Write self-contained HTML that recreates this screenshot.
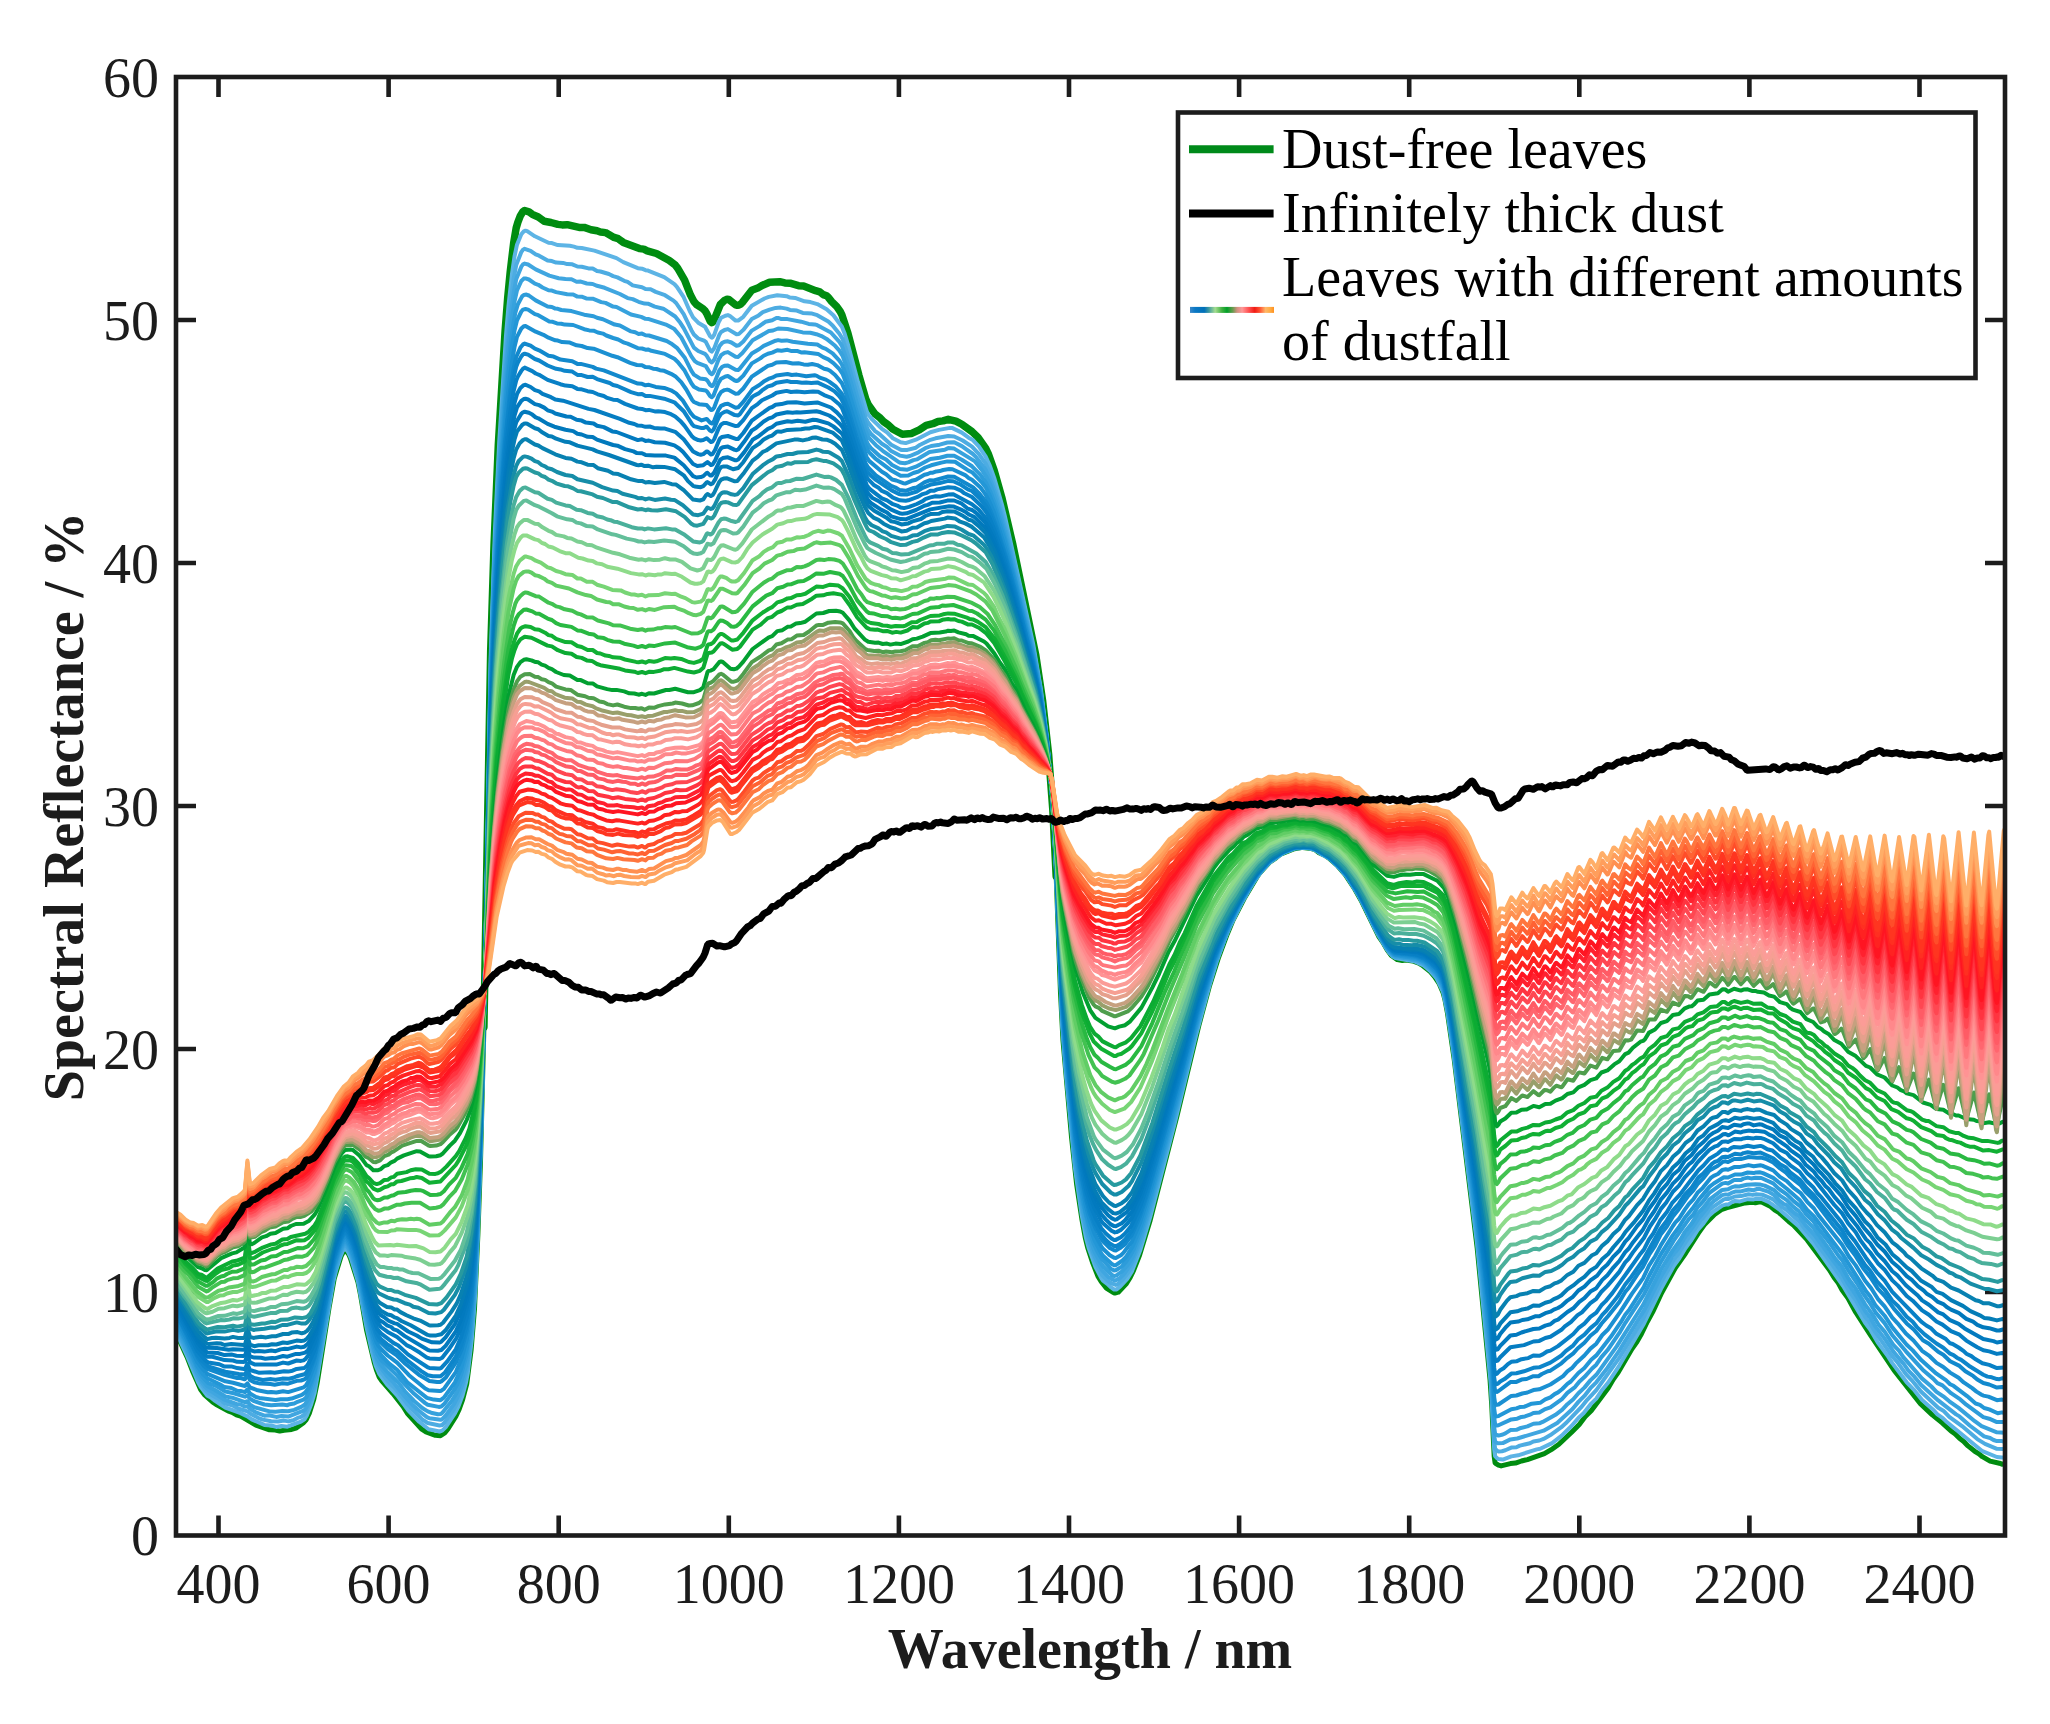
<!DOCTYPE html>
<html><head><meta charset="utf-8"><title>Spectral reflectance</title>
<style>
html,body{margin:0;padding:0;background:#fff;}
body{width:2050px;height:1724px;overflow:hidden;}
svg{display:block;}
text{font-family:"Liberation Serif","Times New Roman",serif;}
</style></head><body>
<svg width="2050" height="1724" viewBox="0 0 2050 1724">
<rect width="2050" height="1724" fill="#fff"/>
<defs><clipPath id="ax"><rect x="176.0" y="77.0" width="1829.0" height="1458.5"/></clipPath></defs>
<path d="M218.5 1535.5V1515.5M218.5 77.0V97.0M388.6 1535.5V1515.5M388.6 77.0V97.0M558.7 1535.5V1515.5M558.7 77.0V97.0M728.8 1535.5V1515.5M728.8 77.0V97.0M898.9 1535.5V1515.5M898.9 77.0V97.0M1069.0 1535.5V1515.5M1069.0 77.0V97.0M1239.1 1535.5V1515.5M1239.1 77.0V97.0M1409.2 1535.5V1515.5M1409.2 77.0V97.0M1579.3 1535.5V1515.5M1579.3 77.0V97.0M1749.4 1535.5V1515.5M1749.4 77.0V97.0M1919.5 1535.5V1515.5M1919.5 77.0V97.0M176.0 1292.0H196.0M2005.0 1292.0H1985.0M176.0 1049.0H196.0M2005.0 1049.0H1985.0M176.0 806.0H196.0M2005.0 806.0H1985.0M176.0 563.0H196.0M2005.0 563.0H1985.0M176.0 320.0H196.0M2005.0 320.0H1985.0" fill="none" stroke="#1c1c1c" stroke-width="4.6"/>
<g clip-path="url(#ax)" fill="none" stroke-width="4" stroke-linejoin="round" stroke-linecap="round">
<path d="M176.0 1333.0l11 23.9l6 15.4l7.6 17.1l4.3 5.8l7.6 6.7l3.4 2.4l12 6.6l4.2 1.5l4.3 2.4l4.2 1.4l15.3 9l13.6 4.6l6 .2l4.2 1.1l4.3-.9l7.6-.8l4.3-1.3l7.7-5.4l2.5-2.9l3.4-7l4.3-13.6l3.4-16.4l11.9-75.5l5.1-28.6l6.8-22.3l2.5-4.8l.9-.8l1.7 .1l2.5 3.2l1.7 4l7.7 24.1l2.5 12.6l6 35.1l7.6 32.1l2.6 8.7l2.5 6.3l2.6 3.9l11.1 12.6l10.2 12.9l4.2 6.8l14.5 16l4.2 2.7l9.4 3.4l5.1 .4l4.2-2.7l3.4-4.3l7.7-12.2l3.4-7.3l3.4-9.5l4.2-16.2l4.3-33.2l3.4-41.5l3.4-74.5l2.6-73l3.4-134.1M1056.2 876.4l4.3 116.7l2.5 47.8l8.6 97.2l5.1 46.9l5.1 33.7l3.4 18.6l2.5 10.4l5.1 15.5l5.1 12.9l3.4 5.7l5.1 6.3l6 3.9l2.5 1.1l3.4-.9l7.7-8.1l4.2-6.7l3.4-7l6-15.4l10.2-33.4l27.2-105.6l22.1-91.5l10.2-37.9l9.4-29.5l8.5-22.9l5.9-14.1l11.1-21.6l13.6-22.8l1.7-2.4l10.2-11.2l6-4l4.2-3.6l14.5-5.8l8.5-1.3l8.5 1.1l3.4 1.1l4.2 3.1l6 2.7l5.1 3.7l7.7 6.9l7.6 8.8l9.4 14.4l6.8 12.2l17 34.8l4.2 6l4.3 7.5l4.2 5.8l6 4.1l5.1 .9l3.4-.4l6.8 .8l6.8 2.6l2.6 1.5l8.5 6.8l4.2 5l4.3 6.5l4.2 9.7l1.7 6.5l2.6 13.8l6.8 46.8l22.9 188.2l12.8 131.1l1.7 25.2l2.5 51.8l.9 6.4l.9 .8l2.5 1.6l2.6 .7l9.3-2.3l5.1-.5l6-2.1l5.9-1.4l17-6l6.8-3.9l7.7-5.5l12.7-12l7.7-7.8l6-7.8l5.9-5.9l17-22.7l5.1-8.7l5.1-7.2l13.6-23.3l5.1-7.3l4.3-7.5l5.9-12.3l6-10.9l8.5-18.3l13.6-24.8l10.2-14.5l12.8-20.1l5.9-8.4l10.2-10.3l6.8-4.8l5.1-1.8l18.7-4.9l6.9-.6l3.4 .5l4.2-.9l2.6 .4l8.5 4.2l4.2 3.5l3.4 2l10.2 9.2l5.1 4l13.6 14.7l22.1 29.9l5.1 8.2l3.5 4.4l4.2 7.6l6 8.3l7.6 13.9l14.5 22.5l23.8 35.5l26.4 33.5l11.9 11.2l10.2 8.2l8.5 7.9l4.2 2.9l4.3 4.3l4.2 3.2l4.3 4.5l6.8 5.4l4.2 2.6l3.4 2.8l7.7 4.4l9.3 2.1l2.6 1l2.6-.2" stroke="#008c10" stroke-width="5"/>
<path d="M483.9 1027.2l6.8-376.6l3.4-107l4.2-98.1l6.8-114.5l2.6-33.2l2.5-25.7l3.4-28.7l2.6-15.5l1.7-5.8l2.5-6.4l2.6-4.1l1.7-1.1l4.2 1.3l3.4 2.5l6 2.7l5.9 4.3l6.8 1.2l6.8 1.9l4.3 .5l5.1-.2l11.9 2.7l5.1 0l6.8 2.3l6 1.1l3.4 1.2l5.1 .6l8.5 4.8l4.2 1.3l5.1 3.7l16.2 6.2l4.3 .5l3.4 1.7l9.3 2.7l12.8 7l5.9 4.5l2.6 3.4l6.8 11.7l5.9 15l3.4 6.4l2.6 3l5.9 3.8l2.6 2.4l1.7 2.7l3.4 7.7l1.7 1.5l.8-.4l1.7-2.8l6-14.9l4.2-4.1l2.6-1.1l1.7 .2l6.8 5.4l1.7 .4l1.7-.3l1.7-.9l1.7-1.7l9.4-12.1l5.9-2.2l4.3-2.6l7.6-3.3l10.2-.5l5.1 1.2l5.1 .3l8.5 2.5l5.1 .4l12 4.6l4.2 1.2l3.4 2.7l3.4 1.2l1.7 1.5l3.4 4.3l5.1 5.1l3.4 4.8l1.7 3.4l6 18.2l11 42.2l6.8 23.5l2.6 5.9l6.8 9.4l4.2 3.1l4.3 4.4l4.2 3l5.1 4.7l9.4 5l9.4-.9l7.6-3.6l6.8-4.4l6.8-1.7l5.1-2.2l5.1-.6l5.1-1.6l7.7 1.8l5.9 3.1l10.2 7.4l6 5.8l7.7 11.1l2.5 5.1l6 17l7.6 26.8l11.1 47.5l22.9 110.3l6.8 45.7l6 53.5l4.2 55l3.4 67" stroke="#008c10" stroke-width="7.5"/>
<path d="M176.0 1331.9l11 23.8l11.1 26.5l2.5 4.5l6.8 9.1l3.4 1.7l4.3 3.4l10.2 6.6l15.3 5.6l6.8 3.3l4.3 3l12.7 5.5l6.8 .6l5.1 1.4l5.1-.8l6 .6l13.6-5l3.4-2.3l2.6-4.3l4.2-10.9l3.4-11.3l18.7-111.3l2.6-10.6l4.2-13.6l2.6-6.3l1.7-2.2l.8-.2l2.6 2.7l3.4 7.4l6.8 22.6l8.5 45.5l5.9 26.6l3.4 12.5l3.4 7.7l8.5 11.5l9.4 10.1l11.1 15.1l11 11.4l9.4 7.4l11 2.3l2.6-.9l3.4-3.2l9.3-14l3.4-6.5l4.3-11.7l3.4-12.8l1.7-8.7l4.2-35.8l3.5-46.6l2.5-58.8l3.4-103l3.4-141.4l6-330.8l4.2-125.7l4.3-89l6.8-107.1l2.5-29.9l3.4-31l2.6-18.1l2.5-11.8l4.3-10.4l2.5-2.9l1.7-.7l1.7 .5l7.7 5.1l13.6 6.4l3.4 .4l5.9 2l12 .7l4.2 .8l3.4 1.2l4.3 .2l12.7 2.6l22.1 7.5l6.8 4l14.5 6.1l4.2 .5l3.5 1.5l2.5 .4l16.2 6.5l10.2 7l2.5 2.7l6.8 10.4l6 13.8l3.4 6.4l5.1 5.3l6.8 4.1l5.1 9.5l1.7 1.4l.8-.4l1.7-2.7l4.3-12.3l2.5-4.5l4.3-2.1l2.5-.6l1.8 .7l5.9 4.8l2.6 0l5.1-3.8l8.5-11.1l12.7-7.2l4.3-1.6l8.5-1.7l9.3 1l3.4 1.4l5.1 .3l9.4 3.4l5.9 .8l6.9 2l9.3 5.1l6.8 6l8.5 11.6l2.6 6.4l3.4 11.1l10.2 38.1l8.5 28.5l1.7 3.7l3.4 4.4l10.2 9.8l5.1 3.6l5.9 5.8l7.7 4l5.1 .9l10.2-3.4l14.5-7.4l8.5-2.4l11-2l2.6 .2l9.3 4.5l6.8 5.1l4.3 2.4l5.9 6.3l6.9 10.3l4.2 9.2l4.3 12l7.6 26.2l3.4 13.5l28.1 127.2l7.6 44.8l6 47.8l5.1 58.8l3.4 60.7l6.8 168l3.4 45l9.4 98.4l6.8 47.3l4.2 22.4l2.6 9.8l6.8 19l5.9 11.3l1.7 2.5l4.3 3.2l3.4 3.4l3.4 2.3l2.5-.1l3.4-2.7l7.7-8.4l4.2-6.9l8.5-21.7l10.2-34.1l23.9-91.5l22.1-91.2l13.6-50.1l6.8-22.1l7.6-21.1l5.1-12.2l12-24.5l12.7-22.2l8.5-11.3l6.8-7.1l12.8-9.1l12.7-5.5l8.5-.1l8.5 1.2l2.6 1l15.3 9.2l11.9 11.8l6 7.5l10.2 16.7l6.8 12.3l8.5 18.7l5.1 9.8l10.2 16.5l4.2 4.2l2.6 1.6l19.6 3.5l8.5 3.9l6.8 5.8l5.9 6.5l6.8 14.3l4.3 20.6l5.9 39.8l23.8 192.2l13.6 139.3l3.4 65.7l.9 6.5l1.7 1.8l1.7 1.1l4.3 .5l8.5-3.2l6.8-1.1l18.7-5.9l3.4-.6l11.9-5.7l9.3-7.2l9.4-9.2l7.6-8.7l5.2-4.8l7.6-9.6l5.1-5l6-8.9l5.9-7.2l11.1-16.9l24.6-41.9l17-34.6l12.8-23l5.1-7l6-10l6.8-9.3l5.9-9.5l6-6.9l5.1-7.3l5.1-4.6l8.5-5.9l3.4-1l2.5 0l5.1-3.2l1.7-.4l5.1 .4l7.7-2.2l6 .2l2.5-.6l6 .3l6.8 3l10.2 7.2l19.5 17l14.5 17.1l29.8 42.4l22.1 36.9l5.1 6.8l7.6 13.1l10.2 13.8l4.3 6.7l14.4 19.2l6.8 7l8.6 10.8l11.9 10.5l3.4 3.7l5.1 3.5l3.4 3.4l36.5 30l14.5 5.8l7.7 .7" stroke="#5db4e5"/>
<path d="M176.0 1329.5l12.7 27.5l9.4 22.7l6.8 9.8l3.4 3.4l12.8 7.5l3.4 2.9l7.6 2l6 3.2l9.3 2.8l2.6 2.1l9.3 5l3.4 1.2l8.5 1.6l6.8 .3l6-.9l4.2 .8l5.1-1.2l4.3-2.3l3.4-1l3.4-2.5l2.6-4.1l4.2-10.7l3.4-10.9l2.6-12.8l6.8-42.9l9.3-53.5l2.6-10.4l5.1-15.8l2.5-4.8l1.7-.9l2.6 1.9l2.5 4.7l7.7 25.2l8.5 44.8l5.9 25.8l3.4 12.1l3.4 7.7l8.5 11.3l8.6 8.6l11 14.4l15.3 15.7l5.1 3.2l11.9 2.5l2.6-.5l2.5-2.6l9.4-13.4l3.4-6.4l5.1-13.1l5.1-21.4l4.2-35.4l3.5-46.6l2.5-58l3.4-101l3.4-138.3l6-324.9l3.4-101l4.2-92.5l6-97.3l3.4-42.7l2.5-24.8l3.4-26.4l2.6-14.1l5.1-13l1.7-2.4l1.7-.9l5.9 2l5.1 3.6l3.4 1.3l8.5 4.9l4.3 .5l4.2 1.5l6.9 .3l4.2 1.2l5.1 .2l5.1 2.2l4.3 .2l6.8 1.7l4.2 .1l4.3 2.5l3.4 .5l8.5 2.5l4.2 2.1l4.3 1.3l6.8 3.4l3.4 1.1l5.1 3.5l9.3 1.8l3.5 1.9l5.1 .2l5.1 2.6l9.3 3.3l8.5 5.4l2.6 2.4l7.6 11.2l7.7 16l2.5 4.3l4.3 4l5.9 2.2l1.7 1.2l4.3 8.5l1.7 1.2l2.5-3.5l5.1-13.5l1.7-2.6l3.4-2l3.4-.9l8.6 5.1l2.5-.3l4.3-4l8.5-10.8l6.8-3.7l4.2-3.3l6.8-2.5l6-1.7l5.1-.3l5.9 1l3.4 1.3l6.8 .7l6 2.3l9.3 .7l5.2 1.6l11 6.4l4.3 3.8l6.8 8.4l3.4 5.5l5.9 18.6l17 59.9l2.6 5.1l6.8 8.2l4.2 2.9l11.9 10.8l9.4 4.9l1.7 .4l5.1-.2l8.5-2.2l4.3-3l10.2-4.9l5.1-1.5l12.7-2.3l6 .5l8.5 4l9.3 6.1l6.8 7.2l6.9 9.8l3.4 7.2l5.1 13.9l11 38.1l11.1 47.3l17 78.1l6.8 37.4l6.8 52.4l5.1 58.4l3.4 59.5l6.8 166.2l3.4 45.1l9.4 97.3l6.8 47l6.8 31.9l7.6 21l6 10.8l5.9 5.8l3.4 2.4l4.3 1.6l1.7-.7l4.2-3.7l4.3-5.1l5.9-8.5l8.5-21.2l10.2-34.1l23-87.5l22.1-90.4l10.2-37.7l10.2-34.2l14.5-37.5l11.1-21.9l7.6-13.6l10.2-15.3l9.4-10.6l16.1-11.4l4.3-.9l5.9-2.6l4.3 .1l4.2-.6l5.1 .4l6.8 2.2l6.8 4.6l6.9 3.3l11 10.8l6.8 8.2l11.1 17.1l11.9 24.4l15.3 28.1l1.7 2.7l5.9 6.7l3.4 2l5.1 .1l13.7 2.6l7.6 3.2l7.7 6.2l4.2 4.9l4.3 6.6l4.2 9.2l4.3 20.1l5.9 39.5l23.8 189.9l13.6 136.5l3.4 65.2l.9 6.6l1.7 1.9l1.7 .9l3.4-.3l3.4-.9l6-2.7l5.1-.4l3.4-1.6l10.2-2.4l3.4-1.8l5.9-.9l4.3-1.6l6.8-3.8l11-7.9l4.3-3.9l15.3-15.9l6-7.3l9.3-9.9l23-32.3l23.8-39l5.9-12.6l6-10.7l5.9-13l12-21.2l5.9-8.1l5.1-8.5l13.6-19.8l8.5-10.8l3.4-4.1l3.4-3l11.1-7.7l1.7-.5l2.5 .2l6.8-2.6l6-.4l7.6-1.9l4.3 .7l3.4-.6l6 .4l11 4.7l7.7 6.9l5.1 3.3l14.4 13.1l5.1 7l8.5 9.7l4.3 6.7l9.3 12l14.5 20.8l6.8 11.7l6.8 9.7l9.4 16.5l4.2 5.5l6 9.8l17 24.2l5.9 7l7.7 10.9l5.9 6.1l9.4 11.4l17 16l5.1 3l6 6.2l12.7 9.2l15.3 13l7.7 4.8l11.9 4.9l7.7 .2" stroke="#4dace2"/>
<path d="M176.0 1327.6l15.3 33.1l6.8 16.4l6.8 9.5l3.4 3.3l4.2 2.1l12 7.7l11.9 4.2l4.2 .6l4.3 2.1l2.5-.4l2.6 2.7l5.9 3.5l8.5 3.3l4.3-.4l7.6 1.6l5.1-.8l6.8 .5l15.4-6l1.7-1.4l2.5-4.3l3.4-8.6l3.4-11l2.6-12.5l6.8-42.9l9.3-52.5l6.8-23.9l2.6-5.9l1.7-2.2l.8-.2l2.6 2.3l3.4 7.1l6.8 22.3l8.5 44.3l8.5 34.3l2.5 6.7l2.6 4.7l7.6 9.9l5.2 5l12.7 15.6l6.8 7.3l9.4 8.5l5.1 3.9l2.5 1.2l11.1 1.5l1.7-.7l3.4-3.4l8.5-11.9l3.4-6.5l5.1-13.3l3.4-12.7l1.7-8.8l4.2-35l3.5-45.9l2.5-57.2l3.4-99.2l3.4-136.9l6-318.1l3.4-99.8l4.2-90.3l6-95.5l3.4-41.7l2.5-23.6l3.4-25.9l2.6-14.1l5.1-12.6l1.7-2.4l1.7-.7l3.4 .9l7.6 4.9l13.6 6.2l9.4 2.6l6.8 .9l6 .1l5.1 2.5l4.2-.1l6 1.9l5.9 .5l4.3 1.8l7.6 2l15.3 6.2l7.7 4.1l5.1 1l5.9 2.7l6 1.8l3.4 .1l6.8 2.9l8.5 2.1l11.9 7.8l5.1 6.3l3.4 5.3l10.2 19.5l4.3 3.4l6.8 2.9l1.7 1.8l3.4 5.7l1.7 1.1l2.5-2.9l5.1-13.4l2.6-3.1l2.5-1.3l3.4-.5l3.5 1.2l5.1 3.2l2.5-.5l4.3-3.8l8.5-10.8l7.6-4.5l6-4.3l6.8-1.5l4.2-2.2l1.7-.2l3.4 1.2l6 0l13.6 2.6l7.6 2.2l6 .5l2.6 .8l13.6 7.3l8.5 9.4l2.5 3.9l6.8 20.2l9.4 33.6l8.5 27l1.7 3.7l2.5 3.4l11.1 10.1l5.1 3.2l4.2 4.1l8.6 4.5l6.8 1.1l3.4-.7l8.5-3.7l6.8-4.1l5.9-2.2l8.5-1.3l7.7-2.2l6.8-.3l7.6 3.9l11.1 7.9l3.4 3.4l9.4 12.3l5.9 13.4l4.3 12.2l11 39.3l25.5 112l5.1 25.5l3.4 20.9l6 45.7l5.1 56.8l3.4 59.6l6.8 164.4l3.4 44.6l9.4 96.6l6.8 46.2l4.2 21.7l2.6 10.2l4.2 13l3.4 8.1l6 10.4l5.9 6.4l6.8 4.1l5.1-2.9l3.4-3.1l7.7-10.7l9.3-22.4l11.9-40.1l29.8-113l15.3-63.4l15.3-53.9l6-17.3l8.5-21.7l10.2-23l19.6-33l12.7-14.6l12.8-8.4l11.9-4.9l8.5-1l7.6 .2l4.3 1.3l15.3 9.7l11.1 10.8l6.8 8.4l13.6 22.6l16.1 32.6l8.5 15l2.6 3.5l4.2 4.2l2.6 1.4l10.2 .8l12.8 2.8l3.4 1.8l8.5 6.8l5.9 6.6l3.4 5.9l3.4 7.9l4.3 19.9l6.8 44.9l22.9 181.9l12.8 124.1l4.2 74.6l.9 6.4l.9 .9l1.7 .8l5.1-.1l7.6-3.7l6.8-.9l26.4-7.8l13.6-7.8l15.3-13.9l5.9-7.1l6-6l6-7.7l5.9-5.9l11.1-14.3l11.9-17.4l25.5-41.5l16.1-32.5l6-9.9l5.1-10.2l6.8-8.8l6-10.1l8.5-11.2l5.1-7.7l11-13.5l5.1-4.6l7.7-5.5l3.4-.7l2.5 .4l3.4-1.9l4.3-1.5l5.1 0l7.6-1.9l5.2 .7l3.4-1.2l2.5-.2l8.5 2.8l5.1 2.8l6.8 6.7l3.4 2.6l3.4 1.6l4.3 4.8l8.5 6.9l5.9 8.2l8.5 9.2l27.3 37.3l6.8 12l8.5 12.4l8.5 15l5.1 6.5l5.1 8.8l9.3 12.2l9.4 13.8l10.2 12.1l4.2 6.2l6 6l6.8 8.3l17 15.4l17.9 14l3.4 2l10.2 9.1l14.4 10.8l6 1.7l3.4 2l3.4 1.1l5.1 0l2.6 .7" stroke="#40a6e0"/>
<path d="M176.0 1325.3l7.6 16l13.6 31.1l4.3 6.9l5.9 6.8l7.7 3.9l10.2 6.4l6.8 1.3l12.8 4.5l2.5-1l2.6 3.4l4.2 2.6l16.2 4.4l5.1 .2l6.8-.9l5.9 .4l6-1.4l7.6-3.3l3.5-2.5l2.5-4.2l6.8-19l2.6-12.2l16.1-93.5l2.6-10.1l4.2-13.4l3.4-7.7l1.7-1.2l1.7 1.4l3.4 6.6l6.8 20.4l3.4 14.6l6 32.3l5.9 25l4.3 14.4l3.4 6.4l6.8 7.5l11.1 10.7l7.6 10l8.5 8.9l8.5 7.3l5.1 3.1l3.4 1.3l6.8 1.5l2.6-.1l1.7-1.2l9.3-11.6l5.1-8.3l5.1-12.6l4.3-15l1.7-8.1l3.4-26.5l3.4-39.4l3.4-70.6l3.4-98l3.4-134.4l6-312.8l4.2-117.7l4.3-83.4l6.8-99.8l2.5-27.8l3.4-28.3l2.6-17.1l2.5-11.2l4.3-9.3l2.5-2.4l1.7-.2l3.4 1.1l6 4.2l3.4 1.1l4.2 2.7l6 2.8l3.4 .3l4.2 1.5l11.1 2.1l6 .3l4.2 2.1l4.3 .1l5.1 1.9l5.9 .1l8.5 3.4l4.3 .8l7.6 3.7l3.4 .4l14.5 7.5l10.2 2.4l4.3 1.9l3.4 .3l17 5.5l8.5 4.5l6.8 8.1l10.2 19.2l3.4 4.8l2.5 1.7l8.5 3.2l4.3 7l1.7 1.1l.8-.4l1.7-2.9l4.3-11.5l2.5-4.2l3.4-2.3l3.4-.8l7.7 4.6l2.6 .2l4.2-3.9l10.2-12.7l16.2-9.2l4.2-.6l5.1-2l9.4 .5l15.3 3.4l7.6 .4l6 1.4l5.1 1.9l5.1 2.8l8.5 6.9l4.3 4.8l3.4 5.7l3.4 9.7l11 38.6l8.5 26.9l3.4 6.6l6.8 7.1l6.8 5.6l16.2 11.3l1.7 .7l4.3 .4l3.4-.8l5.1-2.3l3.4-.7l12.7-7.3l15.3-2.4l3.4-1.6l6 .5l20.4 12.5l7.6 9.4l4.3 6.7l3.4 6.6l2.6 6.8l5.9 18.4l6.8 23.7l9.4 38.2l17.8 77.9l7.7 40.1l6.8 50.6l5.1 56l3.4 58.6l6.8 163.1l3.4 44l9.4 95.8l6.8 45.9l4.2 21.3l3.4 12.9l5.1 14.5l6 11.3l2.5 3.4l9.4 8.9l1.7 .9l2.5-.7l5.1-3.8l5.1-5.4l3.4-4.9l2.6-5l8.5-21.9l7.6-24.4l9.4-34.6l23-86.3l14.4-59.3l10.2-36.9l6-20.2l5.9-17.6l11.1-27.7l12.8-26.1l11.9-20.2l3.4-5l12.7-15l12.8-8.1l12.7-5l7.7-.8l6.8 .2l5.9 1.9l15.4 9.9l9.3 9l6.8 8.4l11.9 18.6l12.8 26.2l8.5 15.5l5.9 9.8l6 7.5l3.4 2.2l4.2 .4l4.3 1.3l3.4 .2l4.3 1.1l4.2 .1l8.5 3.8l6.8 5.7l6 6.9l3.4 6.3l2.5 6.2l4.3 19.5l5.9 38.7l23 178.3l13.6 129.6l4.2 72.8l.9 6.4l.9 .9l2.5 1l4.3-1.1l2.5-1.1l5.1-3.3l6-.3l3.4-1.5l7.6-1.9l6-2.7l5.9-.4l3.4-1.4l12.8-7.1l6.8-5.1l5.1-5.5l5.9-5l5.1-6l6-5.6l6-7.2l5.9-5.6l20.4-28.4l26.4-41.6l17.8-35.1l11.1-18.3l8.5-12l4.3-7.4l6.8-8.4l5.9-9.5l7.7-8.7l4.2-5.7l12.8-9.8l5.9-.6l3.4-1.9l3.4-1.1l4.3 .2l7.6-1.7l8.6-.6l5.1 .4l4.2 1l9.4 4.5l5.9 5.6l6.8 4.5l6 6.2l5.9 4.7l5.1 6.6l9.4 9.8l16.1 22l5.1 8l6.9 8.2l7.6 13.6l6.8 9.1l9.4 15.9l7.6 10.6l6 9.8l5.9 6.9l8.5 13l6 6.3l4.2 6.2l18.8 21.5l9.3 7.9l5.1 5.3l6.8 4.5l6 5l9.3 6.6l16.2 13.3l6.8 4.9l15.3 6.2l7.7 .5" stroke="#37a2dd"/>
<path d="M176.0 1323.0l11 22.1l11.1 25.3l5.1 7.5l5.1 5.2l7.6 2.8l9.4 5.6l8.5 1.8l11.1 3.4l2.5-1.3l2.6 3.3l4.2 2.5l10.2 3.3l6.8 .8l11.1-.7l5.1 .6l2.5-1l4.3-.6l3.4-1.8l6-2.1l2.5-2.3l1.7-3l6.8-19.1l3.4-15.9l5.1-31.6l11.1-59.3l2.5-9.2l4.3-12.1l2.5-5l1.7-.9l2.6 2.3l2.5 4.8l6.8 20.1l2.6 10.4l6.8 35.2l6.8 27.9l4.2 12.1l4.3 6.8l15.3 14.5l6 7.1l11 11.3l11.1 9.3l2.5 1.6l11.1 2.2l2.5-.4l3.4-3.1l8.5-11.9l4.3-7.6l4.2-11.1l5.1-18.6l3.4-22.5l4.3-46.4l2.6-48.6l3.4-89.1l3.4-123.3l6.8-341.3l4.2-115.6l4.3-81.5l6.8-98l2.5-27l4.3-33.3l2.5-14.8l2.6-8.6l4.2-7.8l1.7-1.4l2.6-.4l2.5 .9l6.8 4.9l11.9 6.1l4.3 .5l3.4 1.6l2.5 .2l3.5 1.2l10.2 1.1l12.7 3.6l9.4 1.5l3.4 1.6l5.9 1.4l11.9 5.4l5.1 .8l11.1 6l4.2 .9l3.4 1.7l3.4-.4l3.5 1.6l3.4 .3l17.8 5.5l4.3 2.4l5.9 4.4l7.7 9.6l6.8 13.5l2.5 3.7l6 3.8l5.9 .8l1.7 1.6l2.6 4.1l1.7 1.2l.8-.3l1.7-2.6l5.1-13l2.6-3.2l2.5-1.3l3.4-.2l7.7 4.2l2.6 .3l1.7-1.5l11.9-15.1l7.6-4.4l4.3-3.2l11.9-5.1l2.5-.6l3.4 .6l5.1-.3l6 1.4l15.3 2l9.4 .7l5.1 3.1l3.4 1.2l6.8 4.5l6.8 7.4l2.5 3.8l3.4 8.7l11.9 40.1l9.4 28.2l1.7 3.3l2.5 3.1l9.4 8.5l5.9 3.2l6 5.4l7.7 4l7.6 .7l8.5-3l14.5-7.7l9.3-1.2l7.7-2l6.8 0l7.6 3.9l10.2 6.6l8.5 8.6l5.2 7.3l4.2 8.6l4.3 11.1l7.6 24l5.1 18.5l26.4 110.5l7.6 41.2l6 43.6l5.1 55.1l3.4 58.7l6.8 160.6l3.4 43.3l9.4 94.7l7.6 49.7l6.8 29.3l4.3 12.4l3.4 7.5l5.1 8.4l8.5 9.3l3.4 1.7l1.7-.1l5.9-3.7l4.3-4.8l4.2-6.1l3.4-6.3l7.7-19.5l9.3-30.4l29.8-110.6l17.9-71.7l14.4-49.3l6.8-18.7l10.2-25.1l12.8-25.1l10.2-16.9l5.1-7.3l11.1-12.8l14.4-10l12.8-4.6l6.8-.4l3.4 .8l5.1-.2l3.4 1l14.5 9.1l12.7 12l7.7 10.2l4.2 7.4l3.4 4.4l20.4 40.6l9.4 15.3l5.1 6l1.7 1.3l2.5 .8l8.5 1l14.5 2.9l5.1 2.5l11.9 11.3l3.4 5.5l3.4 8l4.3 19l6.8 43.8l22.9 176.9l12.8 119.4l1.7 22.7l2.5 48.9l.9 6.4l.9 1l.8 .5l1.7-.2l12.8-5.9l5.9-.7l4.3-1.8l3.4-.5l5.1-1.7l3.4-1.7l5.9-.6l6-3.3l5.1-1.7l11.9-8.6l5.1-5.9l7.6-5.8l4.3-5.4l5.1-4.6l7.7-8.6l4.2-3.8l5.1-7.6l6-6.8l12.7-18.5l5.1-8.7l18.7-28.6l16.2-31.2l13.6-22.7l15.3-21.8l4.3-4.3l4.2-7.1l6-6.6l5.9-8l12.8-9.2l3.4-.7l2.5 .6l6-3.5l6.8-.1l2.5-1.3l4.3-1l3.4 .8l4.3-.6l5.9 .2l11.9 5.3l5.1 5.1l8.5 6l6.8 6.7l6.8 5.3l6 8.1l6.8 6.5l4.2 6.4l12.8 16.2l8.5 12.5l3.4 3.8l6 10.2l10.2 15.1l5.1 8.7l6.8 9.6l5.1 8.6l9.3 11l7.7 12.2l13.6 16l17.9 19.5l9.3 7.8l4.3 4.5l5.1 2.3l8.5 7.8l9.3 6.2l6 5.3l17 12.4l5.9 1.6l7.7 3.4l7.7-.1" stroke="#2d9cda"/>
<path d="M176.0 1321.2l11 21.4l10.2 23.2l6 8.7l4.2 3.7l12.8 6.3l4.3 2.6l6.8 .9l5.9 2.7l3.4 .2l4.3 1.2l2.5-2.7l2.6 4.2l5.9 3.4l3.4 .9l16.2 2.1l5.1-.8l6.8 0l4.2-.6l10.2-3.7l3.5-2.4l2.5-3.5l3.4-7.9l3.4-10l3.4-15.7l6-35.1l10.2-54.1l5.9-19.5l2.6-5.3l1.7-2l.8-.3l1.7 1l3.4 6l6.8 19.8l2.6 9.9l6.8 35.1l6.8 27.2l3.4 9.8l4.2 7.1l7.7 8.1l8.5 6.7l10.2 12.4l19.6 15.7l6.8 1.7l6.8 .6l3.4-2.5l11-15.4l6-13.2l5.9-21.2l3.4-22.3l4.3-45.8l2.6-48.1l3.4-87.3l3.4-121.4l6.8-334.9l4.2-113.3l4.3-79.2l6.8-96.3l2.5-26.5l3.4-26.6l2.6-15.7l2.5-10.2l4.3-8.8l1.7-1.9l2.5-.6l2.6 .6l6.8 4.6l3.4 1l11 6.2l3.4 .4l4.3 1.6l4.3 .3l3.4 .9l8.5 .4l11 4.2l5.1 1.2l4.3 .3l4.2 1.8l5.1 1.1l3.4 1.9l6.8 2.5l5.1 1.5l6 3.2l3.4 1l10.2 4.5l4.2 .3l3.5 1.2l2.5-.3l3.4 1.4l13.6 3.1l9.4 4.9l3.4 3.1l6.8 8.7l6.8 12.7l2.5 3.4l5.1 2.9l6.8 1l1.7 1.5l2.6 4l1.7 1.1l1.7-1.6l5.1-13l2.5-3.9l4.3-2.2l2.5-.5l6.9 4.5l1.7 .5l1.7-.5l5.1-4.9l8.5-12.2l8.5-5l3.4-2.7l4.2-2l4.3-1.1l5.1-2.4l4.2 .6l6-1l4.2 1.3l6 0l3.4 1.3l3.4-.2l13.6 1.7l5.1 3.2l5.1 2.2l5.1 3.8l6 6.1l3.4 5l3.4 9l11 37.2l8.5 25.5l3.4 6.5l6 5.9l15.3 11.6l10.2 5.9l7.7-.3l5.1-2.5l5.1-1.5l6.8-4l5.9-2.2l10.2-2.7l6-1.2l7.6 .4l13.6 8.8l3.4 1.6l9.4 9.6l4.3 5.4l3.4 6.9l5.1 12.9l10.2 32.2l11 43l6 26.5l11 44.7l5.1 24.4l3.4 19.4l6 43.4l5.1 54.7l3.4 57.7l6.8 157.7l3.4 43l9.4 93.7l7.6 49.5l3.4 16.7l3.4 12.5l5.1 14.3l6.8 13l1.7 2.4l8.5 8l2.6 1.5l1.7-.1l6.8-4.7l3.4-3.5l6.8-10.9l7.6-18.5l11.9-38.6l30.7-113.3l15.3-60.7l16.1-53.6l4.3-11.6l11-26.1l12.8-24.8l11.9-20l14.5-17.1l14.4-9.5l6.8-3.2l6.8-2l13.6 .3l6 2l9.4 6.6l4.2 2.4l11.1 10.3l5.9 7.3l11.9 18.8l6.8 12.4l10.2 21.4l10.2 17.8l2.6 3.3l5.1 4.3l5.9 1.7l16.2 2l8.5 3.7l5.1 4.1l6.8 7l3.4 5.5l3.4 7.2l4.3 18.9l5.9 37.8l23.8 180.1l12.8 116.5l1.7 22.1l2.5 48.1l.9 6.3l.9 1l.8 .4l1.7-.3l12.8-6.8l5.1-.9l3.4-1.3l4.2-.3l7.7-3.1l8.5-.9l5.1-3.4l5.1-2.1l4.2-3.2l3.4-1.7l4.3-3.4l5.1-5.1l3.4-2.4l7.6-8.5l6-5l6.8-8.3l5.1-4.3l14.5-18.6l11-16.2l3.4-5.8l4.3-5.4l14.4-22.7l5.1-10.7l11.9-21.9l12-19l5.9-7.8l6-9.5l7.6-9.2l6-8.5l11-13.2l4.3-3.4l10.2-6.3l4.2 .3l6.8-3l6 .1l6.8-2.1l6 .6l2.5-.7l3.4-.1l3.4 .8l10.2 4.8l13.6 10.8l12.8 11.2l7.6 10l6.8 6.6l29 38.4l22.9 36l4.3 5.4l5.1 8.7l9.3 10.7l7.7 11.7l14.4 17.3l6 5.7l8.5 9.7l15.3 13.6l9.4 6.4l4.2 4.1l3.4 1.6l13.6 10.3l8.5 7.4l4.3 1.3l4.2 3.2l5.1 1.4l8.5 3.9l4.3-.9l2.6 .3" stroke="#2397d7"/>
<path d="M176.0 1318.0l11 21.4l10.2 22.4l5.1 6.8l5.1 5.3l17.9 7.4l7.7 1.5l11.9 3.2l2.5-2.7l2.6 4.2l7.6 2.8l10.2 2l3.4-.4l5.1 .6l6.8-1.3l5.1 .9l15.4-4.7l2.5-2.3l1.7-2.8l6.8-17.5l3.4-15.2l5.1-29.8l10.2-53.2l6.8-22.5l2.6-5.4l1.7-1.9l.8-.2l1.7 .9l2.6 3.9l4.2 10.5l5.1 16.7l7.7 37.9l6.8 26.3l3.4 10l1.7 2.9l3.4 4l5.9 5.8l9.4 7.2l11.9 12.5l16.2 13.3l3.4 1.7l11 .9l1.7-.4l2.6-1.8l11.9-16.8l5.9-14.2l5.1-18.5l4.3-29.1l3.4-36.9l2.6-46.9l3.4-85.5l3.4-118.5l6.8-327l4.2-110.6l4.3-77.3l6.8-93.5l2.5-25.7l3.4-25.9l2.6-15.4l2.5-10.3l4.3-8.3l2.5-2.3l1.7-.2l10.2 5.7l7.7 3.1l5.1 2.9l6.8 2.6l2.5 .3l4.3 1.5l7.7 .5l6.8 2.7l5.1 .7l5.9 2.1l6 .6l18.7 7.1l5.1 1.4l12.7 5.6l6.8 2.2l5.1 .3l3.5 1.8l3.4 .1l4.2 1.5l3.4 .3l3.4 1.2l4.3 .6l6.8 3l4.2 2.4l6 6l5.1 7.3l5.9 10.5l1.7 2l5.1 2.2l7.7 .9l4.2 4.9l1.7-.3l1.7-2.4l4.3-11.4l2.5-3.9l3.4-1.9l2.6-.5l1.7 .4l6.8 3.7l2.6-.2l5.1-5l8.5-11.8l16.1-10.8l4.3-1.1l4.2-2.3l9.4-.5l6.8 1.5l5.9-.2l5.1 1.1l4.3 .3l4.2-.7l5.2 1.1l6.8 3.6l3.4 .8l2.5 1.3l5.1 4.2l6.8 8.1l3.4 8l11.9 38.4l9.4 27.5l2.5 3.9l12.8 10.8l4.2 2.5l6 5.3l4.2 1l6.9 2.7l2.5 .2l6-2.6l4.2-1.1l8.5-5l3.4-.7l2.6-1.2l2.5-.1l3.4-1.3l3.4-.3l3.4-1.1l6-.9l3.4 .2l12.7 5.8l3.4 2.9l3.4 1.8l8.5 7.7l5.2 7.2l4.2 8l4.3 10.3l12.7 41.1l9.4 36.1l17 70l6.8 34.2l6.8 47.1l5.1 53.3l3.4 56.4l6.8 155.2l3.4 42.6l9.4 92l6.8 44.7l4.2 20.9l3.4 12.9l5.1 14.1l6.8 12.8l1.7 2.3l6.8 6.5l4.3 2.6l1.7 .2l5.1-2.8l2.5-2.3l8.5-11.4l7.7-17.7l11.9-37.6l30.6-111.2l15.3-60l16.2-52.6l12.7-32.8l10.2-21.1l12.8-21.5l8.5-13l10.2-11.8l1.7-1.7l3.4-1.7l3.4-2.8l6.8-4.2l11.9-4.1l5.1-.2l3.4-.8l11.1 2l4.2 3.1l9.4 4.9l13.6 12.9l6 6.8l16.1 26.7l8.5 18.4l8.5 15.4l6 9.6l6.8 7.1l1.7 .9l4.2-.1l16.2 2.4l8.5 3.4l6.8 5.5l5.1 5.1l3.4 5.4l3.4 7.1l3.4 14.1l6.8 41.8l23.8 176.1l12.8 113.1l1.7 21.5l2.5 47.4l.9 6.1l.9 1l.8 .5l1.7-.4l12.8-8.6l5.1-.4l5.9-2l5.1-1l6-2.4l5.9-.8l11.1-4.8l12.7-8.4l4.3-4.7l5.1-3.8l3.4-4.2l8.5-7.9l6-6.9l5.9-4.9l6-8.7l5.9-5.8l11.9-17.1l11.9-18.5l11.1-15.4l5.9-12.5l6-9.2l5.9-11.4l12-19.1l2.5-3.6l3.4-3.4l6-9.4l4.2-5.8l4.3-4.5l4.2-6.5l5.1-4.7l8.5-10.5l2.6-1.8l4.2-1.8l4.3-4l3.4-.7l2.5 .5l6-2.7l5.9-.2l8.5-1.8l5.2 1.1l6.8-.9l1.7 .3l11 4.8l6.8 6.5l6.8 4.2l6.8 6.7l6.8 5l6.8 9l6.8 6.7l4.3 6.5l23.8 29.8l6.8 11.7l6.8 8.9l9.4 15.3l5.9 7.3l6.8 10.8l6.8 7.5l7.7 11.4l5.1 5.4l8.5 10.5l7.6 6.9l8.6 10.3l7.6 5.4l6.8 6.7l6.8 4.1l6.8 5.6l8.5 5.2l5.1 4.6l8.5 5.7l4.3 3.5l5.1 3.1l1.7 .9l5.1 1l8.5 3.6l5.1-.6l2.6 .6" stroke="#1b90d2"/>
<path d="M176.0 1314.7l5.1 9l17 34.6l5.9 7.8l3.4 2.8l17.1 6l12.7 3.1l3.4 0l3.4 1.2l.9 0l2.5-4.4l2.6 5.2l4.2 2.3l6 1.3l10.2 .4l4.2 .7l7.7-1.5l5.1 .6l9.3-3l4.3-.3l3.4-1.2l1.7-1.3l2.6-4.3l5.9-15.6l3.4-14.7l16.2-83.8l6.8-20.3l2.5-4.8l1.7-1.1l1.7 1.2l3.4 5.4l4.3 10.6l4.2 13.8l7.7 37.5l5.9 22.2l4.3 12.6l1.7 3.1l2.5 2.8l6.8 6.4l9.4 6.7l8.5 8.3l14.5 11.6l9.3 5.4l7.7 1.1l2.5 0l1.7-.7l4.3-3.6l10.2-15.1l5.9-13.8l5.1-18.4l4.3-28.3l3.4-35.9l2.6-45.9l3.4-83.7l3.4-115.6l6.8-317.7l3.4-89.7l4.2-81.2l6-84.1l5.9-58.2l3.4-21.6l2.6-11.6l4.2-9.4l2.6-3.2l1.7-.8l5.9 2.1l4.3 3l4.2 1.6l9.4 5.5l5.1 .8l6.8 3l11.9 1.7l5.1 2.6l3.4 0l11.9 3l3.4 1.7l7.7 1.8l34 13.2l4.2 .2l3.5 1.5l3.4-.5l6.8 2.1l8.5 1l6.8 2.4l5.1 3.1l6.8 7.2l7.6 12.1l3.4 4.1l7.7 3.6l5.1-1.5l3.4 3.8l1.7 .9l.8-.4l1.7-2.6l4.3-11l2.5-3.8l3.4-1.5l3.4-.5l7.7 4l2.6-.5l5.1-5.4l9.3-12.8l6.8-4.1l4.3-3.4l5.1-2.9l3.4-1l4.2-2.3l11.1-1.4l4.2 1l5.1-.4l9.4 1.6l8.5-.9l1.7 .3l3.4 2l6 2l3.4 2l6.8 5.1l5.9 7.1l2.6 5.4l3.4 9.5l8.5 27.9l9.3 26.9l2.6 4.2l7.6 7.6l15.3 10.5l4.3 1.7l4.3 2.6l5.9 .7l6.8-2.5l4.3-.8l7.6-5.1l5.1-2.1l4.3 .1l14.4-3.9l6 .3l18.7 10.4l6.8 6.7l6.8 8.6l4.3 9.1l5.9 15.9l9.4 29.4l10.2 37.8l10.2 42.6l6.8 25.4l7.6 38.2l6 41.4l5.1 52l3.4 56l6.8 152l3.4 42l9.4 90.6l6.8 44l4.2 20.6l3.4 13l6 15.4l5.9 11l1.7 2.4l6.8 6.7l4.3 2.2l1.7 .3l4.2-2.4l5.1-4l6.8-9.3l7.7-17.5l6.8-20.2l6.8-22.9l28.9-104.3l16.2-61.4l16.1-50.6l11.1-27.1l10.2-21.1l7.7-14.2l12.7-20.2l13.6-15l13.6-8.7l8.5-3.3l4.3-1.3l6.8-.5l6.8 .5l8.5 3.8l11.9 7.1l9.4 8.5l8.5 9.7l11 17.4l18.7 37.1l11.1 17.2l5.9 5.1l17.9 2.1l6 1.6l5.9 2.4l6 4.2l5.9 5.9l2.6 3.6l4.2 8.5l4.3 18.1l5.9 36.7l23.8 172.1l12.8 109.8l1.7 20.8l2.5 46.2l.9 5.9l.9 .8l.8 .3l1.7-.9l11.9-8.9l6-.2l5.1-2.3l5.1-.6l6.8-2.8l5.1 0l3.4-2.2l5.9-2.7l2.6-.6l11-7.4l6-5.5l5.9-4.5l4.3-4.8l6.8-5.7l6-7l5.9-4.8l5.1-7.2l6.8-7.8l11.1-14.1l5.9-10l3.4-3.9l8.5-13.2l6-8.1l5.9-11.7l6-9.2l5.9-11.6l6-7.6l6-10.2l5.9-7.2l9.4-13.3l5.1-5.5l4.2-6.3l6-6.1l5.9-7.4l8.5-4.9l5.1-4l2.6-.4l2.5 .8l6-3.2l6.8 .2l7.6-2.1l8.6 .8l4.2-.2l4.3 1.2l7.6 3.7l6.8 5.9l6 4.2l4.2 4.4l10.2 7.9l5.1 6.8l7.7 7.4l19.5 25.7l9.4 11.4l6 9.9l7.6 10l7.7 12.4l6.8 8.4l7.6 11.7l6.8 7.2l9.4 13.1l12.7 14.5l6.8 5.9l9.4 10.9l6 3.5l9.3 8.1l5.1 2.9l6.8 6.5l9.4 4.7l5.9 5.3l7.7 4.7l4.2 3.6l6 3.5l5.9 1.5l7.7 3.1l5.1-.6l2.6 .3" stroke="#1289cd"/>
<path d="M176.0 1312.7l11 20.5l10.2 21.4l3.4 4.5l7.7 7.3l17 5.3l13.6 2.3l6 .4l2.5-4.4l2.6 5.7l4.2 2.3l8.5 2l8.5-.9l4.3 .7l6.8-1.2l6.8 .2l4.2-1l3.4-1.6l7.7-1.9l1.7-1.5l2.6-4.2l3.4-6.8l2.5-6.7l3.4-14.8l15.3-79.6l2.6-9.1l4.2-11.8l2.6-5.4l2.5-2.6l1.7 .7l1.7 2.4l3.4 6.3l1.7 4.5l5.1 16.7l7.7 36.2l5.9 21.8l4.3 11.9l1.7 3.3l2.5 3.4l6 5.1l3.4 2l3.4 3.1l3.4 1.8l11.1 10.2l12.7 9.7l6.8 4.3l5.1 1.1l7.7-.1l4.2-3.4l11.1-16.1l5.1-11l5.9-20.8l3.4-20.9l4.3-42.5l2.6-45.5l3.4-82.1l3.4-112.8l6.8-313.1l3.4-88.9l4.2-80.3l6-82.6l3.4-36.2l2.5-20.8l3.4-21.4l2.6-11l1.7-4.3l3.4-6.1l1.7-2l1.7-.7l3.4 .9l6.8 4.4l4.2 1.5l8.5 5l8.5 3.3l4.3 .6l4.3 1.4l7.6 .8l5.1 3.3l4.3 .2l5.9 1.9l5.1-.2l4.3 2.3l12.7 3.9l3.4 2l4.3 1l13.6 6.1l6.8 2.1l4.2-.2l3.5 1.9l4.2 0l14.5 2.8l10.2 3.6l9.3 8.9l8.5 13.1l1.7 1.8l7.7 2l1.7 0l3.4-1.4l3.4 4l1.7 .7l1.7-1.7l5.1-12l2.5-3.8l3.4-2l2.6-.7l7.7 3.9l3.4 .4l1.7-1.4l11.9-16.7l1.7-1.4l5.1-2.6l4.2-3.6l5.1-3.4l4.3-1.1l4.2-2.6l11.1-1.6l3.4 .9l5.9 0l5.1 .8l4.3-.4l5.1 .5l6-.5l11 5.1l6 3.6l4.2 4.1l2.6 3.3l2.5 5l5.1 13.5l6.8 22.2l6 15.9l4.2 13.3l1.7 3.4l2.6 3l5.9 5.1l15.3 10.2l7.7 3.9l2.6 .6l5.9-.2l9.4-2.9l5.9-3.7l8.5-3.4l8.5-1.3l8.5-2.2l5.1 .4l7.7 3.5l6.8 4.5l4.2 1.7l7.7 7.2l6 7.5l3.4 6.5l5.9 14.3l10.2 30.3l10.2 37.3l16.2 63.6l5.9 25.9l3.4 18.5l6 40.3l5.1 51.3l3.4 55.8l6.8 150.4l3.4 41.5l9.4 90l7.6 47.7l3.4 15.9l4.3 15.6l4.2 11.4l6.8 12.6l5.1 5.9l3.4 3l4.3 2.4l2.5 .1l3.4-2l5.1-4.5l6.8-8.8l8.5-19.6l6.8-20l5.1-17.5l29.8-105.7l14.5-55.5l8.5-27.7l7.6-23.5l6-15.2l5.9-13.9l11.9-24.8l19.6-31.8l12.8-14.4l11-7.6l10.2-4.7l6-1.8l4.2 .2l3.4-.8l6.8 .5l3.4 1l6 3.3l11.9 7.9l6.8 6.4l9.4 10.1l10.2 16.6l16.1 31.3l7.7 13.5l5.1 8.4l2.5 3.1l5.1 3.7l4.3 .4l3.4 .9l3.4-.1l10.2 1.5l8.5 3.1l6 4.2l5.9 5.8l3.4 5l3.4 6.8l4.3 18.3l5.9 36.1l23 163.5l13.6 113.8l1.7 20.4l2.5 45.6l.9 5.9l.9 .8l1.7-.3l2.5-2.4l4.3-2.4l6.8-5.5l5.1-.4l7.6-1.9l9.4-3.5l5.9-.5l11.1-4.7l11-7.1l4.3-4.4l7.6-5.8l5.1-6.2l6-4.4l6-6.6l5.9-4.8l6-8.4l3.4-3.5l11.9-14.8l7.6-12.1l6-7.6l11.9-16.9l17-30.5l6.8-9.1l6-10l5.9-6.7l6-9l6.8-7.2l6.8-10.1l5.1-4.2l8.5-9.3l2.5-1.9l3.4-1.1l4.3-3.6l3.4-.6l2.5 .3l6.8-3.3l6 .7l2.5-1.3l4.3-.8l6 .9l6.8-.7l12.7 5.7l6.8 6.1l6 3.3l4.2 4.7l10.2 7.8l6 7.8l7.6 7.6l28.1 34.8l5.1 8.9l8.5 11.4l9.4 14.4l5.1 5.8l6.8 10.5l7.6 8.2l7.7 11.2l5.9 5.6l8.5 10.4l6 5l4.2 5.4l7.7 7.3l11.9 9.1l6.8 4.2l6.8 6l3.4 1.4l3.4 2.6l4.3 2.2l7.6 5.8l14.5 9l4.2 1.9l4.3 .7l5.1 1.8l2.5 .1l3.4-1l1.8 .3" stroke="#0d85ca"/>
<path d="M176.0 1309.6l11.9 21.9l9.3 19.2l8.5 9.9l2.6 1.9l11.1 1.7l5.1 2.4l6.8-.2l5.9 1.7l6.8 .9l.9 0l2.5-5.3l2.6 6.3l9.3 2.8l11.1-.5l4.2 .5l9.4-1.6l4.2 .4l4.3-.9l4.2-1.8l7.7-.9l2.6-2.2l1.7-2.9l5.1-11.2l1.7-5l17.8-88.9l7.7-22.8l2.5-4.6l1.7-1l1.7 .9l2.6 3.3l4.2 9.8l5.1 15.6l7.7 35.1l6.8 24.6l4.2 10.7l3.4 4l12.8 9.7l4.3 2.1l10.2 9.4l19.5 12.7l1.7 .6l8.5 .7l1.7 0l1.7-.7l6-6.5l8.5-12.1l5.1-11.8l5.9-19.9l3.4-20.9l4.3-41.7l2.6-44.1l3.4-79.8l3.4-110.9l6.8-306.3l3.4-87.3l4.2-78.1l6-81.6l2.5-27l3.4-27.6l3.4-21.1l2.6-10.7l1.7-4l3.4-5.6l1.7-2.2l1.7-1.1l7.6 3.5l3.4 2.4l3.4 1.3l8.5 5.1l12.8 4.3l5.1 1.4l6.8 .7l5.1 2.6l3.4 .3l6.8 2l5.1 .8l5.1 2.3l6 1.7l3.4 1.9l5.9 1.8l4.3 .3l7.6 3.9l12.8 4.6l4.2 .4l3.5 1.3l3.4-.3l5.9 1.5l3.4-.2l6.8 .9l6 2.1l4.2 2.2l5.1 4.5l4.3 5l7.6 10.7l1.7 1.5l4.3 2l2.5 .4l2.6-.4l3.4-1.8l4.2 3.7l1.7-.5l1.7-2.5l4.3-10.5l2.5-4l2.6-1.4l2.5-.2l9.4 3.2l2.6-.4l5.1-5.5l8.5-12.1l5.9-4l4.3-3.8l10.2-4.8l4.2-2.7l10.2-1.9l4.3 1.1l5.9-.4l7.7 .7l8.5-.8l5.1 .3l6 3.3l7.6 2.9l7.7 6.6l2.5 3.2l6 15.3l9.3 28.7l9.4 24.9l1.7 2.6l5.9 6l4.3 2.5l3.4 3.1l5.1 2.2l5.9 4.6l6.9 2.6l5.9 .4l2.6-.4l9.3-3.4l5.1-2.8l4.3-1.3l3.4-2.1l3.4 .1l3.4-1.4l11-2.1l6 .4l6.8 3l3.4 2.6l7.6 3.7l9.4 9l5.1 6.5l3.4 6.4l5.1 12.5l7.7 21.9l4.2 14l9.4 33.8l9.3 37.4l6.8 24.8l4.3 18.2l4.2 22.3l6 39.9l4.2 39.3l4.3 65.8l6.8 147.6l4.2 49.6l9.4 86.1l7.7 45.8l3.4 15.3l4.2 14.1l4.3 10.5l5.9 10.5l4.3 4.9l5.9 5.3l2.6 1.5l1.7-.1l5.1-2.6l4.2-3.8l6-7.4l9.3-20.3l6.8-20.1l11.1-37.9l23-80.8l16.1-60.2l15.3-47.5l14.5-34.6l13.6-25.5l13.6-21.9l3.4-4.7l10.2-10.9l14.5-10l8.5-3.3l5.1-1.5l6.8-.6l3.4 .5l3.4-.3l7.6 3l12 7.4l12.7 11.3l6 7.5l10.2 15.7l17 33.1l10.2 17.6l1.7 2.5l5.9 6.2l2.6 1.1l18.7 2l11.1 3.1l11.9 10.3l3.4 5.6l2.5 5.5l4.3 17.7l5.9 35.3l23.8 166.4l13.6 113.1l3.4 56.8l.9 5.7l.9 .6l.8-.2l3.4-3.6l3.4-2l4.3-4.1l3.4-2.3l5.1-.5l5.1-2.1l6.8-1.1l5.1-2.7l5.9 .4l3.4-1.4l4.3-2.9l3.4-.9l7.6-4.5l15.3-12.1l5.1-5.8l6-4.6l6-6.7l5.9-4.2l5.1-7.4l4.3-4.2l6.8-8.2l28-39.2l3.4-4.1l5.1-10.1l4.3-6l6.8-12.9l6.8-8.7l5.1-8.7l7.7-8.3l18.7-24.7l5.1-4.7l5.9-6.8l8.5-5.1l4.3-3.8l2.5-.4l3.4 1l3.4-2.5l2.6-1l5.9 .7l7.7-1.8l6 1.2l6.8-1.1l2.5 .8l4.3 2.5l5.1 1.3l7.6 6.8l6.8 4.7l3.4 3.3l9.4 6.6l6.8 8.9l6.8 6.4l4.2 6l4.3 4.5l19.6 24.3l6.8 10.9l6.8 8.2l11 16.6l11.1 14.8l7.6 8.2l7.7 11.2l28.9 29.8l5.1 3.8l4.3 2.4l5.9 5.9l9.4 5.3l4.2 4.2l2.6 .7l5.9 3.5l5.1 3.6l2.6 2.6l5.1 2.4l3.4 2.7l7.6 4.5l6.8 1.6l7.7 3.2l7.7-.6" stroke="#0880c6"/>
<path d="M176.0 1306.5l11.9 21l10.2 19.9l6.8 7.6l2.5 1.8l5.1 0l12 3.3l8.5 .4l4.2 1.3l6.8 .1l.9-.2l2.5-6.5l2.6 7.2l5.1 2.2l21.2 0l6.8-2l5.1 .9l8.5-3l4.3 .4l2.6-.5l1.7-1.2l2.5-3.2l4.3-7.6l2.5-5.9l3.4-13l15.3-75.2l2.6-8.6l5.1-13.7l2.5-4.6l1.7-.8l1.7 .9l2.6 3l4.2 9.7l6 17.8l5.9 27.7l6.8 24.4l4.3 11l4.2 5.9l6.8 4.9l9.4 5.1l9.4 8.1l4.2 2l9.4 5.7l6.8 4.8l2.5 .8l10.2 .6l2.6-1.3l6.8-8.6l7.6-11.3l3.4-7.7l6.8-21.9l3.4-19.8l4.3-40.9l2.6-43l3.4-78.1l3.4-107l6.8-298.1l4.2-102.8l4.3-71.6l6.8-84l2.5-23.4l3.4-23.3l2.6-13.2l2.5-8.9l3.4-6l3.4-3l1.7-.4l5.1 2.3l4.3 3.1l4.2 1.2l3.4 2.5l8.5 3.4l4.3 2.4l7.7 1.1l25.5 8.2l5.9 1.1l25.5 8.8l9.4 4l5.1 1.2l3.4 1.6l4.2 .2l3.5 1l4.2-.3l4.3 1.4l6.8 .7l4.2 0l10.2 3.2l8.5 7.5l9.4 12.2l5.1 2.6l2.5 .7l2.6-.7l3.4-2.7l.8 0l3.4 3.1l1.7-.5l2.6-4.2l4.2-10.2l.9-1.5l1.7-1.1l5.9-1l8.6 3.1l1.7-.2l5.1-5.9l8.5-12.4l17.8-12.7l2.6-.9l3.4-2.2l5.9-.7l6-1.6l8.5-.2l8.5 1.3l12.8-1.2l13.6 5.1l5.9 4.9l5.1 5.5l6.8 17l9.4 27.8l8.5 22l1.7 2.7l2.5 2.5l11.1 8.4l5.1 2.1l5.9 3.8l4.3 1.4l3.4 1.9l3.4 .6l5.1-1.2l7.7-2.9l5.9-2.9l2.6-2l5.1-1.7l5.1-1.1l4.2 .3l8.5-2l5.1-.4l18.7 10.1l6.8 5.4l6.9 8.3l4.2 7.5l3.4 7.6l11.9 33.5l10.2 35.8l11.9 46l6 20.9l7.6 36.2l6 38.1l5.1 49.9l3.4 53.8l6.8 145.1l3.4 39.9l9.4 87.2l6.8 42.1l4.2 20.3l3.4 12.3l5.1 14.1l6.8 12.8l1.7 2.2l8.5 7.4l3.4 1.7l1.7-.3l4.3-2.2l6.8-6.7l4.2-5.7l8.5-18.7l6.8-19.8l9.4-31.3l25.5-88.1l15.3-56.4l15.3-46.2l14.5-33.7l15.3-27.7l9.4-14.5l5.1-7.6l11.9-13.5l13.6-8.4l7.6-3.4l6-1.6l4.2 .3l3.4-.5l7.7 .4l3.4 1l15.3 9.2l10.2 9.4l7.7 9.1l10.2 15.1l6.8 12.8l7.6 16l6 10.5l6.8 10.9l4.2 5.3l3.4 3.3l2.6 1.2l21.3 1.8l7.6 2.7l11.1 8.5l4.2 5.9l3.4 7.1l4.3 16.8l5.9 34.8l23.8 163.4l12.8 99.9l1.7 19.3l2.5 43.8l.9 5.7l.9 .7l1.7-.5l2.5-3.3l10.2-9.9l13.6-2.2l9.4-3.6l5.9-.6l6-2.9l5.1-1.3l11-6.9l3.4-3.4l6-4.2l6.8-7l4.3-2.9l8.5-9.1l5.9-4.4l5.1-7l6-5.9l11.9-14l5.9-9.5l3.4-3.5l4.3-6.5l11-14.4l6-11.5l5.1-7.3l5.9-10.3l5.2-6.2l6.8-11l5.9-5.8l6-8.5l7.6-8l5.1-7l8.5-9.1l3.4-3.4l5.1-3.2l3.4-1.1l4.3-3.9l3.4-.3l2.5 .6l6-3l6.8 .3l2.5-.9l4.3-.6l5.1 .8l3.4-.9l4.3 .2l4.2 1.3l8.5 4l6.8 6.4l6.8 3.4l3.4 3.8l9.4 7l7.6 9.4l6.8 6l20.4 25.8l7.7 8.4l6 9.9l7.6 8.9l5.1 8.7l5.1 6.9l4.3 4.7l7.6 10.7l6.8 6.6l7.7 10.6l5.9 5.5l8.5 10.1l6 4.7l9.4 9.7l6.8 4.4l7.6 6.7l6 3.1l8.5 6.5l8.5 3.6l6.8 5.9l11 6.7l6 2.9l5.9 1.2l7.7 2.5l5.1-.9l2.6 .2" stroke="#057dc2"/>
<path d="M176.0 1304.0l22.1 39.1l2.5 3.2l6.8 6.3l10.2 .4l6.9 2.1l7.6-.5l4.3 1.1l6.8 .3l1.7-.4l2.5-7l2.6 7.7l4.2 1.3l6.8 .2l4.3 .9l6.8-.8l3.4 .3l7.6-2.2l4.3 .7l8.5-2.8l4.2 0l5.2-1.3l2.5-2.2l1.7-2.8l6-13.7l2.5-9.9l5.1-25.6l11.1-49.9l5.9-17.7l2.6-4.9l2.5-2.3l1.7 .6l2.6 3.1l4.2 9.5l5.1 15.1l6.8 30.2l6.8 23.3l4.3 10.9l2.5 3.6l4.3 2.5l3.4 2.9l4.3 1.7l2.5 2.4l3.4 1l7.7 5.7l22.9 13.7l1.7 .6l8.5 .3l3.4-.7l4.3-4.1l10.2-14.5l5.1-11.4l5.9-19.7l3.4-19.4l4.3-39.6l2.6-41.4l3.4-76.4l3.4-105.2l6.8-291.3l4.2-100.6l4.3-70.2l5.9-74.3l3.4-30.5l3.4-22.6l2.6-13l2.5-8.4l4.3-6.5l2.5-1.9l1.7-.3l2.6 .8l6.8 4.6l4.2 1l5.1 2.5l3.4 2.7l4.3 1.3l3.4 1.9l11.1 3l4.2 .2l6 3.1l5.1 .8l4.2 2l7.7 .9l3.4 2.2l6.8 1.4l8.5 4.3l4.2 .6l21.3 8.1l4.2-.8l3.5 1.6l3.4-.3l5.9 1.6l10.2 .6l9.4 2.6l5.1 3.3l3.4 3l10.2 12.3l4.2 2l6-.8l4.2-3.2l3.4 3l1.7-.5l2.6-4.1l4.2-9.8l1.7-2.3l1.7-1.1l5.1-.6l6.9 3.3l1.7 .3l1.7-.7l5.9-7.7l7.7-11.3l4.2-2.4l7.7-6.6l5.1-3.1l3.4-1.1l4.2-2.8l11.1-2.3l5.1 .5l4.2-.5l3.4 .3l16.2-1.3l4.3 1.1l8.5 3.2l5.1 3.3l5.9 5.5l2.6 3.1l5.1 12.8l6.8 20.3l11 28.6l2.6 4.5l4.2 4.4l6.8 3.6l11.9 8.1l9.4 3.9l1.7 .2l4.3-.5l9.3-3.3l8.5-4.3l3.4-.8l4.3-2.1l7.6-.3l7.7-1.9l6.8-.1l7.6 3.2l6 5l4.2 1.3l1.7 1.1l3.4 2.7l8.6 9.2l8.5 17l11.9 33.8l9.3 32l19.6 72.2l6.8 33.5l5.9 39.9l4.3 41.6l3.4 53.2l6.8 142.4l3.4 39.1l10.2 91.9l6.8 40.5l4.3 18.8l3.4 11.8l4.2 11.5l6.8 12.1l4.3 5.1l5.1 5l3.4 1.7l1.7 .1l5.9-3l3.4-3l6.8-8.8l8.5-18.6l11.1-32.6l30.6-104l14.5-53.2l16.1-47.4l6.8-16.5l9.4-19.7l12.8-23.1l5.9-8.7l6.8-11.5l5.1-6.2l10.2-10.9l20.4-11.2l6-1.4l4.2 .5l3.4-1.1l3.4 .7l4.3-.2l2.5 .8l3.4 2.8l3.4 1.5l9.4 5.9l9.4 7.9l8.5 9.4l5.9 10.1l5.1 6.9l13.6 27l8.5 14.9l6 9.6l3.4 3.7l3.4 2.8l3.4 1.4l8.5-.4l7.7 1.2l3.4-.1l7.6 2.5l5.1 3.3l6.8 5.6l3.4 4.3l3.4 6.7l4.3 17.6l5.9 33.5l23 154.1l13.6 102.5l1.7 18.6l2.5 42.8l.9 5.7l.9 .9l1.7-.5l2.5-3.5l10.2-10.3l6-.7l5.1-2.3l11.9-3.5l5.9-.5l6-2.9l5.1-1.4l4.2-3.3l3.4-1.3l9.4-7.6l5.9-3.7l6-6.4l5.1-3.7l6-6.6l5.9-3.4l6-8.3l5.1-4.7l5.9-7.6l6-6.6l5.9-8.9l3.4-3.3l4.3-6.4l10.2-13l5.9-10.8l5.1-7.1l6.8-12l6-6.9l6-8.9l5.9-5.9l6.8-9.6l3.4-3.9l3.4-2.7l5.1-6.9l6-5.1l5.9-7l2.6-2l6.8-3.2l4.2-3.1l2.6-.4l2.5 1.3l.9-.1l5.9-3.5l6 .8l2.5-1l6-.8l4.3 .7l2.5-.5l7.7 .9l1.7 .6l3.4 2.3l4.2 1.8l4.3 3.6l9.3 6.4l4.3 4.3l9.3 6.4l5.1 7.3l8.5 7.4l3.4 4.9l4.3 4.3l3.4 4.7l3.4 3.1l5.9 8.1l7.7 8.6l6 9.6l8.5 10.3l9.3 13.7l4.3 4l6.8 10.2l7.6 7.7l7.7 10.3l5.1 4.1l8.5 9.8l11.9 10.3l4.3 4.9l6.8 4.3l9.3 7.7l5.1 2l6.8 5.8l8.5 3.7l6 4.5l18.7 10.6l10.2 2.1l3.4 1.4l7.7-1.4" stroke="#027abf"/>
<path d="M176.0 1301.1l5.9 9.4l16.2 29.1l6.8 7.1l1.7 1l10.2 .2l11.9 1.8l4.3-.5l11 .6l.9-.1l2.5-7.9l2.6 8.2l4.2 1.4l4.3-.4l5.9 .6l6.8-1.1l4.3 .7l5.1-1.8l4.2-.7l3.4 .2l8.5-2.3l4.3 .8l3.4-.7l2.6-2l2.5-3.2l6-12.8l2.5-9.6l16.2-74l6.8-18.3l2.5-4.7l1.7-1l1.7 .8l1.7 2l2.6 4l2.5 5.5l6 17.8l5.9 26.4l6.8 22.7l4.3 10l1.7 2.6l2.5 2.4l3.4 2l4.3 3.4l6 2.7l2.5 .5l11.1 7.6l8.5 4l5.1 3.1l10.2 3.7l7.6 .2l1.7-.8l4.3-4.4l9.3-13.1l6.8-15l4.3-13.5l1.7-7.3l4.2-28.3l3.5-37.5l2.5-46l3.4-79.7l3.4-108.5l6-255.7l3.4-82.4l4.2-72.8l6-75.2l3.4-32.3l2.5-18.5l3.4-19.4l2.6-9.8l5.1-8.5l1.7-1.5l1.7-.6l4.2 1.1l3.4 1.8l3.4 2.8l2.6 .9l9.3 5.6l6.8 2.8l11.1 3l7.7 1.4l4.2 2.6l4.3 .8l5.9 2.3l5.1 .2l4.3 2.6l16.1 5.4l4.3 .7l7.6 3.4l8.5 2.3l3.4 1.7l5.1 .2l3.5 1.6l9.3 .7l11.1 0l8.5 2l9.3 7.6l9.4 10.9l3.4 1.4l4.2-.4l2.6-1l3.4-3.2l.8-.1l2.6 2.6l1.7 0l2.5-3l6-12.7l2.5-1.6l5.1-.8l6.9 2.9l1.7 .1l1.7-.8l5.9-7.1l8.5-12.6l5.1-3l10.2-7.9l4.3-1.9l4.2-3.3l11.1-2.5l4.2 .6l6-1.1l7.6 1.1l7.7-2l3.4 .2l11.9 3.4l5.1 3l8.5 7.1l1.7 3l4.3 11l10.2 29.4l9.3 22.2l3.4 3.9l10.2 6.6l6 2.9l4.2 3.8l9.4 2.8l5.1 .2l24.7-9.9l18.7-3.1l4.2 .1l7.7 3.2l5.1 2.7l3.4 2.5l5.1 2.3l11.1 11.2l8.5 16.8l10.2 27.3l11 36.9l17.9 64.2l3.4 13.7l4.2 20.8l6 37.3l4.2 37.1l4.3 63.3l6.8 139.4l3.4 38.4l9.4 84.7l7.6 45.5l4.3 18.8l4.2 14.5l4.3 10.3l5.9 9.8l6.8 8.1l3.4 2.9l3.4 1.6l1.7-.3l10.2-7.3l5.1-7.1l4.3-8.1l5.1-11.7l11.9-36l28.9-97.4l14.5-51.8l17-48.5l17-36.1l12.8-22.5l11.9-17.9l12.7-14.4l5.1-4l8.5-5l5.1-1.6l4.3-2.3l5.9-1.3l3.4 .5l3.4-.6l6 .1l4.2 1.3l7.7 3.9l5.1 3.4l3.4 1.5l17.9 18.1l10.2 15.8l20.4 38.3l8.5 13.5l5.1 5.4l2.5 1.5l17.1 1.4l4.2-.3l7.7 2.3l6.8 4.3l5.9 4.9l4.3 5.8l2.5 5l4.3 16.7l5.9 33.5l23.8 156.1l6.8 53.1l6.8 47.8l3.4 53.3l.9 5.7l.9 .8l1.7-.9l2.5-4.6l6-7.2l4.2-4.2l7.7-1l4.2-1.6l5.1-.7l7.7-3l4.2 0l6-3.1l5.1-1.5l3.4-2.1l4.2-1.6l3.4-2.1l6-5.3l5.1-3.4l5.9-6.7l6-3.9l6-6.2l6.8-4.8l5.1-6.6l5.1-4.5l5.9-7.9l6-5.8l5.9-9.2l3.4-3.5l8.5-12l6-6.7l5.9-10.7l6-7.9l5.9-10.1l6-6.5l6-9.5l5.9-4.7l6-9.3l6.8-5.7l5.9-8l6-5l5.9-6.4l4.3-2.9l4.2-1.9l4.3-3.7l5.9 .9l6-3.2l6.8 .9l2.5-1.4l4.3-.9l1.7 .1l4.3 1.9l5.9-1.1l1.7 .1l6 2.8l5.9 2.1l6.8 6.4l6 2.6l4.2 4.9l10.2 6.8l6 7.8l6.8 6.3l5.1 6.4l3.4 3.2l19.6 22.3l6.8 11l7.6 8.9l8.5 12.3l6 6.6l6.8 9.4l7.6 7.3l7.7 10.5l6.8 5.8l7.6 8.3l5.1 3.8l6 6.3l6 4.5l3.4 3.4l5.1 2.9l5.1 4.6l5.9 2.5l3.4 2.9l4.3 2.6l7.6 3.2l7.7 6.1l6.8 2.8l4.2 3.1l6 2.5l5.9 .9l7.7 2.3l2.5 0l3.4-1l1.8 .2" stroke="#0179bc"/>
<path d="M176.0 1298.2l21.2 36.7l2.6 3l7.6 5.9l1.7 .3l7.7-.8l4.3 .3l3.4 1.4l6.8-1l12.7 .9l.9-.2l2.5-8.9l2.6 8.9l4.2 1.5l4.3-1l9.3 .1l4.3-1.1l4.2 .3l6.8-2l4.3 .5l9.3-2.4l4.3 .5l3.4-.6l2.6-1.9l2.5-3.1l4.3-7.6l1.7-4.5l3.4-12.8l14.4-65.4l7.7-20.9l2.5-4.4l1.7-1l1.7 .9l3.4 4l3.4 6.9l5.1 14.2l7.7 32.3l5.9 18.4l4.3 10.2l4.2 5l6.8 3.7l3.5 .8l3.4 2.1l2.5 .7l4.3 2.9l9.3 4.3l17 9.6l2.6 .7l5.9-.2l5.1-1.1l4.3-4l10.2-14.7l5.1-11.4l5.9-18.6l3.4-19.1l4.3-38.1l2.6-39.6l3.4-71.8l3.4-100.3l6.8-278.8l4.2-97.1l4.3-67.5l6.8-78.9l2.5-21.1l3.4-21.4l2.6-12.4l2.5-8.1l5.1-6.4l1.7-1.2l1.7-.4l1.7 .4l7.7 4.5l3.4 .9l3.4 2.8l6.8 4l3.4 .4l4.2 2.3l9.4 3.1l4.3 .5l7.6 3.3l15.3 3.8l4.3 2l11.9 3.6l28 10l1.7 .2l2.6-.5l3.4 1.4l3.4-.4l5.1 1.6l3.4-.6l7.7 .2l11 2.4l8.5 6l4.3 5.8l5.1 4.7l1.7 .7l5.9 .7l2.6-1.1l3.4-3.7l.8-.3l3.4 2.2l1.7-.8l2.6-4.1l4.2-10l1.7-2.2l2.6-.8l3.4 .2l6 2.7l5.1-1.3l5.1-5.8l9.3-14l6-4l5.1-4.7l5.1-2.8l3.4-1.1l4.2-3.7l1.7-.5l3.4 .3l6-1.8l13.6-.7l4.2-.7l4.3-.1l5.1-1.4l2.6 .2l15.3 5.4l9.3 8l6 13.7l8.5 24.5l9.3 22.6l2.6 4.5l5.9 4.9l11.9 6.6l5.1 3.9l4.3 .8l6 2.3l6.8-1l4.2-2l8.5-2.4l4.3-3l5.1-1.9l8.5-.3l3.4-1.8l5.1-.8l6.8 .2l7.6 3.8l6.8 4.5l3.4 .8l6.8 5.7l6.9 7l9.3 18.3l11.1 30.7l8.5 27.6l18.7 65.4l8.5 38.7l5.1 31.9l5.1 47l3.4 51.4l6.8 137.5l3.4 38.1l9.4 83l7.6 45.5l4.3 18.5l4.2 14l3.4 9.2l6.8 12.1l7.7 7.7l4.2 3.3l2.6 .5l4.2-1.5l6.8-5.6l6-8l8.5-18.6l11-32.3l16.2-55.1l13.6-44l14.5-50.7l16.1-45.9l17-35.7l12.8-22.6l12.8-19.5l13.6-14.8l10.2-6.5l6.8-2.4l4.2-2.5l4.3-1.6l1.7-.1l3.4 1.1l4.2-1.1l7.7 .3l2.5 .8l16.2 9.3l11.1 9.9l6.8 8.1l6.8 10.9l4.2 5.5l6.8 12.6l6.8 14.2l8.5 15l7.7 11.1l4.2 3.8l1.7 .6l4.3-.1l11.1 1.9l6.8-.5l7.6 2.3l11.1 7.6l5.1 7.1l2.5 4.8l4.3 16.5l5.9 32.5l11.9 78.8l11.1 68.7l14.4 103.5l3.4 51.7l.9 5.5l.9 .8l1.7-1.2l2.5-4.5l10.2-11.4l6.8-1l5.1-1.9l5.1-.8l6-3.1l5.9 .3l6-3.1l5.1-1.3l3.4-2.3l4.2-1.7l3.4-2.2l6-5.8l5.9-4l6-5.1l5.1-3.5l6-6.3l5.9-3.6l6-7.9l5.9-5l5.1-6.8l8.5-9.7l3.4-5.2l9.4-10.7l8.5-10.8l5.9-10.4l5.1-6.8l6-9.8l6.8-7.7l6-8.6l5.9-5.3l6.8-9l6-4.8l6.8-9.7l5.1-3.4l5.9-6.8l8.5-4.4l4.3-3.2l3.4-.6l3.4 .8l5.9-3.4l5.1 1.1l6.8-1.4l6.9 1.4l6.8-.8l12.7 4.9l6.8 7.2l6 2.8l9.3 7.8l5.1 2.8l5.1 7.2l7.7 6.1l4.2 6l11.1 11.5l6.8 9l6.8 7l6 9.6l7.6 8.2l9.4 13.4l5.1 4.9l7.6 11.4l7.7 6.7l6.8 9.7l5.9 4.9l8.5 8.3l5.1 3.6l9.4 9.8l10.2 5.9l5.1 5.1l6 2l8.5 6.3l11.9 5.8l7.6 5.2l9.4 4.2l4.2 2.6l5.1 .6l7.7 1.9l5.1-1.3l2.6 .1" stroke="#047db7"/>
<path d="M176.0 1295.4l5.9 8.7l16.2 27l6.8 6.4l2.5 1.6l4.3-1.1l4.2-.3l8.6 .7l5.1-.5l3.4-1l5.1 1.1l5.1 0l1.7-.8l2.5-9.8l2.6 9.6l3.4 .9l7.6-1.1l5.1 .6l6-1.2l4.2 0l6.8-2.2l5.1 .1l3.4-1.5l6-.5l4.2 1.2l2.6-.7l2.6-1.7l2.5-2.9l3.4-5.8l2.6-5.8l3.4-12.1l15.3-65.7l5.9-16.1l3.4-6l1.7-1l1.7 .8l2.6 3.1l4.2 7.7l5.1 14.5l7.7 30.1l5.9 18l4.3 9.8l3.4 3.6l6.8 3.8l4.3 .5l3.4 2.1l2.5 .1l3.4 2.5l6 3.1l6.8 3.1l6.8 2.3l8.5 4.5l1.7 .4l7.6-.2l2.6-.5l2.5-2l8.5-11.2l5.1-7.9l4.3-9.6l5.9-18.3l4.3-24.5l3.4-30.9l3.4-54.3l3.4-74.9l3.4-102.7l6-242.8l3.4-79.2l3.4-59l5.1-66l5.1-48.8l2.5-17.2l3.4-17l2.6-9l3.4-6.1l3.4-3.4l1.7-.7l1.7 0l8.5 5.2l3.4 1l4.2 2.6l12.8 6.2l10.2 3.6l6 .9l5.9 2.8l4.3 .7l5.9 2.4l6 .4l4.2 3.1l10.2 2.6l5.1 2.7l5.1 .6l12.8 5.2l7.6 1.8l3.4-.2l3.5 1.6l3.4-.4l5.9 .8l9.4-1l7.6 2.3l4.3 .4l7.6 5.6l9.4 9.4l6.8 .9l3.4-1.2l2.5-3.8l1.7-1.5l3.4 2.1l1.7-1l1.7-2.6l5.1-10.8l1.7-2l2.6-1.1l3.4-.3l7.7 3l2.5-.3l6.8-8.3l8.5-12l5.1-3.8l5.1-5.1l3.4-1.3l10.2-7.1l17.9-3.8l3.4-.1l5.1 .9l5.9-1.3l3.4-1.3l3.5-.4l6.8 2.1l4.2 .2l5.1 2l3.4 2.1l6.8 6.2l6.8 15.5l8.5 23.9l7.7 17.9l3.4 5.7l5.1 4.6l5.1 2.2l5.1 3.9l6.8 3.6l5.1 1.4l6 2.7l5.1-.7l5.9-3l4.3-.2l7.6-4.3l3.4-.7l3.4-1.5l13.6-2.4l2.6-1l7.6 .8l5.1 3.3l5.1 1.7l6.8 3.5l12 10.4l5.9 9.5l6.8 14.8l7.7 20.4l11 34.4l11.9 42.4l5.1 16.3l5.1 19.5l5.1 26l5.1 32.3l4.3 39.1l3.4 51.8l6.8 133.4l3.4 36.9l9.4 82.3l6.8 40.4l6.8 29.1l6.8 18.3l7.6 11.9l6 6.4l5.1 3.3l1.7 .2l5.9-2.8l4.3-3.3l5.9-7.3l9.4-19.2l10.2-29.4l45.9-152.3l16.2-44.1l14.4-29.6l8.5-15.3l6-10.2l13.6-20.1l5.1-4.6l6.8-7.9l4.3-3.5l4.2-1.6l6.8-4.6l11.9-4.4l5.1 .4l3.4-.8l2.6 .7l3.4 0l7.6 2.8l3.4 1.9l4.3 3.3l4.3 1.9l12.7 11.2l7.7 9.4l4.2 7l4.3 5.7l7.6 13.6l9.4 18.7l11.9 19.4l4.2 4.3l1.7 1.3l2.6 .8l8.5 .8l11.1 0l9.3 2.1l11.9 8.1l6.8 10.1l4.3 16.4l5.9 31.9l11.9 77.1l11.9 72.1l7.7 55.6l5.9 38.5l3.4 50.1l.9 5.3l.9 .8l1.7-1.5l2.5-5l6.8-9.2l3.4-3.3l6-1.2l3.4-1.6l7.6-1.3l6-2.3l5.9 .3l6-3.6l5.1-1.4l4.2-2.8l3.4-1.1l3.4-1.9l6-5.5l5.9-3.2l5.1-5.9l6-2.9l7.7-7.7l4.2-2l6-7.6l5.1-4.2l5.9-7.4l6-5.3l5.9-9l3.4-3.2l8.5-11.4l6-6.3l5.9-9.9l6-7.6l5.9-10.2l6-5.7l6-8.6l5.9-5l6.8-8.9l6-4.3l5.9-8.1l6-4.2l6.8-7l2.5-1.6l4.3-.9l5.1-4.7l3.4 0l2.5 1.1l3.4-2.5l2.6-.9l6.8 1.1l2.5-1.2l4.3-.6l6 1.3l2.5-.8l3.4 .1l6.8 3.2l7.7 2.1l5.9 5.4l6.8 4.2l4.3 4.5l9.3 5.6l6 7.9l7.6 6.3l3.4 4.5l4.3 4l5.9 7l6.8 8.8l7.7 7.2l6 9.5l7.6 8.2l5.1 7.6l6 7.1l3.4 3.1l6.8 9.2l7.6 7.1l7.7 10.1l5.1 3.9l6.8 6.3l2.5 3.2l4.3 2.9l10.2 9.7l11.1 7.3l4.2 3.8l6.8 2.5l7.7 5.8l7.6 2.8l17 9.7l3.4 .8l4.3 2.3l5.9 0l7.7 2.9l2.5 0l5.2-1.4" stroke="#0881b1"/>
<path d="M176.0 1291.4l17 25.9l4.2 7.5l2.6 3l6.8 5.7l10.2-2.3l7.7 .4l8.5-1.7l5.1 1l5.9-1.2l.9-.3l2.5-10.9l2.6 10.2l3.4 1.2l11-1.1l6.8-1.3l4.3 .2l6.8-2.7l5.1-.1l9.3-2.5l5.1 1.2l3.5-.1l1.7-1l2.5-2.9l4.3-6.8l1.7-3.9l3.4-11.5l15.3-63.2l6.8-17.2l2.5-4.5l1.7-1.1l1.7 .7l2.6 2.6l4.2 7.6l5.1 12.8l7.7 29.6l5.9 17.3l3.4 7.6l1.7 2.5l1.7 1.4l8.5 4.1l6 1.9l3.4 .3l7.7 3.4l5.1 1.4l3.4 2.2l5.1 .9l10.2 5.4l6.8 .4l5.9-1.4l2.6-2.4l11-14.8l4.3-8.3l6.8-19.1l2.5-11.2l4.3-29l2.6-26.4l3.4-58.1l3.4-78.7l3.4-106l4.2-178.4l2.6-67.3l3.4-67l5.9-79.8l6-57.6l5.1-29.9l3.4-12.2l2.5-4.9l4.3-4.1l1.7-.5l2.5 .5l4.3 1.8l3.4 2.5l3.4 1l3.4 2.8l3.4 1.3l2.5 1.8l4.3 1.2l5.1 2.7l8.5 3l6.8 1l5.1 3.3l15.3 3.4l9.4 4.4l11 3.5l4.3 .5l5.1 2.7l12.7 3.1l3.4 1.4l3.4-.3l3.5 1.4l3.4-1l5.9 1.5l10.2-1.4l6 1.3l3.4 .1l8.5 5.3l10.2 9.3l5.1 .7l5.1-1.6l4.2-6.1l3.4 1.5l1.7-.7l1.7-2.3l5.1-10.6l1.7-1.9l1.7-1l1.7-.3l2.6 .3l4.3 1.8l3.4 .6l2.5-.5l6-6.2l9.3-14.1l11.1-9.5l5.1-3.4l4.2-2.1l3.4-2.7l5.1-.7l6-1.7l5.1 0l5.1-1.5l10.2-.5l8.5-2.4l3.4 .8l3.4 1.4l4.3 .1l2.5 .8l8.5 5l3.4 3.3l7.7 17.1l5.9 16.7l9.4 22.4l2.5 4.2l4.3 3.9l6.8 3.1l4.2 3l3.4 1l5.1 3.4l9.4 2.9l6.8-.7l5.1-2.4l5.1-.7l6.8-3.7l6.8-2.3l9.4-1l6.8-2l7.6 .7l6.8 3.1l6.8 4.3l5.1 1.7l10.3 9.1l2.5 3.3l5.1 8.7l8.5 20.2l5.1 13.4l10.2 31.7l19.6 65.2l5.9 25.7l5.1 28.8l4.3 32.4l3.4 39.9l4.2 74.8l2.6 56.3l2.5 37l10.3 92.1l2.5 18.8l3.4 19.7l6.8 32.5l2.6 9.6l4.2 12.3l2.6 5.7l6.8 11.1l8.5 8.5l3.4 1.9l2.5 0l5.1-2.4l6.8-6l3.4-4.7l9.4-18.6l11-31.4l16.2-52.8l14.5-44.7l14.4-48.5l16.2-41.8l13.6-27.6l15.3-25.8l13.6-19.7l5.1-4.4l7.7-8.6l2.5-2l12.8-7l11-3.9l4.3 .7l4.2-.9l2.6 .7l7.6 .6l5.1 2.4l6.9 5.2l4.2 1.7l8.5 7.4l9.4 9.7l5.9 9.5l5.1 6.9l13.6 26l7.7 13.2l6.8 10.1l2.5 2.7l3.4 2.5l2.6 1l3.4-.2l3.4 1l9.4 .6l4.2-.5l9.4 1.9l11.9 8.6l5.9 9.2l3.4 11.7l6 29.6l13.6 85.4l10.2 58.9l7.6 53.5l6.8 42.4l3.4 49.3l.9 5.4l.9 .8l.8-.2l.9-1.2l2.5-5.3l6-8.5l4.2-4.4l6-.6l5.9-3l11.1-2.8l5.9 .2l6-3.8l5.9-.9l6.8-3.5l4.3-2.9l5.1-4.7l5.9-3.2l5.1-4.8l6-3.7l6-6.6l5.9-2.9l5.1-6.3l6-4.8l11.9-12.9l5.9-8.9l3.4-3.3l11.9-14.1l2.6-2l5.9-9.9l6-7.7l5.9-9.2l6-5.9l6-8.2l5.9-4.4l6-7.8l7.6-6.2l5.1-6.9l6-3.5l5.9-6.7l4.3-2.5l4.2-1.4l4.3-3.8l2.5 .1l3.4 1.3l3.4-2.6l1.7-.6l1.7-.1l6 1.2l6.8-1.9l6 1.7l6.8-.9l13.6 5.2l5.9 5.8l6 3.3l3.4 3.5l4.2 3.1l6.8 3.7l6 8.2l6.8 4.5l4.2 6.1l11.9 12.1l5.1 6.4l6.9 6.2l6.8 10.5l7.6 8l9.4 12.9l5.1 4.1l7.6 10.2l6.8 6l7.7 9.6l5.1 3.7l4.2 4.7l11.9 9.6l7.7 7.4l7.7 4.2l7.6 5.4l6.8 3.3l6 4.3l3.4 1.2l3.4 2.3l4.2 1.3l10.2 6.3l14.5 5.4l4.2 .1l7.7 2.1l7.7-1.3" stroke="#168da8"/>
<path d="M176.0 1288.9l4.2 5.8l17.9 27.8l1.7 1.9l6.8 5.2l11-2.6l6.9 .2l8.5-1.5l4.2 .9l7.7-1.5l2.5-11.5l2.6 10.6l4.2 .6l7.7-1.3l3.4-.1l6.8-1.6l3.4 .2l5.1-2.2l6.8-.2l7.6-2.2l6.8 .7l4.3-.8l1.7-1l2.6-3l5.1-9.8l3.4-11.1l15.3-62.1l6.8-17.7l2.5-4.2l1.7-1.1l1.7 .7l1.7 1.7l4.3 6.5l5.9 14.4l6.8 25.6l6.8 19.3l4.3 8.4l3.4 2.8l7.6 3.3l3.5 0l3.4 1.5l3.4 .2l6.8 3.1l11 3.1l12.8 6l8.5 .6l4.2-1.4l5.1-5.5l9.4-13.3l5.1-10.6l5.9-17.4l4.3-23.2l3.4-28.7l3.4-50.3l3.4-70l3.4-95.4l6-228.2l3.4-75.6l3.4-56.1l5.1-62.7l5.1-46.6l2.5-16.9l3.4-16.7l2.6-8.9l2.5-4.3l4.3-3.9l2.5-.6l1.7 .2l7.7 4.1l3.4 .9l3.4 2.4l3.4 1.2l3.4 2.6l3.4 1.2l4.2 2.5l8.6 2.7l3.4 .3l5.1 2.1l4.2 2.5l3.4 .3l11.9 3.2l4.3 2.4l5.9 1.2l9.4 3.9l4.2 0l12.8 5.4l8.5 2.2l4.2-.4l3.5 1.1l2.5-.7l3.4 .8l6 .2l8.5-1.3l10.2 2.1l8.5 5.6l6.8 6.9l2.5 1.4l3.4 .5l6-1.8l4.2-6.8l3.4 1.4l1.7-.6l1.7-2.3l5.1-10.8l1.7-1.8l2.6-.8l2.5-.1l1.7 .3l5.2 2.4l3.4 .2l1.7-.8l13.6-19.1l16.1-12.8l4.3-2l4.2-3.4l6-1.2l5.1-2.4l3.4 .5l4.2-1.6l12.8-.2l4.2-1.9l4.3-.8l6.8 1.6l3.4 .2l6.8 2.3l6 4.2l2.5 2.6l2.6 4.8l10.2 25.8l10.2 22.9l2.5 5l1.7 1.7l4.3 1.6l6.8 4.5l5.9 2.5l5.1 3.2l9.4 2.9l5.1-.3l6.8-2.9l5.1-1.1l6-3.2l7.6-3.2l6.8 0l4.3-1.5l5.9-.9l6 .4l7.6 3.1l9.4 4.6l4.2 2.9l10.3 9.2l6.8 12l11 26.3l12.8 37.6l18.7 61.4l6.8 29.6l5.1 29.1l4.2 34.2l2.6 31.5l4.2 73l2.6 54.9l2.5 35.8l10.3 90.2l2.5 18.6l3.4 19.2l3.4 17.3l4.3 17.8l6.8 19.8l1.7 3.6l7.6 11.6l9.4 8.3l1.7 1l1.7-.2l5.9-2.3l4.3-3.1l5.1-6.1l9.3-17.8l11.9-32.4l16.2-51.9l14.5-43.5l5.9-20.8l9.4-29.2l14.4-36.5l11.9-24.3l17.9-30.1l14.5-19.9l5.1-4.3l5.9-6.6l5.1-3.9l3.4-1.2l4.3-2.7l14.4-4.9l5.1 .3l3.4-.6l3.4 .9l2.6-.5l5.9 1.1l6 4.3l8.5 4.5l9.4 7.8l8.5 9.1l10.2 14.6l6.8 11.3l9.3 18.7l13.6 20.6l5.1 3.8l1.7 .7l4.3-.7l4.2 .9l5.1-.2l5.2 .9l3.4-.1l7.6 1.8l12.8 8.7l5.9 8.9l4.3 15l5.9 30.2l23.8 142.3l13.6 88.9l3.4 48.4l.9 5.5l.9 1l.8-.1l.9-1.1l2.5-5.3l8.5-11.7l1.7-1.6l6-.8l5.9-2.2l5.1-.8l6-2.9l5.9 .6l7.7-3.1l3.4-.8l11-5.9l6-5.2l5.1-2.5l6.8-6.6l5.1-3.2l6.8-6.1l5.1-2.8l6-6.8l5.9-4.5l6-7.5l5.1-4.6l5.9-8.5l2.6-1.9l4.2-5.6l11.1-11.9l5.9-10.4l6-6.7l5.9-8.8l6-5.7l6-8.1l6.8-5.6l5.1-6.6l6.8-4.5l5.9-7.3l6-4.5l6.8-6.9l11.9-6.7l3.4-.3l2.5 1.3l6-3.4l6.8 1.1l6.8-1.4l6 1.2l2.5-.9l4.3 .2l13.6 5.8l5.9 5.6l6.8 3.6l3.4 3.6l9.4 5.1l6.8 8.6l7.6 5.8l4.3 6l11 10.9l6 7l6.8 6.3l6.8 10.7l6.8 6.4l8.5 11.5l6 5l6.8 9.8l7.6 6l6.8 8.8l6.8 5.3l8.5 8.9l6.8 3.5l8.6 8.5l6.8 3.6l7.6 6.1l5.1 1.7l7.7 5.6l11 4.3l8.5 5l5.1 1.8l8.5 4.3l6.8 .6l8.5 2.2l4.3-1.7l2.6-.1" stroke="#279a9f"/>
<path d="M176.0 1284.1l8.5 12.7l3.4 4.1l9.3 14.9l7.7 6.9l1.7 .7l14.5-3.4l3.4 .2l5.1-.7l4.2-1.3l4.3 .4l5.9-1.2l.9-.5l2.5-12.5l2.6 11.5l4.2 .9l16.2-3.7l5.1 0l4.2-2l7.7-.3l4.2-2.5l5.1-.7l3.4 .7l3.5 .1l2.5-.7l2.6-1.9l1.7-2.2l4.2-7.2l1.7-4.2l2.6-8.3l15.3-60l6.8-16.9l2.5-4.3l1.7-1.1l1.7 .5l2.6 2.4l2.5 3.1l1.7 3.2l6 14.8l6.8 23.5l5.9 15.8l2.6 5.3l4.2 4.5l7.7 2.1l3.4 .1l3.4 1.1l4.3-.2l8.5 3.5l11 2l3.4 1.4l8.5 5l10.2-.9l1.7-.8l3.4-3.9l11.1-14.2l2.5-4.8l7.7-20.2l2.5-10l3.4-20.8l3.5-31.1l4.2-67.9l2.6-56.3l3.4-98l4.2-165l2.6-63.1l3.4-63.7l5.1-67.1l5.9-57.8l3.4-22.2l3.4-16.6l2.6-8.3l3.4-6l3.4-3.1l2.5-.5l9.4 4.9l3.4 .5l9.3 5.9l4.3 1.2l4.2 2.7l9.4 2.8l4.3 .6l6.8 3.8l4.2 .4l6.8 2.7l5.1 .8l4.3 2.5l5.9 1.3l4.3 2l3.4 .7l3.4 1.5l3.4 .4l14.4 5.1l6 1.3l4.2-.1l2.6 1l3.4-1l6 1l11.9-1.2l5.9 1.2l3.4 0l8.5 4.8l9.4 7.2l6.8 1l1.7-.5l1.7-1.2l3.4-6.7l.8-.8l2.6 1.2l.8 0l1.7-1.3l6-10.9l2.5-2.9l2.6-.7l2.5 .2l4.3 1.9l5.1 1.3l2.6-1l14.4-20.2l6.8-4.6l3.4-3.6l4.3-3.2l5.1-2.1l4.2-3.6l1.7-.7l3.4 0l4.3-1.7l4.2-.3l6.8-2.3l6 .3l13.6-4.4l7.7 2.3l4.2-.1l2.6 .6l5.1 2.5l5.9 5l6.8 13.5l7.7 19.4l8.5 17.9l2.5 4.5l2.6 2.2l8.5 3.7l4.2 2.6l4.3 1.1l5.1 3.1l4.2 .3l5.2 1.4l7.6-.7l20.4-8.4l4.3-.6l3.4-1.2l7.6 0l3.4-1.3l5.1 0l4.3 2.3l4.2 .7l14.5 8l9.4 8.5l7.6 12.9l9.4 21.3l12.7 36l20.4 64.4l4.3 17.4l4.2 21.6l5.1 31.9l3.4 33.6l3.4 52.7l4.3 82.2l2.5 34.1l12 99.3l6.8 36.2l4.2 17.9l3.4 11.2l3.4 8.8l3.4 6.8l6 9.1l5.9 5.5l6 3.8l1.7 .4l5.1-1.8l5.1-3.5l5.9-7.2l9.4-17.5l6.8-17.9l11.1-32.3l7.6-24.6l17.9-52.6l11.9-38.4l11.9-28.4l5.1-13.6l14.4-26.5l6-8.5l8.5-14.3l10.2-13.6l4.3-5.2l11-10.3l16.2-8.5l10.2-2.9l5.1-.3l4.2-1.1l4.3 1.5l3.4-.1l3.4 .7l5.9 3.9l9.4 4.5l10.2 8.3l7.7 7.9l10.2 13.7l8.5 14.8l6.8 13.3l12.7 18.7l2.6 2.7l5.1 3.5l5.1-.4l10.2 1l6-.2l8.5 1.9l7.6 3.9l5.1 3.4l4.3 4.9l2.5 4.2l4.3 14.9l5.9 28.9l23.8 138.1l6.8 45.3l6.8 40.2l3.4 48.1l.9 5.6l.9 1.4l.8 0l.9-1l2.5-5.4l10.2-12.1l6.8-1.5l4.3-2.3l5.9-.6l6-2.7l2.5-.2l3.4 .7l8.5-4.2l3.4-.6l4.3-2.5l5.9-2.6l6-5.7l5.9-2.3l5.1-5l6-3.8l6-6.1l5.9-3l5.1-6.5l4.3-2.4l8.5-9l5.1-4.3l5.9-9.2l3.4-2.7l4.3-5.3l10.2-10.6l5.9-9.5l6-6.6l5.9-9l6-5.3l6-7.8l2.5-2.2l3.4-1.8l6-7.3l8.5-7.1l4.2-4.9l6-3.9l5.9-6.1l4.3-2l4.2-1.1l4.3-3.6l3.4-.3l2.5 1.1l6-3.3l6.8 1.7l5.9-2.1l6.9 1.7l6.8-.4l2.5 .8l3.4 2.2l6.8 2l5.1 4.6l8.5 4.9l6 5.4l7.6 3.9l6 7.9l7.6 4.9l4.3 6l5.9 6.1l3.4 2.7l6.8 8.3l7.7 6.9l5.1 7.8l8.5 8.2l9.4 12.8l5.1 4l6.8 8.7l7.6 5.8l7.7 10.2l1.7 1.5l3.4 1.2l9.3 9.1l6.8 4.2l7.7 7.7l10.2 5.4l6.8 4.8l5.1 2.3l6 4.1l3.4 .7l3.4 2l4.2 1.1l7.7 4.9l5.9 1.9l3.4 2.2l4.3 1.8l9.3 1l6 1.6l1.7-.2l3.4-1.6l2.6-.1" stroke="#4ab09b"/>
<path d="M176.0 1281.6l17 23.4l5.1 8.2l6.8 5.7l1.7 .6l3.4-.5l8.5-3l6-.2l8.5-2.5l4.2 .6l6.8-2.1l.9-.6l2.5-13.1l2.6 12.2l4.2 .8l6.8-1.9l4.3-.1l5.9-2.2l4.3 .1l5.9-2.7l6-.5l9.3-2.7l6.9 .6l2.5-.7l1.7-1.3l3.4-4.2l4.3-7.7l3.4-10.6l15.3-58l6.8-16.2l2.5-4l1.7-1.1l1.7 .4l1.7 1.5l3.4 4l1.7 3l6 13.1l5.9 20.3l6.8 17l4.3 7.2l3.4 2.5l4.2 .2l3.4 .9l3.5-.1l2.5 .9l3.4-.1l2.6 .9l3.4 0l5.1 2.2l4.2 1.2l6 .2l11.9 5.7l8.5-.1l2.5-1.3l3.4-3.7l10.2-13l6-11l5.9-17.7l4.3-20.4l3.4-26.6l3.4-45.9l3.4-63.5l3.4-87.5l6-210.5l3.4-70.8l3.4-53l5.1-59l5.1-44.3l5.9-32l2.6-8.6l2.5-4.3l5.1-4.8l2.6-.5l8.5 4.8l4.2 1.5l12.8 6.5l5.1 3.1l10.2 3l5.1 .6l4.3 2.7l4.2 .8l6 2.7l5.9 .4l5.1 2.9l14.5 4.9l3.4 .6l11 3.7l7.7 1.5l4.2 1.4l3.4 .1l2.6 .8l4.3-.9l5.1 .5l10.2-1.5l11 1.3l8.5 4.4l6.8 5.7l3.4 1.7l3.4 .4l3.4-.7l2.6-1.6l4.2-7.9l3.4 .9l2.6-1.5l5.9-11l1.7-1.7l2.6-.5l2.5 .3l6.9 3.2l3.4-.2l1.7-.9l5.1-5.8l9.3-13.9l6.8-5.2l4.3-4.2l5.1-2.8l3.4-1.2l4.2-4l10.2-3.1l3.4 0l5.1-2.4l5.1 .4l5.1-.6l11.1-4l6.8 2.1l6-.1l2.5 .5l2.6 1l7.6 4.9l2.6 4.3l12.7 30.3l7.7 15.6l2.5 3.9l2.6 1.6l5.9 3.3l14.5 6.5l10.2 2.5l5.1-.9l6.8-2.3l4.3-.5l7.6-4.6l3.4-.5l2.6-1.2l8.5-.8l9.3-2.4l6 .7l7.6 2.6l6.8 4l3.4 .8l8.5 6.3l6 5.6l8.5 15.4l10.2 23.7l11.1 31.5l17 51.5l7.6 29l5.1 25.2l4.3 29l2.5 26l5.1 80.8l2.6 50.6l2.5 33.1l10.3 85l2.5 17l4.3 21.9l6.8 29l6.8 18.4l1.7 3.2l7.6 10.5l10.2 7.9l1.7 .7l1.7-.4l5.1-2.2l5.1-3.6l6-7.4l8.5-16.2l6.8-17l10.2-29l11.1-34.2l12.7-35.6l14.5-45.4l16.1-38.3l15.3-28.4l14.5-22.2l11.1-14l3.4-3.9l5.9-4.7l6.8-6.9l2.6-1.4l5.1-1.5l6.8-4l11-2.8l5.1 .9l3.4-1.1l3.4 1.1l4.3-.6l3.4 .8l15.3 8.3l11.9 9.5l6 6.4l10.2 13.9l13.6 23.7l8.5 13l8.5 10.9l5.9 2.8l3.4-.4l6 1l10.2-.4l9.4 1.7l12.7 7.5l6.8 9.3l4.3 13.8l5.9 28.2l11.1 64.6l11.9 65.1l7.6 49.9l6.8 39.5l3.4 47.4l.9 5.6l.9 1.4l.8 .1l.9-1l2.5-5.1l2.6-3.5l7.6-8.6l6-.5l5.1-2.6l5.9-.7l6-3.6l2.5-.1l3.4 .8l3.4-.8l4.3-2.3l3.4-.4l11.9-6.6l5.1-4.5l2.5-.7l3.4-2.2l6-5.3l5.1-3.4l6-5.7l5.9-2.9l5.1-6.1l6-4.4l5.9-7l6.8-5.8l5.1-7l3.4-2.8l11.9-14.1l3.4-3.2l5.1-7.9l6-6.8l5.9-8.4l6-5.2l6-7.8l5.9-3.3l6-8.2l8.5-5.7l4.2-5.9l1.7-1.3l4.3-1.5l5.9-6.3l8.5-2.6l4.3-4.3l3.4-.3l3.4 1l5.9-2.9l6 1.6l2.5-1l5.1-.9l1.8 .2l3.4 1.7l6.8-.8l5.9 3l6.8 2.2l6.8 5.8l6 3.1l4.2 4l6 4.1l4.2 2.1l6 7.2l7.6 5.5l4.3 5.6l9.3 8.4l6.8 8.6l7.7 6.3l6.8 9.8l6.8 6.5l10.2 12.4l4.3 3.5l7.6 9.4l8.5 6.7l6 8.3l5.9 3.3l8.5 7.8l6.8 4.5l7.7 7l9.4 4.6l5.9 4.8l6.8 2.7l7.7 4.9l4.2 1.7l3.4 .7l7.7 4.8l7.6 2.1l5.1 2.3l4.3 2.7l5.9 .3l8.5 1.8l6.9-2.2" stroke="#63bf9a"/>
<path d="M176.0 1276.4l22.1 31l5.9 4.9l2.6 1l5.9-1.6l6-2.9l6-.6l8.5-2.5l4.2 .5l6.8-1.6l.9-.5l2.5-14.1l2.6 12.6l4.2 .2l2.6-.3l11.9-3.9l6.8-.3l7.6-3.5l4.3 .3l3.4-1.9l5.9-1.5l6.9 .7l2.5-.6l2.6-2.2l5.1-6.9l2.5-5.3l9.4-32.8l7.6-29.5l7.7-17.6l2.5-4.1l1.7-1.1l1.7 .4l3.4 2.5l3.4 4.8l6 12.3l6.8 21.2l5.9 13.4l3.4 5.5l4.3 3.2l4.2-.2l3.4 .6l3.5-.9l10.2 .6l4.2 1.4l10.2 1.5l4.3 1.2l9.3 4.8l5.1 .2l5.1-.7l1.7-.8l2.6-2.6l5.9-8.3l5.1-6l6.8-13.5l6-17l3.4-16.5l3.4-25.2l3.4-43.2l3.4-60l3.4-82.7l6-199.2l3.4-68.8l3.4-52.1l5.1-57.1l5.9-48.3l2.6-14l3.4-14.4l2.5-7.2l2.6-3.8l4.2-3.4l3.4-.1l7.7 3.8l3.4 .4l4.2 3.2l6 3.5l3.4 1.2l4.2 2.9l7.7 1.5l3.4 1.5l4.3 .5l5.9 3.1l4.3 .8l5.1 2.4l5.1 .6l5.1 2.4l16.1 5.1l6.8 1.5l9.4 3.4l9.3 2l3.4-.4l3.5 1.1l3.4-1.2l5.1 .9l5.9-.4l5.1-1.5l5.1 1.3l5.1-.1l6.8 2.5l8.5 6.5l6.8 2.1l3.4-.9l2.6-1.6l4.2-8.5l3.4 .6l1.7-1.1l1.7-2.2l4.3-8.5l2.5-2.8l2.6-.2l10.2 4.2l1.7 .2l1.7-.7l5.1-5.7l9.4-13.8l17-13.1l4.2-2.3l3.4-3l1.7-.6l3.4 0l6-2.7l3.4-.3l5.9-1.5l6.8-.1l12.8-5l6 1.3l5.1-.7l2.5 .3l6 3.4l4.2 1.7l1.7 1.4l1.7 2.4l6 12.3l6.8 16.2l8.5 16.6l2.5 3.6l2.6 1.8l8.5 3.1l3.4 2l4.2 1.2l6 2.7l3.4 .3l6 1.6l6.8-1.4l4.2-2.6l6-.9l5.9-3.5l3.4-1l2.6-1.3l7.6-.5l10.2-2.4l6 .4l7.6 3.1l6.8 3.8l3.4 .8l3.4 1.7l9.4 8l9.4 14.4l9.3 20.1l7.7 21.7l5.1 12.3l5.1 16.4l14.4 42l6 22.9l5.1 25.2l4.2 30.2l2.6 29.2l6.8 114.6l2.5 32l10.3 81.3l5.9 33.9l7.7 31.1l5.1 14.3l3.4 6.7l6.8 9.1l5.9 5.4l6 3.4l1.7 .3l5.9-2.6l3.4-2.3l3.4-3.1l3.4-4.2l9.4-16.3l11-27.6l13.7-40.3l18.7-51.7l12.7-37.7l17-38.6l11.9-20.5l10.2-15.8l6-8.6l12.8-14.7l12.7-11.5l15.3-7.6l6.8-1.7l6-1.3l3.4 .8l4.2-.7l3.4 .7l3.4-.4l5.1 1.4l10.3 5.9l4.2 1.3l11.9 9.5l6.8 7.1l9.4 11.6l7.6 12.3l6.8 13.3l14.5 19.1l6.8 4l21.3-.5l5.1 1.7l4.2 .6l12.8 7.5l5.9 7.9l4.3 13.6l5.9 27.4l23 125.4l14.4 86.6l3.4 46l.9 5.7l.9 1.7l.8 .2l.9-1l2.5-4.7l10.2-11.4l6-1l5.1-2.3l5.9-1.1l6-2.5l5.9 .3l7.7-3.7l3.4-.4l3.4-2.1l7.6-3l6-5.6l5.9-2.8l5.1-5.1l3.5-1.3l2.5-1.7l3.4-3.9l2.6-1.8l5.9-2.7l5.1-6.2l6.8-4.5l5.1-5.9l6.8-6.3l5.1-6.8l2.6-2.2l4.2-5.4l11.1-10.3l5.9-9.5l6-6.3l5.9-8.5l6-4.2l6-7.4l5.9-4l6-7.4l7.6-4.9l5.1-5.5l6-3.6l6.8-6.3l2.5-1l4.3-.5l5.1-4.9l3.4 .2l2.5 1.4l4.3-2.6l2.5-.6l5.1 1.7l3.4-1.2l5.1-.4l5.2 1.4l1.7-.4l7.6 .5l4.3 2.5l6.8 1.9l5.9 5.9l6.8 3.4l6.8 6.1l6.8 3.2l6 7.6l6.8 3.8l11 12.6l3.4 2.6l6.8 7.3l7.7 6.8l6 8.3l7.6 6.8l10.2 13.3l4.3 2.5l6.8 8.6l7.6 5.4l7.7 9.3l5.9 3.2l7.7 7.3l5.1 2.7l11.1 9.6l8.5 3.9l5.9 5.3l6.8 1.7l6.8 4.8l6 2.5l2.5 .3l7.7 4.2l7.6 2.5l8.5 3.9l14.5 2.4l2.5-.2l3.4-1.6l1.8 .1" stroke="#7ccf92"/>
<path d="M176.0 1273.4l5.1 6.2l16.1 22.6l7.7 5.7l2.5 1.1l5.1-2.9l8.6-3.2l3.4-.3l8.5-2.6l4.2 .5l7.7-2.9l2.5-15.3l2.6 13.4l1.7 .3l6.8-1.4l3.4-1.5l4.2-.2l5.1-2.2l4.3-.1l8.5-3.7l4.2 .1l8.5-2.7l7.7 .5l1.7-.6l5.1-4.4l4.3-7.5l2.5-7.3l16.2-56.5l6.8-15.8l2.5-3.9l1.7-1.3l1.7 .1l3.4 2.4l3.4 4l5.1 9.7l6.8 19.7l6.8 14.5l2.6 4.3l3.4 3.3l11.9-.5l3.4 .5l3.4-.8l11.9 1.5l6.8-.2l7.7 2.4l5.9 3.5l6 .3l5.1-.8l4.2-3.7l6-8.4l5.1-5.5l5.9-12l6-16.6l3.4-16.2l3.4-24.1l3.4-40.9l3.4-57.5l3.4-78.4l6-190.4l3.4-66.6l4.2-60.8l5.1-52.9l5.1-39.3l3.4-18.2l2.6-9.9l2.5-7.1l3.4-5.1l2.6-2.3l3.4-.1l8.5 4l3.4 .7l3.4 2.7l3.4 1.2l3.4 2.5l4.2 1l6.9 3.6l5.9 2.1l4.3 .1l8.5 4.4l4.2 .8l6 2.1l4.2 .3l4.3 2.5l5.1 .9l5.1 2.5l10.2 1.9l13.6 4.4l7.6 1.3l3.4-.2l3.5 1.3l3.4-1.1l5.9 .9l2.6-.7l4.2-.1l3.4-1.3l6.8 .9l3.4-.4l6.8 3.1l8.5 5.7l4.3 1.2l2.5 .1l3.4-.7l2.6-1.7l4.2-9.5l.9-.4l2.5 .7l1.7-.8l1.7-2l5.1-9.1l1.7-1.4l2.6-.3l8.5 3.7l3.4 .1l2.6-.9l4.2-4.5l5.1-8.3l5.1-6.2l10.2-8.3l9.4-5.4l5.1-4.2l5.9-1.3l4.3-2.1l3.4-.1l5.9-1.7l7.7-.6l4.2-1.5l4.3-2.4l4.3-1l12.7 .7l7.7 2.6l4.2 2.9l1.7 2.3l5.1 10l7.7 17l5.1 8.4l3.4 6.9l2.5 3.7l3.4 2.4l11.1 4.3l5.1 1.2l4.2 2l5.1 .2l4.3 1.8l8.5-2.4l3.4-1.6l3.4-.4l8.5-4.3l3.4-.7l3.4-1.9l8.5-.4l8.5-2.5l6.8 1.4l11.1 4.6l2.5 1.9l4.3 1l11.1 7.4l9.3 13.9l5.1 10.3l7.7 17.2l9.3 24.2l17.9 50.5l5.9 19.8l6 25.5l5.1 30.3l2.5 24.7l5.1 75.7l2.6 46.5l2.5 30.5l2.6 22l9.4 66.9l7.6 36.5l4.3 14.8l4.2 11.9l3.4 7.1l6.8 9.7l8.5 7.1l4.3 1.9l1.7 .2l5.1-1.9l5.9-3.6l4.3-4.4l9.3-15.8l11.1-26.5l11.1-30.3l5.9-18.1l6-13.9l22.1-63.3l16.1-36.4l17.9-29.1l11.9-16.8l9.4-10l4.2-5.6l1.7-1.5l4.3-2l6.8-6.5l7.6-2.8l6.8-3.3l5.1-.9l6.8-2.6l5.1 1.3l3.4-.2l2.6 .8l5.1-.7l4.2 .8l14.5 7.3l11.1 8.1l4.2 4.7l3.4 2.7l10.2 13l14.5 24l7.6 10.4l6 7.1l7.6 4.5l4.3-1.1l4.2 .4l11.1-.2l9.4 1.2l6.8 3.2l5.1 3.3l5.1 5.2l2.5 3.7l4.3 12.9l6.8 30.9l22.1 117.9l14.4 83.8l3.4 45.9l.9 5.9l.9 1.7l.8 .1l3.4-5.9l6-6.9l5.1-4.3l5.1-.6l5.1-2.3l4.2-.4l7.7-3.9l5.9 .7l5.1-2.1l6-1.4l8.5-4.7l3.4-1.1l5.1-4.3l4.2-1.3l6.8-7.2l6-3.2l7.7-6.1l4.2-1.5l5.1-6l6-3.5l6.8-8.1l5.1-3.9l5.9-8.6l3.4-2l8.5-9.8l6-4.4l5.9-9.7l6-5.7l5.9-8.9l6-3.4l6-7.8l5.9-3.1l6-7.1l4.2-3.3l4.3-2.1l4.2-5l6-3.3l5.9-6.1l8.5-2.5l4.3-3.9l3.4 0l2.5 1.7l6.8-3.3l5.1 1.8l3.4-1.2l4.3-.5l5.1 1.6l7.7-.2l3.4 1.3l3.4 2.3l6.8 1l5.9 6l6.8 3.2l6.8 6.2l6 2.5l6.8 8.1l7.6 5.1l3.4 4.1l10.2 9.1l6.8 7.8l7.7 5.8l6 9l7.6 6.6l7.7 9.2l6.8 5.3l6.8 9l7.6 4.7l7.7 9.7l5.1 2.4l9.3 8l5.1 2.4l9.4 8.6l7.7 2.7l7.6 6l6.8 2.1l6 4.2l3.4 .8l3.4 1.8l3.4 .7l6.8 4.6l7.6 1.7l9.4 4.1l7.6 .4l5.1 2.1l2.6-.5l3.4-1.6l2.6-.2" stroke="#8edb8a"/>
<path d="M176.0 1268.3l22.1 28.5l8.5 5.3l1.7-.2l5.1-3.4l6.8-3.1l3.4-.2l3.4-1.7l6-1.5l4.2 0l6.8-2.6l.9-.6l2.5-16.2l2.6 14.2l2.5 .2l3.4-.5l15.3-5.7l4.3-.2l8.5-4l4.2 .4l2.6-1.3l5.9-1.7l6 0l3.4-1l2.6-1.8l2.5-2.9l3.4-5.1l1.7-3.6l2.6-7l15.3-51l6.8-15.5l2.5-4l1.7-1.4l1.7 .1l3.4 2l2.6 2.7l6.8 11.8l6.8 18l6.8 12l2.5 2.9l2.6 1.5l9.3 .3l3.5-1.5l3.4-.2l2.5-1.1l11.1 .9l7.6-.2l4.3 .8l9.3 4.7l9.4-.2l2.5-1.6l3.4-3.2l11.1-13l5.9-11l6-16.2l3.4-15.5l3.4-21.9l3.4-38l3.4-53.8l3.4-73l6-178.7l3.4-63.5l4.2-57.6l5.1-51.6l5.1-38.5l5.1-24.2l2.6-7.7l3.4-5.5l5.1-4.1l1.7 0l5.1 1.5l4.2 2.6l5.1 1.9l6.8 4.8l3.4 .8l5.1 2.8l4.3 1.1l5.1 2.1l6.8 .7l5.1 3.6l3.4 0l6 3.2l5.9 .1l4.3 2.9l6.8 1.9l8.5 3.3l8.5 .5l4.2 2.1l6 1.9l3.4 .1l3.4 .9l4.2-.6l3.5 1.7l3.4-1.3l9.3-.1l6.8-1.8l6.8 .6l3.4-.2l6 3l4.2 1.4l6.8 4l2.6 .5l5.9-1l2.6-1.9l4.2-10.3l.9-.3l2.5 .6l1.7-1l1.7-2.2l4.3-8l1.7-1.9l1.7-.1l4.2 1.4l4.3 3.1l1.7 .5l3.4-.1l2.6-1.3l5.9-7.1l8.5-12.8l6.8-4l4.3-4.3l5.1-3.1l4.2-1.7l4.3-4.4l5.1-.9l4.2-2.3l4.3 .1l5.9-2.3l3.4 .1l4.3-.7l4.2-1.7l4.3-2.6l5.1-1.6l5.1 1.2l4.3-1.4l2.5 .1l8.5 2.8l3.4 2.2l7.7 13.3l7.6 16.3l8.5 13.6l5.1 3.9l4.3 1.7l3.4 .6l4.2 2l3.4 .6l5.1 2.3l4.3 0l6 1.1l6.8-1.7l4.2-2.7l4.3-.1l5.1-2.3l3.4-2.3l5.1-1.2l15.3-2.1l3.4-1.3l5.1 .4l14.4 6.8l4.3 .4l11.1 8l2.5 2.7l7.7 11.5l4.2 9.7l6 11.5l11 26.6l11.9 33.2l5.1 12.4l6 18.3l6.8 27.1l5.1 28.2l2.5 23.8l7.7 116.4l2.5 28.6l3.4 26.9l8.6 57.5l7.6 34.4l5.1 16.8l3.4 9l2.6 5.4l2.5 3.9l6 6.9l7.6 6.2l5.1 2.1l9.4-3.4l6.8-6.6l9.3-14.6l11.1-25.3l17-46l14.5-36.4l5.1-15.1l9.3-24.6l15.3-32.5l14.5-23.7l6.8-8.1l8.5-11.4l3.4-3.1l7.7-8.7l3.4-3.3l4.2-2.1l4.3-4.3l3.4-2.3l11.9-5l5.1-.6l8.5-2.7l5.1 .4l3.4-.3l3.4 .7l3.4-.4l9.3 2.8l10.3 4.5l12.7 8.4l6 5.8l5.9 8l4.3 4.6l14.4 22.8l15.3 18.4l6 2.7l5.1-.7l16.2-.6l4.2 .7l3.4-.2l7.7 3.6l6.8 4.7l5.9 7.9l4.3 12.1l5.9 25.2l22.1 112.2l15.3 85.6l3.4 44.9l.9 6l.9 2l.8 .4l.9-.9l2.5-4.4l10.2-10.9l6-.7l5.9-2.8l3.4-.1l5.1-2l2.6-1.7l5.9 .8l7.7-3.7l3.4-.2l6.8-3.1l5.1-2.6l5.1-4.2l5.9-3.2l5.1-4.7l2.6-.7l3.4-2.1l2.6-2.9l3.4-2.7l5.9-2.8l6-6.5l5.1-2.8l5.9-6.7l6-4.3l5.9-8l3.4-2l8.5-9.3l3.4-3.3l2.6-1.6l5.9-9.7l6-5l5.9-7.8l6-4.3l6-6.5l5.9-3l6.8-8l6-2.6l5.9-6.7l6-2.7l6.8-6l7.6-1.8l4.3-4l3.4 .2l2.5 1.7l.9-.1l5.9-3.3l6 1.6l2.5-1l4.3-.6l2.6 .3l3.4 1.5l1.7-.3l7.6 .7l4.3 3l6.8 1.4l5.9 5.8l6 2.2l4.2 4.4l3.4 2.4l6 2.5l5.1 6.1l9.3 6.5l10.2 10.5l5.1 3.6l5.1 6l6.9 5.3l7.6 10l6.8 5.4l6.8 8.4l7.7 6.3l7.6 8.7l6.8 4.1l7.7 9.2l5.1 2.3l9.3 8.1l6.8 3.3l8.6 7l6.8 2.8l6.8 4.8l7.6 2.8l6.8 4.3l8.5 1.9l7.7 4.6l6.8 1.7l3.4 1.8l3.4 .4l4.2 2.2l7.7 .3l5.1 1.6l1.7-.3l3.4-2.2l2.6 .2" stroke="#77d575"/>
<path d="M176.0 1265.0l4.2 4.6l5.1 7.6l11.9 14.5l7.7 5.4l1.7 .6l1.7-.5l10.2-6.5l6-1.3l4.2-1.9l8.5-1.2l6.8-2.3l.9-.8l2.5-17.1l2.6 14.8l3.4 .5l2.5-.8l6-3.6l10.2-2.7l3.4-.4l8.5-3.9l3.4 .1l3.4-1.8l3.4-.4l2.5-1.1l5.1 .4l4.3-1.2l5.1-4.8l3.4-4.6l1.7-3.4l2.6-6.8l14.4-47.3l6-14.6l4.2-7l1.7-1.6l1.7 .2l2.6 1.6l4.2 3.9l6 9.9l5.9 15l6.8 11.8l4.3 4.2l2.5 1.2l5.1-1.3l3.4 0l3.5-1.6l3.4 .4l2.5-1.2l5.1-.8l4.3 .2l4.2-.6l3.4 .4l2.6-.5l3.4 .6l9.3 5.4l11.1-1.1l2.5-2.2l6.8-8.7l5.1-5.5l6.8-11.6l6-16.2l4.2-18.7l3.5-23.2l2.5-29.2l3.4-51l3.4-68.5l6-171.5l3.4-61.3l4.2-55.7l5.1-51l5.1-37.2l5.1-23.5l2.6-8.1l2.5-4.5l5.1-4.1l2.6-.5l2.5 .2l2.6 1.1l3.4 2.5l3.4 .7l5.9 2.8l3.4 2.6l4.3 1.5l4.2 2.8l12.8 2.9l8.5 3.9l8.5 2.7l5.1 .8l6 3.6l9.3 2.5l3.4 .3l3.4 1.9l6 .1l5.1 2.2l5.1 1.2l4.2 .3l4.3 1.8l4.2-.7l3.5 1.3l3.4-1.4l5.9 .9l9.4-2.7l10.2-.5l4.2 2.2l6 2l4.2 2.3l5.1 1.9l2.6 .1l4.2-1.3l2.6-2l4.2-11l.9-.4l2.5 .4l1.7-.9l7.7-11.3l2.5 0l9.4 4.6l3.4 .3l1.7-.5l6.8-7.8l8.5-12.2l6.8-4.6l5.1-4.9l7.7-3.6l5.1-4.4l4.2-1l6-2.9l5.9-.6l4.3-1.9l6.8-.6l10.2-5.8l1.7-.5l4.3 1l10.2-.7l8.5 2.5l2.5 1.6l6.8 11l9.4 18.4l7.6 11.4l1.7 2l2.6 1.6l3.4 .7l8.5 3.6l3.4 .4l5.9 2.2l4.3-.7l6 1.2l5.1-.8l5.9-3.2l4.3-.5l13.6-6l8.5-.9l9.3-2l6.8 .6l16.2 6l5.1 2.8l9.4 7.2l6.8 8.9l11.9 23.7l10.2 23.8l18.7 48.1l5.9 17.5l6 23.4l4.2 21.6l2.6 20l5.9 79l2.6 42.2l2.5 28.2l2.6 20.1l9.4 61.3l7.6 32.9l7.7 22.8l5.1 9.7l5.9 7.3l6.8 5.1l6.8 3l4.3-1.9l3.4-.8l2.5-1.4l6-5.6l9.3-14.3l6-12.2l5.9-13.8l15.4-40.8l14.4-35.5l14.5-38.6l16.1-32.7l6-10.1l9.3-14.1l11.1-13l4.3-6l12.7-12.4l6-3.8l5.1-4.3l5.1-2.5l4.2-.6l6-2.6l12.7-3.1l4.3 1.1l4.2-.5l3.4 .9l4.3-.8l17.9 7l3.4 2.7l7.6 4.5l4.3 4.7l4.2 2.8l5.1 7l5.1 5l13.6 21.3l14.5 16.8l7.6 3.3l8.5-1.2l9.4 0l4.3-.5l6.8 1.1l6.8 3.3l3.4 2.8l3.4 1.5l5.9 7.6l5.1 14.7l6 24.8l21.2 105.8l15.3 83l3.4 44l.9 6.3l.9 2.3l.8 .6l3.4-5.3l10.2-10.6l6-.9l5.1-2.3l2.5-.1l3.4-.9l6-3.1l5.9 1l6-2.8l5.1-.7l4.2-2.7l3.4-1l3.4-1.8l6-4.8l5.9-2.7l5.1-5l6-2.8l6.8-6.2l5.1-1.4l5.1-5.7l6-3.7l5.9-6.4l6-4.5l5.9-8l2.6-1.2l9.3-10.3l3.4-3.1l3.4-2.3l5.1-8.1l6-5l5.9-8.5l6-2.9l6-6.6l5.9-3l6.8-7.7l6.8-2.5l5.1-5.9l6-2.3l6.8-6.7l6.8-1.2l5.1-4l3.4 0l2.5 1.7l3.4-2.4l2.6-1.1l6.8 1.9l1.7-.7l5.1-.6l6 1.8l1.7-.6l5.1-.1l5.9 3.3l7.7 2.4l5.9 5.6l6.8 3.1l3.4 3.4l3.4 2.4l6 2.3l6.8 7.5l6.8 3.6l4.2 5.2l6.8 6.3l3.4 2.3l6.8 7.3l7.7 5.4l6.8 9l6.8 5.2l5.1 6.3l4.3 4.2l5.1 3.6l7.6 9l6.8 3.4l7.7 9.5l1.7 1.2l5.1 1.8l7.6 6.9l3.4 .7l3.4 2l7.7 7.1l9.4 3.7l6.8 4.9l5.9 1.3l6.8 4.9l8.5 2l7.7 4.3l13.6 3.8l3.4 2.2l5.9-.5l8.5 1.7l4.3-1.7l2.6-.3" stroke="#61cd65"/>
<path d="M176.0 1260.1l7.6 9.9l4.3 4l10.2 12.7l8.5 4.7l1.7-.6l3.4-2.9l9.4-5.8l3.4-.4l2.5-1.5l6-1.9l5.1-.4l5.9-2.5l.9-1l2.5-18.5l2.6 16.1l1.7 .3l2.5-.5l6.8-4l4.3-.4l14.4-5.3l4.3-2.1l3.4-.5l9.3-3.1l5.1 .4l5.2-1.7l6.8-7.2l2.5-4.8l3.4-9.1l14.5-44.9l6.8-14l2.5-4l1.7-1.4l1.7 .1l4.3 2l1.7 1.5l6.8 9.2l5.9 13.3l6 9.3l3.4 3.8l3.4 1.9l2.5-.5l3.4-1.7l4.3-.2l8.5-3.7l3.4 0l4.3-1.2l6.8-.8l8.5 .1l9.3 5.6l6.8-.6l4.3-1.2l2.5-1.9l6-7.5l5.9-6l6.8-11.8l6-14.9l4.2-17.4l3.5-21.7l3.4-36.9l2.5-36l3.4-64.2l5.1-140.9l1.7-34.8l4.3-66.5l4.2-46.8l4.3-37.6l5.1-34l3.4-15.5l2.5-8.5l1.7-3.6l3.4-4.1l3.4-2.9l1.7-.7l1.7 .3l8.5 3.5l3.4 .4l9.4 6.1l3.4 1.1l4.2 2.6l3.5 .7l5.1 2.2l7.6 1.5l5.1 2.7l3.4 .9l6 2.9l5.9 .3l5.1 2.9l11.1 2.9l4.2 1.9l6.8 .1l10.2 3.3l7.7 1.3l4.2-.8l3.5 1.5l2.5-1l5.1-.1l4.3-1.3l3.4-.1l4.2-1.1l6.8 .4l3.4-.5l16.2 6.5l6.8-.3l2.5-1l2.6-2.1l4.2-12.1l.9-.5l2.5 .7l1.7-.9l7.7-10.6l1.7-.3l1.7 .6l8.5 5.2l2.6-.1l2.5-.9l6.8-7.5l8.5-12l11.1-8.9l5.1-3.2l3.4-1l5.1-4.4l9.3-3.9l5.1-.4l5.1-2.9l4.3 .2l3.4-.8l4.2-1.8l7.7-4.6l3.4-.4l4.3 .5l4.2-1l6 .4l5.1 1.4l3.4 2.6l6.8 10.8l7.6 14.9l4.3 5.3l3.4 5.4l2.5 2.3l7.7 2.5l3.4 .2l4.2 2l4.3 .4l4.2 2l4.3-.5l4.3 .7l5.1-.5l4.2-1.4l4.3-2.4l3.4-.3l7.6-3.9l3.4-.7l2.6-1.8l3.4 .3l2.5-.7l3.4 .1l7.7-1.5l6.8 .3l17.8 5.9l7.7 4.2l7.7 6.6l7.6 11.2l10.2 19.7l10.2 22.3l6 16l11 25.6l6 16.6l8.5 30.8l3.4 18l2.5 22.6l7.7 107.3l2.5 26l11.1 72.1l6.8 29.7l7.7 23.6l5.9 12.1l4.3 4.3l3.4 4.4l10.2 5.9l2.5 .8l4.3-1.2l5.9-2.7l4.3-3.3l11-15.6l3.4-6l14.5-33.4l11.1-28.3l14.4-34l12.8-32.8l11-20.7l5.1-10.7l14.5-21.4l15.3-17.5l9.4-8.2l4.2-4.6l6.8-3.3l6.8-5.4l6-.5l7.6-3.5l4.3-.1l7.6-2.1l5.1 1.1l3.4-.4l3.4 1.1l6.8-.2l11.1 5l5.1 1.1l11.9 7.5l16.2 16.5l14.4 21.3l13.6 15.1l7.7 3.6l11.9-1.8l5.1 .8l4.3-1.4l7.6 .7l6.8 3.2l7.7 4.4l5.9 7.2l5.1 13.9l6 24.4l21.2 100.6l15.3 79.7l3.4 43.4l.9 6.5l.9 2.7l.8 .7l1.7-2.1l1.7-3.5l10.2-9.7l6-.7l5.9-3.1l5.1-.6l6-3.2l5.9 .9l5.1-2.7l6-1.2l4.2-2.7l7.7-2.6l5.1-4.6l5.9-2.6l5.1-4.5l6-2.5l6.8-6.2l5.1-1.1l6-7l5.9-2.6l5.1-5.8l6-4.6l5.9-7.2l2.6-1.8l4.2-5.1l5.1-4.8l6-3.7l5.9-9.1l6-4.2l5.9-8.2l6-2.9l6-7l5.9-1.7l6-6.4l8.5-4.4l4.2-4.3l6-3.2l5.9-4.8l5.1-2l4.3-.7l3.4-2.8l3.4-.1l2.5 1.2l6-3.3l6.8 2l6.8-1.3l6 1.9l6.8-.5l7.6 4l6 1.2l5.9 5.6l6.8 2.9l4.3 4.4l8.5 3.8l6.8 7.4l7.6 4.4l3.4 4.1l8.5 7.6l4.3 3l4.2 4.7l7.7 5.2l6 7.8l7.6 5.8l7.7 9l2.5 2.2l4.3 2.4l7.6 8.8l6.8 3.1l7.7 9.2l5.1 1.4l9.3 7.7l6.8 2.2l7.7 7.5l8.5 2.5l6.8 5.3l6.8 1.7l6.8 4.9l3.4 .1l6.8 2l6 4.1l6.8 .8l6.8 2.1l3.4 1.7l5.1-.5l3.4 1.1l5.1 .6l5.9-2.1l1.8-.1" stroke="#42c251"/>
<path d="M176.0 1255.9l9.3 11.8l7.7 7.7l4.2 5.7l8.5 4.6l1.7 .1l6-3.9l3.4-3.3l4.3-2.1l3.4-.8l2.5-1.7l5.1-2.3l5.1-.3l6.8-2.8l.9-.9l2.5-19.3l2.6 16.4l.8 0l3.4-.5l6.8-3.8l4.3-.7l5.9-3.2l5.1-.6l7.7-4.1l4.2-.2l9.4-3.6l5.1 .2l5.1-1.9l6-6.9l3.4-5.6l16.1-47.8l6.8-14.8l2.6-4l1.7-1.7l1.7-.4l5.1 .8l2.5 1.8l6 8l6.8 13.6l2.5 2.6l4.3 6.4l1.7 1.2l2.5 .7l2.6-.5l4.2-2.4l3.4 0l3.5-1.6l2.5-.5l4.3-2.5l7.6-.8l5.1-1.3l5.1-.6l4.3 .1l3.4 1l6.8 3.9l6.8-.3l3.4-.8l3.4-2.8l5.1-6.6l6.8-6.8l5.9-10.4l6-13.7l4.2-16.9l3.5-20.7l3.4-34.7l2.5-33.7l3.4-59.2l6.8-165.1l4.3-64.8l3.4-36.8l5.1-44.8l4.2-28.4l5.1-22.5l2.6-7.7l2.5-4.1l5.1-4.5l2.6-.3l5.9 1.9l3.4 2l3.4 .3l8.5 4.9l4.3 1.4l4.2 3.2l4.3 1.8l11.1 1.9l5.9 3.5l3.4 .3l7.7 3l5.1 .7l4.2 2.9l6 .8l3.4 1.7l5.9 1.7l6 .2l5.1 2l9.3 1.9l4.3 1.5l4.2-1.1l3.5 1.2l3.4-1.6l5.1 .5l11-2.7l10.2-.8l11.9 4.6l8.5 1.5l5.1-1.8l2.6-2l4.2-12.9l.9-.7l2.5 0l2.6-1.7l5.1-7.6l1.7-1.5l2.5 .2l4.3 2.3l4.3 3.6l2.5 .2l2.6-.7l3.4-2.9l12.7-16.8l13.6-10.8l6-2.4l5.1-4.9l5.9-1.5l4.3-2.4l3.4-.1l7.6-2.9l5.1-.4l6-3.1l6.8-4.5l7.7 .3l5.9-1.7l9.4 1.8l3.4 2.2l6.8 10.1l7.6 14.3l9.4 10.9l2.5 1.7l4.3 .4l8.5 2.7l5.9 .2l4.3 1.7l3.4-.2l5.1 .6l4.3-1l7.6-3.4l5.1-.4l12.8-5.9l8.5-.6l3.4-1.6l3.4 .2l7.6-.7l9.4 3.1l5.9 2.7l3.4 .2l5.1 2.5l8.6 6.1l8.5 11l5.1 10l5.9 10.1l6 14l5.1 10.1l11 26.9l4.3 9.1l8.5 22.5l5.9 20.8l4.3 20.1l2.5 21.5l9.4 120.9l3.4 24.7l8.5 51.1l7.7 30.8l5.1 15.6l3.4 8.4l4.2 7.5l3.4 3.1l3.4 4l8.5 5l4.3 2.2l1.7 .2l10.2-4.6l5.1-4.4l10.2-14.1l11-23l12.8-31.8l9.4-20.5l22.1-52.8l11.9-21.3l4.2-8.8l13.6-18.9l16.2-18.5l8.5-6.5l5.1-5.3l6-2.2l6.8-5.6l3.4-.9l4.2 0l6.8-2.7l8.5-.7l4.3-1.3l4.2 1.1l9.4-.1l5.9 1.2l6.8 2.9l6.9 2l6.8 4.6l5.1 2.2l4.2 4.6l3.4 2.2l5.1 6.4l4.3 3.3l5.9 7.8l8.5 13l14.5 15.1l8.5 1.8l11.9-2.2l10.2 .7l6-.5l13.6 7.3l3.4 3.4l2.5 3.6l4.3 10.9l5.9 21.5l17.9 81l19.5 97.4l3.4 42.4l.9 6.6l.9 2.8l.8 .9l1.7-1.8l1.7-3.4l5.1-4.1l5.1-5.4l6-.2l4.2-2.5l3.4-.2l3.4-.9l3.4-1.4l2.6-1.8l5.9 .5l6-2.8l5.1-.5l4.2-2.8l6.8-2.4l6-4.7l5.1-1.9l5.9-5.3l6-2.6l6-5.4l5.9-1.8l5.1-5.7l6.8-3.9l5.1-5.1l6.8-5.2l5.1-6.6l2.6-1.2l4.2-4.9l8.5-7.3l2.6-1.2l5.9-8.3l6-4.5l5.9-7.6l3.5-1.3l2.5-1.7l6-6.5l5.9-1.5l6-6.5l8.5-3.7l4.2-4.2l6-2.5l5.9-5.1l8.5-2.4l4.3-3.5l3.4 0l2.5 1.7l6.8-3.4l5.1 2.2l6.8-1.8l6 2.2l2.6-.5l4.2 .5l4.3 1.5l3.4 1.9l3.4 .9l2.5 .1l6.8 6.4l6 2l3.4 3.3l3.4 2.3l7.6 3.2l6 7.6l7.6 3.4l4.3 5l11.9 9.2l4.2 5.2l7.7 4.4l6.8 9l6.8 4.8l10.2 11l4.3 1.7l7.6 8.4l7.7 3.9l6.8 7.8l6.8 3l7.6 5.6l4.3 1l2.5 1.4l7.7 6.7l9.4 3.6l5.9 4.6l6.8 1.5l6.8 4.7l8.5 1.3l7.7 4.1l2.5 .8l5.1 .6l6 1.7l4.2 1.9l5.1-.4l7.7 2.3l2.5-.5l3.4-2l1.8-.1" stroke="#29b942"/>
<path d="M176.0 1252.4l5.1 5.4l4.2 5.7l8.5 8.3l4.3 5.1l7.6 3.9l1.7 .1l8.5-7.4l5.2-3.4l7.6-1.9l4.3-2.7l5.1-.8l5.9-2.8l.9-.9l2.5-19.6l2.6 16.9l1.7 0l2.5-.4l8.5-5.4l9.4-3.5l4.2-.9l4.3-2.6l3.4-1.2l3.4-.4l9.3-3.7l4.3 .4l3.4-.3l3.4-2l6.8-7.6l2.6-4.6l9.3-24.7l7.7-22.6l5.9-12.4l4.3-5.8l5.9-.2l2.6 1.4l7.6 8.4l6 11.3l2.5 1.9l4.3 5.2l4.2 1.9l2.6-.7l4.2-2.5l3.4-.9l3.5-2.2l2.5 0l3.4-2.8l4.3-.4l8.5-2.7l3.4-.2l3.4-1.1l5.1 1l7.6 4.7l11.1-1.3l15.3-16.4l3.4-5.3l6.8-13.5l3.4-9.6l4.2-18.9l2.6-17.5l4.3-45.2l2.5-37l2.6-47.1l5.1-123.7l5.9-86.5l6-56.4l5.9-40.2l3.4-15.3l2.6-8.6l2.5-6.5l3.4-5.1l1.7-1.2l3.4-1.2l5.1 .7l4.3 2.4l4.2 .4l6 3l3.4 2.4l3.4 .7l4.2 3l9.4 3.3l6 .2l5.9 3.7l4.3 1l5.9 3l5.1 0l4.3 3l3.4 .5l5.1 2.1l3.4 .3l4.2 1.4l6.8 .4l5.1 1.8l11.1 2.4l2.5 .3l3.4-.7l3.5 1.2l3.4-1.7l5.1 .7l2.5-.4l8.5-3.2l6 .3l3.4-.5l6.8 1l7.6 3.1l5.1 .9l6-1.9l3.4-2.4l4.2-13.2l.9-.9l2.5-.5l2.6-1.7l5.1-6.9l1.7-1.4l1.7 0l1.7 .8l7.7 5.7l1.7 .1l4.2-1.1l6-6.7l9.3-12.5l10.2-7.8l6-3.8l3.4-1.6l5.1-4.7l5.1-1.4l5.1-2.6l3.4-.3l5.9-2.9l3.4-.1l5.1-1.3l11.1-7.2l6.8 .3l6.8-2.2l8.5 .9l4.3 2.9l6.8 8.5l7.6 13.5l6.8 8.5l2.6 2.3l4.2 1.7l7.7 1l4.2 1.5l4.3 .2l4.2 1.1l4.3-.8l7.7 .3l2.5-.7l6-3.4l5.1-.3l3.4-1.9l10.2-4l9.3-.6l3.4-1.1l5.1-.9l6 .3l11.9 3.6l3.4 1.6l3.4 .5l5.1 2.5l7.7 5.2l9.3 12.2l10.2 18.4l10.2 20.2l6 14.9l13.6 29.5l7.6 21.1l5.1 18.5l3.4 17.5l1.7 15.5l7.7 97.4l2.5 24.4l11.1 66.1l6.8 27l8.5 23.3l4.3 8.4l7.6 7.2l12.8 7.3l1.7 0l2.5-1.4l3.4-.9l7.7-5.2l2.5-2.5l9.4-12.6l10.2-20.3l7.7-17.2l9.3-23l6-11.6l22.1-50.6l11.9-20.5l4.2-8.3l13.6-18.9l6.8-6.3l3.4-4.4l6-6.2l9.4-6.6l4.2-4.3l6.8-2.6l6-4.1l6.8-.9l6.8-2.1l4.2 0l8.5-2.5l4.3 1.4l3.4-.7l3.4 .9l3.4-.4l5.1 .8l9.4 3.8l5.1 1.4l6.8 4.3l3.4 .9l1.7 1.1l3.4 3.6l4.2 2.8l5.1 6.1l3.4 2.6l9.4 11.9l5.9 8.9l15.3 14.6l5.1 1.3l7.7-2.2l23-.4l4.2 2.6l9.4 4.3l6.8 8.7l4.2 10.8l5.1 18.5l21.3 93.5l16.1 78.9l3.4 41.7l.9 6.6l.9 3l.8 1.1l1.7-2.1l1.7-3.7l5.1-3.6l6-5.4l5.9-.5l4.3-2.1l4.2-.7l3.4-1.9l4.3-1.5l5.9 .5l6-3.1l2.5-.6l2.6 .3l5.1-3l5.9-1.6l6-5l5.9-2.7l5.1-4.2l6-2.1l6-6.1l5.9-1.2l6-6.8l5.1-2l5.9-5.4l6-4.1l5.9-7.3l2.6-1.3l4.2-5l3.4-2.3l5.1-4.8l3.4-2.1l5.1-7.6l6-4l5.9-6.9l6-2.2l6-6.4l5.9-2.2l6.8-6.4l2.6-1.3l4.2-.9l5.1-5.5l6-1.8l6.8-5.8l2.5-.8l5.1-.5l4.3-3.3l3.4 .2l2.5 1.2l4.3-2.5l2.5-.6l6 2.4l2.5-1.1l4.3-.2l6 2.2l6.8-.6l7.6 3.8l5.1 .2l6 5.7l7.6 4.2l3.4 3.3l3.4 1.8l6 1.9l6.8 6.7l6.8 4.1l4.2 4.3l4.3 2.9l3.4 3.6l5.1 3.6l4.2 4.5l7.7 5l6 7.8l7.6 4.9l10.2 10.4l4.3 2.2l6.8 7.2l7.6 3.5l6.8 8.1l6.8 2.7l8.5 6.5l4.3 1.1l2.5 1.3l7.7 6.4l10.2 4l5.1 3.8l6.8 1l2.6 2.2l3.4 1.7l3.4 .5l4.2 1.7l3.4 .6l6 3.1l3.4 1l4.2 0l9.4 3.9l5.9-.5l7.7 1.6l5.9-2.3l1.8-.2" stroke="#11b034"/>
<path d="M176.0 1249.4l9.3 11.7l7.7 7.2l4.2 4.8l1.7 1.1l2.6 .5l4.2 2.8l1.7-.2l10.2-8.7l14.5-7.1l4.3-.7l7.6-2.8l.9-.9l2.5-20.9l2.6 17.3l.8-.1l3.4-1.2l8.5-4.6l8.5-3.2l4.3-.7l6.8-4.2l5.1-.5l3.4-2l14.5-3.3l3.4-2l5.9-6.4l2.6-4.4l8.5-21.8l9.3-26.2l6-11.6l2.5-3.4l1.7-1.3l2.6-.3l5.1 1.6l5.9 6.1l7.7 12.1l2.5 1.9l4.3 4.9l3.4 1.2l3.4-1l4.2-3.2l3.4-.1l3.5-2.4l2.5-.5l3.4-3.1l9.4-1.7l4.2-1.9l5.1-1l6 .2l7.6 4.4l6 .1l2.5-.6l3.4-1.9l5.1-4.8l9.4-10.4l3.4-5l6.8-13.6l3.4-8.9l4.2-17.8l2.6-16.6l3.4-33.2l3.4-44.8l2.6-44.6l5.1-118.5l3.4-52.4l3.4-40.6l5.9-52.3l5.1-33.6l3.4-15.6l2.6-8.5l2.5-6.1l3.4-4.7l4.3-2.6l6.8 .9l16.1 7.9l4.3 .8l5.9 3.8l7.7 2.9l6 .7l5.1 3.2l5.1 .9l5.1 2.5l5.1 .5l5.1 3.1l3.4 1.2l19.5 3.6l5.1 1.6l9.4 1.3l3.4 1.3l4.2-1l3.5 1.2l3.4-1.4l5.1 .1l5.9-1.1l4.3-1.6l4.2 0l6-1.3l13.6 3.7l5.9 .9l6-1.7l3.4-3l4.2-13.9l.9-1l3.4-.5l1.7-.9l6.8-8l1.7-.3l1.7 .6l8.5 5.9l5.1-.8l2.6-2.1l12.7-17.2l7.7-4.7l7.6-6.8l4.3-1.3l5.1-4.3l4.2-1.5l6-3.6l3.4 .1l5.9-2.8l6-.7l9.3-5.3l4.3-3l6.8-.4l4.3-1.4l5.9-.6l7.7 1.3l1.7 1l6.8 9.4l7.6 12.5l9.4 10.1l3.4 1.7l5.1 .5l2.5-.2l5.1 1.6l4.3-.3l5.1 1.8l4.2-.8l4.3 .7l6.8-2.1l5.1-3.4l5.1 .3l6.8-3.9l3.4-.6l2.6-1.4l8.5-.2l3.4-1.5l5.9-.8l2.6 .4l3.4-.2l4.2 1.8l3.4 .6l6 2.8l4.2 .1l6.8 3.2l6.9 5.1l8.5 10.2l10.2 17.4l6.8 13.7l5.1 9l5.1 12.8l10.2 21l5.1 12l5.1 13.5l4.2 13.4l4.3 18.1l1.7 12.2l8.5 103.4l2.5 23.3l2.6 16.9l9.4 50.9l6.8 24.3l5.1 14.4l3.4 7.9l4.2 6.5l4.3 3.2l3.4 4.2l6.8 3.5l5.1 2.4l1.7 .2l3.4-2.1l6.8-2.8l5.1-4.4l9.3-11.7l12.8-24.4l16.2-37.5l5.1-9.3l5.1-12.2l5.1-9.7l11.9-27.4l17-29.5l15.3-19.4l4.2-3.1l9.4-10.5l4.3-1.7l9.3-8.3l6-1.8l7.6-5.4l1.7-.3l4.3 1.1l6.8-2.8l4.2 .3l4.3-1.6l5.1-.8l3.4 .9l4.2-.5l3.4 .9l4.3-.9l22.1 8.4l6.8 3.6l5.1 4.6l3.4 2.2l5.1 5.5l4.3 3.1l15.3 20.5l13.6 13.1l6.8 1.6l5.1-1.7l7.6-1.1l6 .4l4.3-1l6.8 .5l7.6 3.6l6 3.8l5.9 5.8l5.1 12.1l6 21l19.5 84.3l17 81.5l3.4 41.2l.9 6.6l.9 3.1l.8 1l1.7-2.1l1.7-3.4l11.1-8.9l5.1 0l5.9-2.7l5.1-1.3l6-2.7l5.9 .4l6-2.8l5.1-.7l5.1-2.3l5.9-2l6-5.2l5.9-2.2l5.1-4.3l6-2.8l6-5.3l5.9-1.1l5.1-5.8l6-3.2l5.9-5.7l6-3.7l5.9-7.5l2.6-1.4l4.2-4.3l2.6-1.6l5.9-5.2l3.4-1.6l5.1-7.6l6-4.4l5.9-6.6l6-1.8l6-6.8l5.9-1.3l6-6.3l8.5-3.3l4.2-4.2l6-2l6.8-5.3l6.8-.7l5.1-4.3l2.5 0l3.4 2.3l.9-.1l2.5-2.1l2.6-1.1l6.8 1.9l6.8-1.4l6 2.3l7.6-.3l6 3.9l5.9 .9l6.8 5.7l6 2.2l6.8 5.4l7.6 2.6l5.1 7.4l1.7 1.1l3.4 .6l3.4 1.8l4.3 5l3.4 2.3l3.4 3.3l2.5 1.4l6.8 6.4l7.7 4.7l6 7.3l4.2 2.4l3.4 2.7l4.3 4.9l5.1 4.7l5.1 2.6l6.8 7.4l7.6 3.3l7.7 8.3l1.7 .8l3.4 .6l9.3 7l4.3 1l2.5 1.4l8.6 7l4.2 1.4l2.6 .1l7.6 5l6.8 1.1l6 4.1l6.8 1.8l2.5 0l5.1 2.8l5.1 1.9l5.1 .5l8.5 2.8l5.1-.2l10.2 2l1.7-.4l2.6-1.8l2.6-.3" stroke="#0cab33"/>
<path d="M176.0 1245.1l4.2 3.7l5.1 6.6l12.8 11.8l4.2 1.3l2.6 1.6l1.7 .2l14.5-12.1l11-4.8l4.3-1l7.6-4.6l.9-1.1l2.5-21.8l2.6 19l1.7 .3l2.5-1.2l7.7-5.6l4.2-1.2l4.3-2.4l5.1-.8l7.6-4.2l4.3-.5l3.4-2.3l5.1-2l7.7-.2l5.1-2.7l5.9-6.4l2.6-4.2l9.3-22.3l7.7-20.1l5.9-12.3l2.6-3.6l2.5-2.3l6-.3l1.7 .4l6.8 5.8l6.8 9.3l2.5 1.2l4.3 3.9l4.2 .1l3.4-1.2l3.4-3l3.4-1l3.5-2.8l3.4-1.4l2.5-2.3l6.8-3.2l12.8-4.2l3.4 .2l8.5 4.8l1.7 .4l5.9-.3l4.3-1.1l2.5-1.9l6.8-7.7l5.1-4.9l5.1-7.6l6.8-13.3l3.4-8.9l4.3-17.6l2.6-16.6l3.4-31.8l3.4-43.3l6.8-135.9l3.4-49.6l3.4-38.5l5.9-49.5l5.1-32.1l5.1-20.9l3.4-8.3l3.4-4.7l3.4-2.3l2.6-.5l5.1 1.1l4.2 1.7l2.6 .2l3.4 2.3l3.4 1l3.4 2.3l3.4 1.3l4.2 2.8l7.7 3l6 .6l7.6 4.4l3.4 .1l6.8 3.2l5.1 .1l4.3 3l10.2 2.7l5.1 1l4.2-.2l7.7 1.5l5.1 1.9l5.1 .2l4.2 1.2l3.4-.9l3.5 1.1l3.4-1.6l5.1 .2l11.9-3.5l3.4 0l5.9-1.2l12.8 3.4l5.9 0l6-2.1l3.4-2.8l4.2-15.2l.9-1.1l2.5-.4l2.6-1.4l5.9-7.2l1.7-.6l1.7 .6l7.7 6.8l3.4 .4l2.6-.6l2.5-2.1l4.3-4.9l9.3-12.6l16.2-11.7l3.4-1.1l5.1-5.1l5.1-.9l5.1-3.4l3.4-.4l5.1-2.8l4.2-.5l5.1-1.4l11.1-8.2l6.8-.5l6-2l6.8-.3l4.2 .8l2.6 1.3l6.8 7.8l5.1 8.1l10.2 10.9l3.4 2.2l6.8 1l3.4-.2l4.2 1.4l4.3-.4l3.4 1l5.1-1l5.1 .5l7.7-2.6l4.2-2.2l4.3-.7l5.9-2l7.7-3.5l9.3-.6l6-.9l2.5-.9l2.6 .3l3.4-.5l4.2 1.9l7.7 1.9l2.5 1.4l4.3 .2l11.1 5.6l2.5 2l7.7 9.8l5.1 8.3l5.1 7l6.8 13.3l5.1 8.7l11 24.2l6 11l3.4 7.5l5.1 12.3l5.1 14.6l3.4 13.8l1.7 11.5l10.2 113l4.2 25.9l8.6 42l7.6 25.6l7.7 18.3l5.1 7.6l12.7 8.4l6.8 2l4.3-1.7l5.9-1.4l5.1-3.9l11.1-13.4l11-20.3l6.9-14.1l9.3-21.6l6-10.6l22.1-45.7l12.7-19.7l4.3-7.6l5.1-6.7l11-11.9l4.3-3.6l2.5-3l2.6-1.6l4.3-4.5l3.4-1.7l8.5-6.1l7.6-2.5l6-3.4l26.3-4.1l5.1 1.5l3.4-.6l3.4 .7l3.4-.3l6.8 1.5l8.6 3l4.2 .7l11.9 6.5l3.4 2.9l2.6 1.1l6.8 6.8l3.4 2.5l15.3 19.2l13.6 11.1l6.8 1.1l5.1-1.6l5.9-.8l5.2 .3l5.9-.8l7.7 .1l13.6 6.6l6.8 7.4l4.2 9.4l8.5 30l14.5 59.2l17.8 79.4l2.6 15.7l3.4 39.8l.9 3.4l.8 1.3l1.7-1.7l1.7-3.1l5.1-3l6-5.7l5.1-.2l5.1-2.9l5.1-.2l6.8-3.6l5.9 1.3l6-3.3l5.1-.2l5.1-3.1l6.8-2.5l5.1-4.1l5.9-1.6l5.1-5l6-2.5l6-4.8l5.9-1.7l5.1-5.9l6-2.1l6.8-6l5.1-3.1l5.9-7.2l3.4-1.5l4.3-4.9l7.6-6l2.6-.8l1.7-1.4l4.2-6.9l6-3.1l5.9-6.5l6-1.8l6-6.2l5.9-.9l6-5.8l4.2-1.7l2.6-.3l2.5-1.9l3.4-3.8l6-.9l5.9-5.1l8.5-1.3l4.3-3.8l.8-.2l2.6 .3l2.5 2.1l6-3l6.8 1.9l2.5-1l4.3-.3l4.3 1.6l3.4 0l2.5 .9l6 .8l5.1 2.9l5.1 1.1l5.9 5.6l6.8 2l3.4 3.6l2.6 1.9l7.6 2.3l6 7.1l6.8 2.9l4.2 4.7l4.3 2.5l2.5 2.4l4.3 2.3l5.9 6.2l6.9 3.7l6.8 7.9l7.6 4.4l10.2 9.8l4.3 1.6l6.8 6.9l7.6 3.1l7.7 8l5.1 2l3.4 2.6l3.4 1.4l2.5 1.9l6.8 1.7l9.4 7.4l7.7 2.3l5.9 4.3l6.8 .7l6 3.8l3.4 .4l3.4 1.5l2.5 0l7.7 3.5l7.6 .8l2.6 1.2l3.4 .3l3.4 1.9l5.9-.9l7.7 1.7l2.5-.4l3.4-1.9l1.8 .3" stroke="#02a031"/>
<path d="M176.0 1241.8l3.4 3l11 11.8l3.4 2.4l4.3 4.5l4.2 .9l3.4 2l1.7-.2l9.4-9.9l4.3-3l4.2-1.4l7.7-4.6l5.1-1l5.1-3.1l1.7-1.6l2.5-22.6l2.6 18.6l.8-.1l4.3-.8l5.9-4.5l4.3-1.8l4.2-2.9l6-.9l7.6-4.3l5.1-.7l3.4-2.3l5.1-2.4l4.3 0l3.4-1.1l6.8-4.2l3.4-4l4.3-7.2l8.5-19.6l6.8-18.1l7.6-13.6l3.4-3.6l6.8-.8l1.7 .6l6.8 4.9l5.1 6.5l3.4 1.6l4.3 3.7l2.5 .2l4.3-1.9l4.2-4.2l4.3-1.5l2.6-2.2l2.5-1.1l8.5-5.7l14.5-4.7l4.2-.2l7.7 4.8l1.7 .5l5.9-.4l4.3-1.5l2.5-2.1l6-6.7l6.8-5.9l1.7-2.4l8.5-15.2l4.2-10.3l4.3-16.6l2.6-15.3l3.4-29.1l3.4-40.2l6.8-127l3.4-46.8l3.4-37.3l5.9-48.4l5.1-31.5l2.6-11.3l2.5-8.5l3.4-8.1l3.4-4.7l4.3-2.4l5.1-.2l5.1 2.7l3.4 .3l3.4 2.1l3.4 .7l3.4 2.2l3.4 1.2l4.2 3.3l9.4 2.8l5.1 .5l6.8 4.8l7.7 1.5l3.4 1.6l5.1 .5l5.9 3.2l4.3 .8l3.4 1.8l5.9 1.3l4.3-.9l6.8 2.2l6.8 1.4l4.2-.1l3.4 .8l2.6-.6l3.4 1.5l4.3-2.1l5.1 .2l4.2-1.7l6.8-1.7l7.7-.9l2.5-.9l6.8 .9l6.8 2l3.4-.2l6.8-2.3l4.3-3.4l4.2-14.9l.9-1.2l2.5-.8l2.6-1.8l5.9-6.6l1.7-.5l1.7 .7l8.6 7.3l1.7 0l4.2-1.2l1.7-1.4l4.3-5.3l8.5-11.8l8.5-5.3l8.5-6.4l3.4-1.1l4.2-4.8l5.1-1.2l6-3.7l4.2-.4l5.1-3.6l6.8-.6l5.1-3.3l7.7-6.2l2.6-.6l4.2 0l5.1-2.2l6.8-.7l5.1 .4l2.6 1l6.8 7.6l3.4 5.8l2.5 3.1l9.4 8.8l2.5 1.4l6.8 1l4.3-.4l4.2 1.5l3.4-.7l6 .8l3.4-.9l5.1-.1l5.1-1.2l6.8-3.8l5.1-.1l6.8-3.3l3.4-.7l3.4-1.9l4.3-.5l3.4 .4l9.3-1.8l2.6 .4l3.4-.5l4.2 1.9l3.4 .3l6.8 2.6l2.6 .1l9.3 3.6l5.2 3.5l8.5 9.2l5.9 9.8l4.3 5.5l6.8 12.8l3.4 5l6.8 14.7l13.6 25.1l9.3 21.7l4.3 13.3l2.5 11.2l1.7 14l7.7 85.6l2.5 20.1l10.3 52.9l2.5 10.1l4.3 13.4l8.5 21.9l5.1 8l1.7 1.7l3.4 1.5l3.4 3.1l11.9 5.3l1.7 0l11.9-4.8l4.2-3.7l9.4-11l6.8-11.1l13.6-27.5l7.7-17l14.4-26.1l11.9-24.5l17.9-27.6l13.6-15.8l5.1-3.8l4.2-4.8l2.6-1.4l4.3-4.2l5.9-2.9l6.8-4.7l6-.9l7.6-4.5l6 .2l19.5-3.1l5.1 1.6l3.4-.6l3.4 1l7.7-.4l5.9 2.4l9.4 2.5l11.1 5.3l3.4 2.9l3.4 1.5l5.9 6.7l3.4 1.4l1.7 1.5l13.6 17.7l4.3 2.6l3.4 3.6l6.8 5.1l1.7 .5l5.1 0l5.1-1.8l3.4-.1l5.1-1.4l4.3 .3l4.2-.9l7.7 .6l6.8 2.7l6.8 4l6.8 7.1l4.2 8.7l9.4 31.3l12.7 50l11.9 52.8l6.8 27.3l2.6 15.2l3.4 40.3l.9 3.6l.8 1.3l1.7-1.9l1.7-3.4l5.1-1.8l6-8.1l5.1 2.8l5.9-5.5l5.1 1.7l6-6l5.1 4l.8 .1l5.1-5.2l2.6 .2l3.4 1.6l3.4-4.1l2.5-2l5.1 1.6l.9-.6l5.1-7.4l5.9 1.4l5.1-7.8l.9-.5l5.1 1.1l6-8l5.9 2.2l6-9.9l5.1 1.5l5.9-8.4l6-.3l5.9-10.3l2.6 .3l3.4-1l5.9-9.2l6 .7l5.9-11.7l6 .1l5.9-9.9l6 2.2l6-9.2l5.9 2.5l6-9.2l3.4 .4l2.5 1.6l.9-.2l5.9-8.5l6 2.6l5.9-9.1l1.7 .7l4.3 3.2l.8-.4l6-8.4l3.4 3.2l2.5 3.8l6-7.9l.8 .1l6 7.2l5.9-6.3l.9 .1l6 7.8l5.9-5.5l.9-.2l5.9 8.3l.9 0l3.4-2.1l2.5-2.2l6.8 11.8l3.4-1.9l2.6-2.4l.8 .1l3.4 7.6l2.6 3.9l.8 .5l6-4.6l.8 .3l4.3 9.5l2.5 4.4l6-4.9l.8 .1l6.8 13.9l3.4-1l3.4-2.9l6.8 15.4l.9 .1l1.7-1.3l4.3-4.1l.8 .5l6.8 17.7l6.8-7.3l7.7 18.8l2.5-2.5l4.3-6.8l6.8 20.7l.8 .6l6.8-12.4l6.8 22.3l.9 1.2l6.8-14.2l7.6 23.2l6.8-16.8l.9 1l6.8 25l7.7-20l6.8 26.2l.8 1.1l6.8-22l.9 1.4l6.8 27.5l7.6-25.6l7.7 31.5l7.6-27.2l6.8 28.9l.9 1.8l6.8-27.5l.8-1.4l6.8 29.9l.9 1.2l6.8-32l.9-.9" stroke="#4f9e4d"/>
<path d="M176.0 1240.1l8.5 10l4.2 3.1l7.7 6.9l2.5 1.6l3.4 1.1l2.6 1.4l1.7 .2l10.2-9.7l4.3-3l3.4-1.4l8.5-5.1l5.1-.9l5.9-4.1l.9-1.1l2.5-22.7l2.6 19.4l2.5 0l2.6-.8l6.8-5.9l8.5-4l5.1-1.1l6.8-4.4l2.5-.9l2.6 .3l4.2-3l5.1-1.6l4.3-.2l6-2l1.7-1.2l8.5-10.4l9.3-21.3l7.7-19.7l5.9-11l3.4-5l1.7-1.5l7.7-.6l7.6 5.2l6 6.5l2.5 1.1l3.4 2.7l3.4 .3l3.4-1.3l5.1-4.2l3.4-1.3l3.5-2.6l2.5-.8l4.3-3.7l8.5-3.4l4.2-2.5l5.1-1.6l4.3 0l2.5 .6l7.7 4.8l10.2-1.7l15.3-15.4l5.1-7.6l5.9-11.5l3.4-8.3l4.3-15.9l2.6-15l4.2-36l2.6-30l6.8-122.8l3.4-46.3l3.4-36.4l5.1-41.3l5.9-35.9l5.1-19.6l3.4-8l2.6-3.7l5.1-3.9l1.7-.4l2.5 .4l15.3 5.9l4.3 2.9l3.4 .5l3.4 2.7l9.4 3.7l7.6 .7l5.1 3.4l3.4 .3l5.1 2.5l6.8 1.6l3.4 2.2l5.1 1.8l11.9 2.9l4.3-.6l10.2 2.6l3.4 .1l6.8 1.7l4.2-.6l3.5 .9l2.5-1.3l5.1-.2l11.1-3.7l3.4-.1l7.6-1.7l3.4 .9l3.4-.2l5.1 1.3l6.8-.1l6.8-3.1l2.6-2.3l4.2-16.2l.9-1.3l5.1-2.1l5.9-6.5l1.7-.3l1.7 .9l7.7 6.9l2.6 .8l2.5-.3l3.4-2.6l13.6-17.5l6-3.8l4.2-4l6-3.8l4.2-1.7l4.3-4.5l4.2-.9l5.1-2.7l3.4-.9l6.8-3.7l4.3-.4l2.5-.9l13.7-9.9l2.5-.8l4.3 .4l5.9-2.6l10.2 0l2.6 1l4.2 5.1l2.6 2.2l6.8 9.5l5.1 3.5l4.2 4.6l1.7 1l7.7 .6l3.4-.6l3.4 1.2l4.2-.3l4.3 .6l5.1-1l5.1 .3l4.3-1.2l7.6-4.2l4.3 0l13.6-5.9l9.3-.5l2.6-.6l2.5 .2l3.4-1.1l2.6 .1l3.4-.7l4.2 2.1l6 1.9l4.2 1.2l3.4-.1l6 2.6l6.8 3.8l7.7 7.1l11.9 17.8l6.8 12.2l5.1 7.7l4.2 9.2l16.2 29.8l9.3 21.8l4.3 15.1l1.7 10.7l10.2 105.1l3.4 19.8l8.5 40.5l7.7 23.8l5.9 14.3l3.4 6.7l4.3 5.4l2.5 .8l4.3 3.8l6.8 3.3l6.8 1.6l10.2-3.2l4.2-3.5l11.1-12.6l11-18.6l16.2-33.5l6-9.7l4.2-9.1l4.3-7.3l14.4-28.6l11.1-15.5l4.2-6.9l13.6-16.3l6.8-5.3l3.4-3.5l2.6-1.6l3.4-3.5l9.4-4.6l5.1-3.9l5.1-.9l7.6-4.2l7.7 .1l17.8-3l4.3 1.5l3.4-.7l3.4 1.2l4.2-.8l3.4 .2l6 1.9l4.3 2l5.1 1.3l11.9 4.9l6.8 4.6l5.9 6.1l4.3 1.9l14.4 18.7l14.5 11.2l6.8 .5l7.6-2.2l6-.6l4.3 .3l5.1-1.2l6.8 .2l12.7 6l6.8 5.9l5.1 10.1l8.5 27.3l11.1 41.5l21.2 88.5l2.6 15l3.4 39.4l.9 3.6l.8 1.3l1.7-1.7l1.7-3.7l3.4-.6l1.7 .4l5.1-10.5l.9-.7l5.1 6l5.9-8.9l5.1 5.1l.9-.5l5.1-8.3l5.1 5.9l.8 .3l5.1-8l.9 0l.8 .7l4.3 4.8l5.1-8.8l.8-.6l5.1 4.3l.9-.7l5.1-10.3l5.1 4.3l.8 .1l5.1-10.4l.9-.6l5.1 4.1l6-11.6l5.9 6.1l5.1-12.4l.9-1l5.1 5l.8-.5l5.1-11.3l.9-.2l5.1 3.3l5.9-14.1l3.4 2.5l2.6 .7l5.9-12.6l6 3.9l5.9-15l6 4l5.9-13.4l6 6.2l6-13.2l5.9 7.3l6-13.9l.8 .1l5.1 6l.9-.2l5.9-12.3l6 6.5l5.9-12.9l6 8.1l.8-.4l6-12.5l3.4 5.5l2.5 5.9l6-12.8l.8 .2l6 12.7l5.9-11.8l.9 .2l6 12.9l5.9-11.4l.9-.2l5.9 15l.9-.3l.8-1.4l5.1-10.1l6.8 19.5l6-10.9l.8-.4l4.3 13.4l1.7 4.7l.8 .8l6-12.1l.8 .2l6 20.7l.8 1.1l6-12.3l.8-.4l6.8 22.5l4.3-7.4l2.5-6l6.8 24.7l.9-.5l2.6-5.7l3.4-9.5l.8 .1l6.8 29.3l6.8-19.8l6.8 29.4l.9 1.5l3.4-9.9l3.4-13.5l6.8 36.3l.8 .6l6.8-29.1l6.8 39.2l.9 1.5l6.8-33.4l7.6 43.7l6.8-37.8l.9 1.4l6.8 46.4l7.7-44.2l6.8 50.4l.8 1.7l6.8-47.5l.9 2.1l6.8 54.1l7.6-55.5l7.7 63.1l7.6-59.8l6.8 59.1l.9 3.7l6.8-59.2l.8-2.7l6.8 63.3l.9 2.5l6.8-65.6l.9-2" stroke="#999f6b"/>
<path d="M176.0 1238.9l10.2 11.3l6.8 5.2l5.1 4.8l3.4 .9l4.2 2.2l1.7-.4l5.1-6.1l8.6-7l3.4-1.4l4.2-2.8l8.5-2.9l6.8-3.7l.9-1.1l2.5-23.1l2.6 19.5l.8 .1l3.4-1.3l7.7-6l8.5-4l5.1-1.2l8.5-4.8l3.4-.2l3.4-2.5l5.9-2.7l6.9-.3l6.8-4.3l4.2-5l3.4-5.7l8.5-18.7l7.7-19.7l5.9-11.9l4.3-5.3l1.7-.7l6.8-.8l7.6 4.7l6 6.5l3.4 .6l3.4 2.1l4.2 .4l2.6-1.4l3.4-3.4l4.2-1.7l3.5-2.8l2.5-.8l4.3-3.6l10.2-4.7l8.5-2.9l2.5-.1l3.4 1l6.8 4.7l7.7-.6l2.5-.8l3.4-2.5l6-7.2l5.9-4.9l2.6-3.3l8.5-14.9l4.2-10.1l4.3-14.4l2.6-14.6l4.2-36.8l3.4-39.8l6-108l3.4-46.2l3.4-35.7l5.9-46.2l5.1-30.3l5.1-18.9l3.4-8.2l2.6-3.3l5.1-3.2l6.8 .2l4.2 2.1l2.6 .2l3.4 2.1l3.4 1l3.4 2.2l3.4 1.3l3.4 2.7l10.2 3.4l6 .8l5.1 3.6l3.4 .2l4.2 2.5l3.4 1.1l6 .6l3.4 2.8l1.7 .8l4.2 .2l4.3 1.8l5.9 1.4l6-.7l3.4 1.5l11.9 2l3.4 1l4.2-1.3l3.5 1.1l3.4-1.8l5.1 .6l3.4-1.5l4.2-.5l3.4-1.5l4.3-.7l5.9-2l10.2 2.2l8.5-.2l6-2.8l3.4-2.9l.8-1.8l3.4-14l.9-1.2l2.5-1l2.6-1.9l5.9-6.4l1.7-.4l1.7 .8l7.7 7.6l1.7 .4l5.1-1.5l2.6-2.1l12.7-16.8l6.8-4l3.4-3.1l6-4.2l3.4-1.2l5.9-5.4l5.1-1.5l4.3-3.3l4.2-.5l5.1-3.1l7.7-1.4l4.2-2.8l7.7-6.5l2.6-.7l4.2 0l8.5-3.4l4.3 .3l4.2-.4l1.7 .6l7.7 8.1l6.8 9l4.2 2.8l4.3 4.3l3.4 1.5l10.2 0l4.2 1.3l4.3-.6l4.2 .9l6-1.5l4.3 .1l5.1-1.5l6.8-3.7l5.1-.2l5.9-3.5l3.4-.6l2.6-1.4l8.5-.1l4.2-1.3l7.7-.2l2.5-.6l5.1 1.7l3.4 .4l6 2.5l4.2 .1l7.7 2.8l6.8 4.2l6.8 7.5l7.7 11.6l4.2 5.2l6 11.8l5.1 6.9l5.1 10.7l11.9 20.6l9.3 19.9l6.8 19.3l1.7 7.8l1.7 14l7.7 81.3l2.5 19.5l10.3 50.3l2.5 9.8l5.1 15.3l7.7 18.2l5.9 8.6l1.7 1.4l2.6 .7l6.8 4.5l8.5 3.3l1.7 .3l9.3-2.8l1.7-1l4.3-3.5l9.3-10.3l3.4-4.5l14.5-26.6l11.1-23.1l12.7-22.3l14.5-28.3l6.8-9l9.3-14.9l3.4-3.1l10.2-12.3l3.4-3.1l3.4-2.2l4.3-4.8l5.1-3.4l4.3-1.8l10.2-7.6l5.1-.1l5.9-3.8l2.6-.9l5.9 .4l6-1.4l6.8-.4l6.8-1.3l4.2 1.5l3.4-.2l2.6 .7l9.3-.4l9.4 3.8l4.3 .6l11.9 5.7l3.4 2.8l4.2 2.2l5.1 5.4l4.3 2.4l14.4 17.5l8.5 7.2l6 3.9l5.9 .9l6.8-2.6l3.4 .4l3.4-.7l6 .3l4.3-1.5l5.9 .4l5.1 1.8l5.1 2.9l4.3 1.2l5.9 6l5.1 9.6l6 17.8l17.8 66.1l18.7 78.6l3.4 38.1l.9 7l.9 3.6l.8 1.4l1.7-1.7l1.7-3.9l2.6-.2l2.5 1.3l5.1-11.2l.9-.9l5.1 6.1l5.9-9.1l5.1 4.9l.9-.6l5.1-9l5.1 7.6l.8 .3l5.1-9.1l.9-.2l1.7 1.3l3.4 4.5l5.1-8.6l.8-.6l5.1 4.2l6-11.4l4.2 4.5l1.7 .8l5.1-11.9l.9-.4l5.1 6.1l6-12.8l5.9 5.9l5.1-12.3l.9-1l5.1 5.3l.8-.6l5.1-11.7l.9-.1l5.1 3.9l5.9-14.3l2.6 1.7l3.4 1.3l5.9-12.1l3.4 2l2.6 2.5l5.9-16.3l6 5.2l5.9-14.2l6 7.2l6-14.4l5.9 8l6-13.5l.8 .2l5.1 6l.9-.4l5.9-12.3l6 7.4l5.9-14.2l6 8.9l1.7-2.1l4.2-10.1l.9-1l3.4 6.2l2.5 6.3l6-14.4l.8 .1l6 14.2l5.9-13.3l.9 .2l6 14.8l5.9-12.2l.9-.6l5.9 15.4l.9-.5l5.9-12.4l6.8 21.3l6-12.6l.8-.3l6 20.1l.8 1l6-14.3l.8-.1l6 22.3l.8 1.2l6-14.3l.8-.7l6.8 24.5l3.4-6.6l3.4-8.9l6.8 26.7l.9-.4l6-16.3l.8-.1l6.8 30.2l6.8-21.9l6.8 31.8l.9 1.6l6.8-26l6.8 37.9l.8 .6l6.8-32.3l6.8 42.7l.9 1.5l6.8-36.2l7.6 46.8l6.8-42l.9 1.4l6.8 51.1l7.7-48.5l6.8 54.5l.8 1.8l6.8-51.9l.9 2.3l6.8 57.7l7.6-59.8l7.7 67.4l7.6-64l6.8 63l.9 4.1l6.8-63.4l.8-2.9l6.8 67.1l.9 2.7l6.8-70l.9-2.1" stroke="#c6a07f"/>
<path d="M176.0 1237.7l4.2 4l5.1 6.1l8.5 6.5l3.4 3.8l7.7 2.8l1.7 .1l1.7-1.1l8.5-9l4.3-3.2l3.4-1.2l3.4-2.9l3.4-1.9l6.8-1.6l5.9-4l.9-1l2.5-23.4l2.6 19.7l.8 0l4.3-1.7l6.8-5.2l4.2-1.6l5.1-3l5.1-1.4l6-4l5.1-1.1l10.2-4.9l4.2-.5l3.5-1.2l5.9-4.4l3.4-3.7l2.6-4.2l8.5-18.2l6.8-17.5l5.1-10.5l3.4-5.8l4.2-5.1l6-1.5l1.7 .2l6.8 3.6l6.8 5.9l2.5 .5l4.3 2.7l3.4-.3l2.5-1.3l4.3-3.7l4.2-1.9l3.5-2.7l2.5-1l4.3-4l4.2-1.8l3.4-.7l5.1-2.8l4.3-1.3l4.2-.8l1.7 .4l6.8 5l2.6 1.1l10.2-1.7l1.7-1.4l8.5-10.1l5.1-4.4l1.7-2.4l8.5-14.2l4.2-9.8l4.3-14.5l2.6-14l4.2-33.8l3.4-38.1l6-104.1l3.4-44.9l3.4-34.9l5.9-44.9l5.1-29.3l2.6-10.7l2.5-7.8l3.4-8.2l3.4-4.6l4.3-2.3l6.8 .3l3.4 1.4l3.4 .6l4.2 3l8.5 3.4l4.3 3.4l10.2 3.4l6 .3l5.9 4l3.4 .3l6 3l6.8 1.1l3.4 2.1l4.2 1.5l11.1 2.8l7.6 0l5.1 1.9l11.9 1.9l1.7-.2l2.6-1.2l4.3 1.7l3.4-2.1l5.9 .2l9.4-3.7l7.6-.9l3.4-1l6.8 .3l5.1 1.2l9.4-1.6l4.2-2.2l2.6-2.4l4.2-17l.9-1.4l5.1-2.5l3.4-3.9l2.5-2l1.7-.3l1.7 .9l7.7 7.4l2.6 .4l3.4-.5l3.4-2.9l12.7-16.9l6-3.5l5.1-4.4l5.1-3.4l3.4-1l5.1-4.9l5.9-2.2l4.3-2.8l3.4-.4l5.9-3.6l6.8-1.5l4.3-2.6l9.4-7.4l6.8-1l5.9-2.3l9.4-1.5l2.5 .8l4.3 4.8l3.4 2.7l6.8 10l5.1 2.7l4.2 3.4l2.6 1l3.4 .3l5.9-.6l4.3 .9l4.2-.8l4.3 .7l6.8-1.2l3.4 1.1l4.3-2.2l3.4-1l3.4-2.4l5.1-.3l13.6-6.1l9.3-.1l3.4-1l11.1-.7l5.1 2.1l3.4 .2l5.9 2.2l2.6-.9l1.7 .5l5.1 3l6.8 2.9l9.4 9.2l5.9 9.6l5.1 6.7l6 10.2l4.2 5.5l6 12.2l11.9 20.1l11.9 24.7l4.2 12.5l1.7 7.4l1.7 13.4l7.7 79.9l2.5 18.3l10.3 48.9l7.6 24.2l7.7 17.6l3.4 5.3l3.4 3.5l3.4 1.6l3.4 3.1l5.1 1.6l5.9 2.6l2.6 0l10.2-3.1l5.1-4.1l4.2-5.1l6-5.4l17.9-30.4l10.2-22.2l5.1-7.6l4.2-8.7l4.3-6.9l13.6-25.5l11.9-15.8l4.2-7.5l4.3-3.9l9.3-11.1l4.3-3.9l11.1-8.5l10.2-6l4.2-3.2l6-1l6.8-3.6l6.8-.3l4.2-1.3l11.9-.9l3.4-1.1l5.1 2l3.4-.6l3.4 .9l4.3-.7l3.4 .2l7.6 2.7l4.3 1l3.4 .2l2.6 1.5l8.5 3.4l4.2 4.1l3.4 1.4l5.1 5.4l4.3 2.9l14.4 16.9l4.3 2.4l3.4 3.4l3.4 2.3l3.4 3.1l6.8 .2l3.4-1.6l2.5-.5l23-1l7.7 2.3l3.4 2.4l4.2 1.9l5.1 4.5l3.4 5.9l2.6 5.8l9.3 28.8l11.1 39.9l11.9 49.8l7.6 28.1l2.6 14.1l3.4 38.3l.9 3.8l.8 1.4l1.7-1.5l1.7-3.8l2.6-.6l2.5 1l5.1-11.1l.9-.8l5.1 6.3l5.9-9.9l5.1 5.8l.9-.7l5.1-8.8l5.1 7l.8 .4l5.1-8.3l.9-.1l1.7 1.4l3.4 3.7l5.1-9l.8-.6l5.1 5l.9-.8l5.1-10.8l3.4 3.3l2.5 1.2l5.1-10.8l.9-.5l5.1 5.2l6-12.2l5.9 6.1l6-13.6l5.1 5l.8-.5l5.1-11.4l.9-.3l5.1 3.5l5.9-13.9l3.4 2.5l2.6 .9l5.9-13.3l3.4 2.5l2.6 2.7l5.9-15.4l6 5.1l5.9-14.4l6 7.3l6-13.8l5.9 7.6l6-13.5l.8 .3l5.1 7.3l.9-.4l5.1-12.7l.8-1.1l6 8.6l5.9-14.5l6 9.2l.8-.5l1.7-3.3l4.3-10.2l2.5 4.6l3.4 8.6l6-13.9l.8 .1l6 14.1l5.9-13.5l.9 .2l6 14.6l5.9-12.3l.9-.5l5.9 15.7l.9-.4l5.9-12l6.8 20.8l6-12.5l.8-.5l6 19l.8 1l6-13.4l.8 0l5.1 19.5l.9 2.9l.8 .9l6-14.4l.8-.5l6.8 24.3l6.8-15.7l6.8 26.9l.9-.7l6-16.9l.8 .1l6.8 30.1l6.8-22.7l6.8 32.7l.9 1.6l6.8-26.6l6.8 37.6l.8 .8l6.8-33.4l6.8 43.8l.9 1.5l6.8-36.8l7.6 46.1l6.8-41.4l.9 1.3l6.8 50.7l7.7-48.8l6.8 54.3l.8 1.7l6.8-51.9l.9 2.3l6.8 58.9l7.6-61.4l7.7 67.3l7.6-63.7l6.8 63.3l.9 4.3l6.8-64l.8-3.1l6.8 67.7l.9 2.7l6.8-70.7l.9-2.1" stroke="#e5a08c"/>
<path d="M176.0 1236.6l9.3 9.8l8.5 6.5l4.3 3.9l5.9 2.5l2.6 .2l10.2-10.3l4.3-3.3l3.4-1.6l7.6-5l6-1.2l5.9-3.7l.9-1.3l2.5-24.1l2.6 19.8l1.7-.1l2.5-.9l6.8-5.2l4.3-1.7l5.9-3.6l5.1-1.2l4.3-3.5l3.4-1l4.2-.3l9.4-5l3.4-.7l4.3-2l5.9-4.2l4.3-5.4l2.5-4.2l8.5-18.6l7.7-19.4l5.9-10.8l4.3-5.5l8.5-2.1l7.6 3.5l6 5.3l2.5 .1l4.3 2.1l5.9-1.1l5.1-4.8l3.4-.9l3.5-3.1l3.4-1.3l2.5-2.5l6-3l5.1-1.5l7.6-3.4l6 .3l7.6 5.3l6.8-.2l4.3-1.7l1.7-1.3l6.8-8.1l7.6-7.2l4.3-6.1l5.9-10.7l4.3-10.7l4.3-15.6l2.5-14.7l3.4-27l3.4-36.7l6-100.3l3.4-43.6l3.4-34.1l5.9-44.9l5.1-28.7l2.6-10.5l2.5-7.7l3.4-8l3.4-4.4l2.6-1.8l2.5-.5l5.1 .6l4.3 2.1l3.4-.3l12.7 6.2l4.3 3.3l5.1 2.4l10.2 1.9l2.6 1.1l4.2 3.1l3.4 .3l7.7 3.1l5.1 .4l8.5 4.4l4.2 1.4l3.4 0l3.4 1.4l3.4-.8l2.6 .1l6.8 2.3l8.5 .6l3.4 1l4.2-.8l3.5 1.3l2.5-1.6l6.8-.9l10.2-4.2l9.4-1.3l3.4 .4l3.4-.4l5.9 .9l6-.6l6.8-2.2l2.5-2.1l1.7-3.3l3.4-15.2l.9-1.4l5.1-2.8l5.9-5.9l.9-.4l1.7 .4l8.5 8.6l1.7 .4l4.3-1l2.5-1.9l5.1-5.9l8.5-11.6l6.8-4l4.3-4.2l3.4-2.3l5.9-2.5l4.3-4.6l5.1-1.5l5.1-3.9l4.2-.5l6-3.3l5.9-.9l5.1-3.3l7.7-7.1l3.4-1.1l4.3-.2l5.9-2.4l4.3-.9l5.9-.4l1.7 .5l4.3 4.4l3.4 2.6l5.9 8.3l6 4l3.4 3.1l3.4 1.3l6.8-.1l3.4-1.1l4.2 1.1l5.1-.4l4.3 1l4.2-2.3l4.3 .2l6-1.2l5.9-3.8l4.3 .4l3.4-1.9l6.8-2.3l3.4-2l8.5-.1l3.4-.8l2.5 .1l3.4-1.3l6 .4l4.2 1.9l3.4 .1l6 2.3l4.2-.9l8.5 4.8l4.3 1.3l8.5 8.2l7.7 11.7l4.2 4.9l5.1 8.9l6 8.3l11.9 22.2l9.3 15.4l4.3 8.5l5.1 12.3l3.4 10.3l1.7 10l8.5 85.2l1.7 12.6l3.4 18.5l8.5 38l8.5 23.2l5.1 11.5l3.4 6.4l4.3 4.5l3.4 1.3l3.4 3.2l5.9 2.4l6.8 2.1l11.9-3.3l3.4-2.5l11.1-11.8l11.9-19.4l8.5-15.6l6.8-14.9l11.1-18.9l3.4-4.9l4.2-8.7l9.4-16.1l3.4-5.1l4.2-4.9l8.5-13.4l13.6-14.3l10.2-8.8l2.6-1.6l3.4-3.3l8.5-4l6-4.4l5.1-.2l7.6-4.4l6.8 .4l6.8-1.5l9.4-.7l3.4-1l4.2 1.6l3.4-.7l3.4 1.1l3.4-.9l3.4 .2l5.1 1.9l11.1 1.9l6 3.5l5.9 2.6l6 4l5.9 5.6l4.3 2.9l6.8 7l6.8 8.7l15.3 12.1l7.6-.1l11.1-3.2l5.1 1.3l5.1-1.1l7.7 .2l13.6 5.7l6.8 6.4l3.4 5.9l5.9 15.9l7.7 24.9l9.3 33l11.9 48l6.8 24.6l2.6 13.9l3.4 38l.9 3.9l.8 1.5l1.7-1.7l1.7-4.1l2.6-.5l2.5 .7l5.1-10.4l.9-.8l5.1 5.4l5.9-9.1l5.1 5.3l.9-.7l5.1-8.7l5.1 7.6l.8 .3l5.1-9.4l.9 0l1.7 1.6l3.4 4.4l4.2-8.2l1.7-1.9l5.1 5.2l.9-1l5.1-11.4l3.4 4.2l1.7 1.5l.8 0l5.1-11.2l.9-.4l5.1 4.6l6-11.8l5.9 5.9l5.1-12.4l.9-1l5.1 5.2l.8-.6l5.1-11.4l.9-.2l5.1 3.7l5.9-14.9l3.4 3.2l2.6 1.3l5.9-12.8l3.4 2.3l2.6 2.7l5.9-15.8l6 5l5.9-14l6 7.2l6-13.1l5.9 8l6-13.9l.8 .1l2.6 2.8l2.5 4.1l.9-.1l5.1-11.9l.8-.9l4.3 6.1l1.7 1.6l5.9-14.1l6 9.4l.8-.4l6-13.6l2.5 4.4l3.4 9l6-14.6l.8 .1l6 14.5l5.9-13.3l.9 .3l6 14.8l5.9-12.7l.9-.5l5.9 16l.9-.3l5.9-12.4l6.8 20.6l6-12.8l.8-.3l4.3 14.8l1.7 5.1l.8 .9l6-14l.8 0l6 22.2l.8 1l6-14.4l.8-.5l6.8 24l6.8-16.1l6.8 26.8l.9-.9l6-16.9l.8 0l6.8 30.5l6.8-22.9l1.7 6.3l5.1 25.7l.9 1.5l6.8-27l6.8 38.5l.8 .6l6.8-33l6.8 42.8l.9 1.5l6.8-37.5l7.6 47l6.8-42.3l.9 1.4l6.8 50.9l7.7-48.7l6.8 54.1l.8 1.7l6.8-52.2l.9 2.2l6.8 59.3l7.6-61.3l7.7 67.8l7.6-65.4l6.8 64.6l.9 4.1l6.8-64l.8-3.1l6.8 67.5l.9 2.7l6.8-71l.9-2" stroke="#f69f93"/>
<path d="M176.0 1234.8l4.2 4.1l4.3 5.5l3.4 2.2l2.5 2.8l3.4 1.9l4.3 4.1l4.2 1.1l2.6 1.3l1.7 .1l1.7-1.2l8.5-9.4l4.3-3.4l11-6.6l5.1-1.1l6.8-4.2l.9-1.1l2.5-23.9l2.6 20.1l.8 0l3.4-1.4l6.8-5.7l4.3-1.9l4.2-2.7l6-1.6l4.2-3.1l3.4-1.6l4.3-.5l3.4-2.4l5.9-2.9l3.4-.3l2.6-.8l7.7-5.1l3.4-4.1l4.2-7l7.7-16.1l6.8-17.2l8.5-15.6l3.4-4.3l7.6-2.5l1.7 .1l6.8 3.1l6 4.3l2.5 .1l4.3 2.4l2.5-.2l3.4-1.6l5.1-4.9l3.4-1.3l3.5-2.5l3.4-1.2l2.5-2.7l4.3-2.7l11-3.6l7.7-1.3l2.5 1l6.8 4.4l3.4 .1l6-1l1.7-1.1l9.3-10l6-5.3l1.7-2.3l5.1-8l7.6-15.1l4.3-13.6l2.6-12.3l4.2-31.5l3.4-35l6-96.9l3.4-43l3.4-33.7l5.9-42.8l6-31.8l2.5-9.7l3.4-9.1l2.6-4.7l2.5-2.8l4.3-2.3l5.9-.2l4.3 2.2l3.4 .5l10.2 5.4l3.4 .8l4.2 3.2l3.5 1.5l12.7 3.3l5.1 3.5l2.6 .3l3.4 1.6l4.2 1.2l5.1 .2l5.1 3.9l3.4 .4l11.1 2.8l4.2-.6l3.4 .3l5.1 2.2l6 1l4.2 .2l3.4 .8l3.4-.9l2.6 1.1l3.4-2l5.1-.1l3.4-1.3l4.3-.6l5.1-2.6l5.1-.3l4.2-1.4l6 .1l6.8 1.1l8.5-2.2l5.1-3.1l1.7-1.9l.8-2.1l3.4-15.3l.9-1.4l2.5-.9l3.4-2.3l5.1-5.8l.9-.3l1.7 .7l9.4 9.1l1.7 .5l2.5-.6l4.3-3.6l7.6-9.6l4.3-6.3l7.6-4.8l3.4-3.2l6-4.1l3.4-1.3l4.2-4.7l6-1.8l5.1-3.5l4.2-.8l5.1-3.1l3.4-.2l3.4-1.4l13.7-10.7l5.9-.8l5.1-2.2l6-1.3l5.9-.6l2.6 .8l3.4 3.9l3.4 2.2l3.4 5.1l3.4 3.7l4.2 2.2l4.3 3.7l2.5 1.2l4.3-.1l5.9-1.3l5.1 1.3l8.5 0l5.1-2.1l4.3 .9l6-2.1l5.9-3.5l6-.6l3.4-1.4l2.5-1.8l3.4-.7l2.6-1.3l5.1-.5l3.4 .5l9.3-2.1l2.6 .5l3.4-.5l4.2 1.8l4.3 .5l5.9 2.5l4.3-.4l11.1 4.7l10.2 9.3l5.9 9.5l5.1 5.7l5.1 8.5l6 8l5.1 10.4l15.3 24.4l10.2 20.7l3.4 9.9l1.7 10.1l8.5 83.5l1.7 12.2l3.4 18.1l8.5 36.5l7.7 21.3l6.8 14.5l2.5 4.4l3.4 4l3.4 1l4.3 3.7l6.8 2.6l5.9 1.4l11.1-3.1l4.2-2.9l11.1-10.6l11-17.5l9.4-17.1l7.7-15.9l5.1-6.9l4.2-8.6l4.3-6.4l13.6-24.3l11.9-15.4l4.2-7.1l4.3-3.6l8.5-9.9l4.2-3.6l3.4-2.1l3.4-3.7l2.6-1.5l3.4-3.1l8.5-4.1l5.1-3.6l6-.7l8.5-4.4l5.9 .4l6.8-1.4l9.4-.7l3.4-1.1l4.2 1.5l3.4-.4l3.4 1.1l6.8-.6l6 1.2l10.2 2.6l11.9 5.4l3.4 2.9l3.4 1.9l6 6l3.4 1l3.4 4.6l10.2 11.4l5.9 3.6l4.3 4.5l5.1 3.6l7.6 .3l5.1-2.4l3.4 .6l11.1-1.2l5.1 .4l4.3-.7l13.6 5.9l5.9 4.9l5.1 8.9l8.5 23.4l9.4 31.2l15.3 58.9l7.6 26.6l2.6 13.3l3.4 37.5l.9 3.9l.8 1.5l1.7-1.7l1.7-4l2.6-.3l2.5 1.2l5.1-11.2l.9-.7l5.1 5.9l5.9-9.5l5.1 5.7l.9-.6l5.1-8.9l5.1 7.1l.8 .5l5.1-8.7l.9 0l2.5 2l2.6 2.9l5.1-9.3l.8-.5l5.1 4.9l.9-.8l5.1-10.6l5.1 4.9l.8 .2l5.1-11.8l.9-.4l5.1 5.9l6-12.6l5.9 6l5.1-12.4l.9-1l5.1 5.7l.8-.8l5.1-11.8l.9-.2l5.1 3.9l5.9-14.5l3.4 3.2l2.6 1.1l5.9-13.2l3.4 2.5l2.6 2.9l5.9-15.7l6 5l5.9-14.2l6 7.8l6-13.7l5.9 8.2l6-13.4l.8 .3l2.6 3.3l2.5 4.1l.9-.1l5.1-12.2l.8-1l6 8.2l5.9-14.6l6 10l.8-.4l1.7-3.4l4.3-10.7l3.4 6.5l2.5 6.9l6-13.8l.8 .1l6 13.7l5.9-13.4l.9 .1l6 15.3l5.9-12.3l.9-.6l5.9 16l.9-.4l5.9-12.4l6.8 20.5l6-12.5l.8-.5l6 20.1l.8 1l6-14.6l.8 0l6 22.3l.8 .9l6-14.6l.8-.4l6.8 23.5l4.3-8.9l2.5-7l6.8 26.9l.9-.9l6-17.5l.8-.1l6.8 30.3l6.8-22.7l6.8 31.9l.9 1.7l6.8-27.2l6.8 37.6l.8 .6l6.8-33.3l6.8 43.2l.9 1.3l6.8-37.6l7.6 47.3l6.8-42.3l.9 1.5l6.8 49.8l7.7-49l6.8 54.6l.8 1.6l6.8-52.1l.9 2.3l6.8 58.5l7.6-61.2l7.7 68l7.6-65.2l6.8 64l.9 4.2l6.8-64.7l.8-3l6.8 68.6l.9 2.7l6.8-71.7l.9-2.1" stroke="#fb9c97"/>
<path d="M176.0 1233.1l9.3 10.1l3.4 2l8.5 7.3l5.1 1.2l3.4 1.8l1.7-.4l5.1-5.8l8.6-7.9l3.4-1.3l8.5-5.9l4.2-.6l6.8-4.3l.9-1.2l2.5-24.7l2.6 20.3l.8 0l4.3-1.9l6.8-5.3l3.4-1.3l6.8-4.1l3.4-.6l4.2-3.3l3.4-1.9l1.7-.5l2.6 .3l3.4-2.2l3.4-1.1l3.4-2.7l5.1-.7l5.1-3.1l6.8-7.6l3.4-5.4l9.4-20.1l5.9-14.4l6.8-12.3l3.4-5.2l1.7-1.6l7.7-2.2l7.6 2.2l6 3.8l2.5-.2l3.4 1.6l1.7 .2l6-2.5l4.2-3.9l4.3-1.8l2.6-2l3.4-1.5l2.5-2.2l2.6-.8l3.4-2.5l5.9-1.6l8.5-3.5l1.7-.2l2.6 .8l5.9 4.4l2.6 1.2l2.5 .2l4.3-.9l4.2-2l9.4-10.6l6.8-6.2l12.7-23.2l5.2-16.3l2.5-13.3l3.4-24.3l3.4-32.8l6-92.5l3.4-41.4l3.4-32.2l5.9-42.3l5.1-27.2l4.3-15.6l3.4-8l3.4-5.1l6.8-3.3l5.9 1.1l2.6 1.4l3.4 .5l5.9 2.6l4.3 3l3.4 .9l4.2 3.2l2.6 .4l6.8 3l6.8 1.3l5.1 3.9l3.4 .2l6 2.3l5.9 1.1l4.3 2.9l5.9 1.3l3.4 1.5l6.8 1.3l4.3-.8l20.4 4l4.2-1l2.6 1.1l4.3-2.1l5.1-.1l2.5-1.5l4.3-.8l5.1-2.4l9.3-1.6l6.8-.1l5.1 .8l11.9-3.3l2.6-1.8l1.7-2.1l.8-2.1l2.6-12.5l1.7-4.8l5.9-3.6l5.1-5l1.7-.3l1.7 .9l4.3 5l3.4 3.1l1.7 .4l4.3-.8l2.5-1.9l13.6-17.7l6-3.2l4.2-4.3l6-3.8l3.4-1.6l5.9-5.9l5.1-1l4.3-2.1l2.5-.4l6.8-4.6l3.4-.2l3.4-1.3l6-3.9l6.8-6.6l4.3-1.2l3.4-.2l5.1-2.9l5.1-1.2l6.8-.2l1.7 .6l6.8 5.5l6.8 8.6l4.2 2.1l4.3 3.4l2.5 .8l11.1-1.3l4.2 .8l4.3-.9l5.1 .7l5.1-1.6l4.3 0l5.9-1.8l5.1-3.1l5.1-.4l6.8-3.9l3.4-.4l2.6-1.3l5.1-.5l4.2 .6l7.7-2.1l3.4 .4l3.4-1l4.2 2.3l3.4 .4l6 2.2l4.2-.6l4.3 1.5l9.4 4.4l7.6 7.1l6.8 10l5.1 5.7l6 9.2l5.1 6.5l11 19.3l9.4 14.2l5.9 10.6l3.4 7.1l3.4 9l2.6 12.3l8.5 80.5l2.5 16.2l10.3 44.5l8.5 23.8l6.8 13.5l5.9 8.2l4.3 1.9l3.4 2.8l4.2 1l8.5 3.5l4.3-1.8l5.9-1.4l5.1-3.1l6-6.6l5.1-4.2l5.1-8.2l5.9-8.3l8.6-15l6.8-13.9l6.8-9.5l5.1-10.1l4.2-6l13.6-23.5l5.1-5.6l3.4-5l2.6-2.7l4.2-7l4.3-3.7l10.2-11.8l5.9-3.8l3.4-3.6l2.6-1.2l3.4-3.1l4.3-1.4l9.3-6.1l4.3 0l1.7-.6l7.6-4.8l6.8 .7l6-1.6l5.1 .5l8.5-1.6l4.2 1.3l3.4-.6l2.6 .8l3.4-.7l4.2 .2l6.8 2.3l9.4 1.5l9.4 4.8l2.5 .7l3.4 2.6l2.6 .7l5.9 6.1l5.1 3.1l12.8 14.9l5.9 3.8l4.3 4l5.1 3.7l3.4-.3l4.2 .4l6-2.6l11.1 .2l12.7-.8l4.3 2.4l8.5 3.3l6.8 5.7l3.4 5.4l5.1 12.3l8.5 25.3l9.3 30.1l10.2 40.1l7.7 25l2.5 10.2l4.3 43.7l.9 4l.8 1.2l1.7-2.4l1.7-4.2l2.6 .1l2.5 1.5l5.1-11.6l.9-.8l5.1 6l5.9-9.5l5.1 5.4l.9-.6l5.1-9.2l5.1 7.7l.8 .3l5.1-9.2l.9-.1l1.7 1.7l3.4 4.5l4.2-8.5l1.7-2.1l5.1 5.6l.9-.7l5.1-11.4l4.2 4.3l1.7 .8l5.1-11.8l.9-.4l5.1 5.4l6-12.6l2.5 2.1l3.4 4.4l5.1-12.5l.9-1l5.1 5.7l.8-.7l5.1-11.7l.9-.3l5.1 4.2l5.9-14.3l2.6 2.5l3.4 1.2l5.9-13.1l3.4 2.6l2.6 3.2l5.9-15.9l6 5.4l5.9-13.8l6 8.1l6-13l5.9 8.1l6-13.8l.8 .3l5.1 7.2l.9-.2l5.9-12.9l6 8.8l5.9-14.5l6 9.8l.8-.3l6-13.6l3.4 6.5l2.5 6.8l6-14.6l.8 .2l6 14.8l5.9-13.9l.9 .3l6 15.3l5.9-12.4l.9-.4l5.9 15.6l.9-.3l2.5-4.4l3.4-8l6.8 20.8l6-13.3l.8-.5l5.1 17.8l.9 2.6l.8 .9l6-14.5l.8-.1l6 22.1l.8 1.2l6-15.4l.8-.6l6.8 24.6l6.8-16.7l6.8 26.5l.9-.7l6-18.1l.8 .1l6.8 31.1l6.8-24l6.8 31.7l.9 1.5l6.8-27.1l6.8 37.6l.8 .7l6.8-33.6l6.8 42.7l.9 1.4l6.8-37.6l7.6 47l6.8-43.1l.9 1.5l6.8 51l7.7-50l6.8 55.1l.8 1.7l6.8-53.6l.9 2.4l6.8 59.9l7.6-62.1l7.7 68.4l7.6-66.1l6.8 64.8l.9 4l6.8-65l.8-2.9l6.8 68.6l.9 2.7l6.8-71.3l.9-2.3" stroke="#ff9394"/>
<path d="M176.0 1232.7l4.2 3.3l5.1 5.8l2.6 1.6l9.3 8.2l4.3 .9l3.4 2.1l1.7 0l5.1-5.9l9.4-8.8l7.6-4.1l3.4-2.9l5.1-1.3l6.8-4.3l.9-1.2l2.5-24.4l2.6 20.5l.8-.1l3.4-1.3l7.7-6.3l8.5-4.9l4.2-.7l9.4-4.7l3.4-.7l9.3-6.1l6-1.4l5.1-3.5l6.8-7.7l3.4-4.9l15.3-33.9l6.8-12.9l3.4-4.8l1.7-1.6l3.4-.8l4.3-1.8l4.2 1.7l3.4 .4l5.1 3.3l3.4 .1l3.4 1.5l2.6 .1l5.1-2.4l4.2-4.1l3.4-1.8l3.5-3.2l3.4-.8l2.5-2.3l5.1-2.8l4.3-1l3.4-2.2l3.4-.6l2.5-1.3l2.6-.3l2.5 .6l3.4 1.7l3.4 2.7l2.6 .9l9.3-1.3l5.1-4.1l5.1-6.7l6-5.3l1.7-2.2l8.5-13.8l5.1-10.7l4.3-13.6l2.5-12.8l4.3-30.5l2.5-24.5l6-90.2l4.2-50l2.6-22.7l5.9-41.1l5.1-26.9l3.4-12.2l2.6-6.9l2.5-5.4l3.4-4l4.3-2.1l7.6 .2l2.6 1.4l3.4 .4l5.9 2.6l4.3 3.4l4.2 1l3.4 2.5l9.4 4.1l6 .8l5.1 3.4l4.2 .4l6.8 3.3l5.1 .6l4.3 3.1l2.5 .2l13.6 3.7l4.3-.7l12.7 2.9l4.3-.2l3.4 1.2l4.2-.5l2.6 .7l4.3-2.4l3.4 .4l2.5-.3l5.1-2l4.3-2.8l1.7-.5l5.9-.2l4.3-1.5l5.1 .9l5.1 0l6.8-1.5l5.9-2.1l4.3-4.1l4.2-17.9l.9-1.7l5.1-3.2l5.9-5.6l.9-.4l1.7 .6l8.5 9.3l1.7 .4l5.1-.8l15.3-19.3l16.2-11.5l4.2-2.2l5.1-4.8l4.3-1.2l5.1-3.6l3.4-.5l5.1-3.4l2.5-.8l4.3-.4l1.7-.8l4.2-2.9l5.1-5.9l2.6-2.2l7.7-1.4l6.8-3.1l4.2-1.1l4.3-.1l3.4 1.1l6.8 5.6l4.2 5.6l2.6 2.4l5.1 2.1l3.4 2.4l2.5 .7l3.4-.1l6.8-1.1l5.1 1l3.4-1l5.1 1.1l4.3-1.4l4.3 0l12.7-5.8l4.3 0l13.6-6l8.5-.4l3.4-1.1l3.4 .1l2.5-.7l2.6 .4l2.5-.4l5.1 1.8l3.4 .1l6.8 2.4l2.6-.3l5.1 1.2l6.8 2.7l10.2 8.4l6.8 10.4l5.1 5.2l5.1 8l6 7.7l5.1 9.2l16.1 24.7l7.7 14.1l3.4 7.8l1.7 4.8l1.7 9.5l9.3 84.9l4.3 22.1l8.5 34l6.8 18.6l9.4 18.2l4.2 5l3.4 1.2l3.4 2.9l6 2.6l4.2 .6l3.4 1.4l3.4-1.5l7.7-1.5l4.2-2.6l4.3-5.1l6.8-5.9l11-16l7.7-13.3l8.5-17.2l6-7.7l22.1-37.6l8.5-10.9l4.2-4.2l4.3-6.8l12.7-13.3l6.8-4.3l9.4-8.1l3.4-.9l4.3-2l5.9-4.1l6-.8l7.6-4.1l2.6-.3l4.2 .7l6.8-1.6l6.8 0l6-1.5l4.2 1.4l3.4-.8l3.4 1.4l4.3-1.1l3.4 .3l6.8 2.2l7.7 .8l6.8 3.4l4.2 1.2l4.3 3.7l4.2 1.6l5.1 5.5l4.3 2.1l14.4 16.1l5.1 2.9l9.4 7.4l7.6 .1l5.1-1.8l6-.5l3.4-.1l3.4 .7l3.4-.9l6.8-.1l13.6 5.1l6.8 4.8l4.3 6.1l1.7 3.4l9.3 25.3l7.7 23.5l13.6 50.8l10.2 33.2l1.7 9.3l3.4 36.9l.9 4.1l.8 1.5l1.7-1.7l1.7-4.1l2.6-.3l2.5 1l5.1-10.9l.9-.8l5.1 6.1l5.9-9.5l5.1 5.3l.9-.7l5.1-8.9l5.1 7l.8 .4l5.1-9.2l.9 0l.8 .8l4.3 5l3.4-6.6l1.7-2.7l.8-.4l5.1 5l.9-.8l5.1-11.6l5.1 5.6l.8 .2l5.1-11.7l.9-.5l5.1 5.2l6-12.7l5.9 6.9l5.1-12.9l.9-.9l5.1 5.5l.8-.5l5.1-11.5l.9-.2l5.1 4.1l5.9-14.7l3.4 3.2l2.6 1.1l5.9-12.9l3.4 2.3l2.6 2.6l5.9-15.7l6 5.9l5.9-13.5l6 7.8l6-13.1l5.9 8l6-13.6l.8 .3l5.1 8.4l.9-.3l5.9-14l6 9.1l5.9-13.8l6 9.5l.8-.4l6-13.7l3.4 6.5l2.5 6.9l6-14l.8 .2l6 14.3l5.9-13.7l.9 .1l6 15.9l5.9-12.5l.9-.4l5.9 15.7l.9-.5l5.9-12.6l6.8 20.7l6-13l.8-.4l6 19.5l.8 .9l6-14l.8 .1l6 21.7l.8 .9l6-14.7l.8-.6l6.8 23.8l6.8-16.5l6.8 27l.9-.9l6-18.1l.8 0l6.8 30l6.8-23.5l6.8 31.9l.9 1.6l6.8-28.3l6.8 38.2l.8 .5l6.8-34.1l6.8 43.3l.9 1.4l6.8-38.9l7.6 47.3l6.8-42.9l.9 1.3l6.8 51l7.7-49.4l6.8 55.1l.8 1.7l6.8-53.9l.9 2.3l6.8 59.5l7.6-62.6l7.7 68.6l7.6-65.7l6.8 64.8l.9 4.2l6.8-65.2l.8-3.2l6.8 68.5l.9 2.8l6.8-71.8l.9-2.1" stroke="#ff888b"/>
<path d="M176.0 1231.2l4.2 3.7l5.1 5.5l8.5 5.7l3.4 3.3l1.7 .9l3.4 .7l2.6 1.4l1.7 .1l10.2-11.3l4.3-3.9l5.9-3.7l2.6-.8l3.4-2.1l5.1-1.5l5.9-4.4l.9-1.2l2.5-24.9l2.6 20.7l.8 0l4.3-1.9l6.8-6.2l3.4-1.1l6.8-3.5l3.4-1l7.6-5.2l5.1-.3l3.4-3l5.1-2.7l2.6 0l1.7-.6l7.7-5.2l4.2-4.6l5.1-8.2l8.5-17.1l6.8-16.5l6.8-12.3l2.6-3.4l2.5-2.3l3.4-1.1l3.4-2l1.7-.3l7.7 1.6l4.2 2.6l3.4-.3l3.4 1.7l1.7 0l4.3-1.7l5.9-5.8l3.4-.9l3.5-3l3.4-1.4l2.5-2.4l6-2.9l12.7-4.5l5.1 .4l7.7 4.9l1.7 .5l8.5-1l2.5-1.7l7.7-9.4l7.6-7.2l1.7-2.2l4.3-6.5l8.5-16.2l4.3-13l2.5-12.6l3.4-21.8l3.4-29.9l6-85.2l4.2-48.3l2.6-22.5l5.9-40.4l5.1-26.3l5.1-16.9l3.4-7.2l2.6-2.7l2.5-1.8l2.6-1l6.8-.2l3.4 2.1l3.4 .4l3.4 1.6l2.5 .6l4.3 3.2l3.4 .8l4.2 3l10.3 3.5l5.1 .8l5.1 3.5l4.2 .9l6 3.5l6.8 .4l4.2 2.9l5.1 .9l3.4 1.7l6.8 1.4l4.3-.7l5.9 1.7l3.4 .1l11.1 2l4.2-1.3l3.5 1.2l3.4-2.1l5.1 .2l11-4.8l6.8-.7l3.4-1.5l11.9 .3l7.7-2.4l6.8-4.4l1.7-2.1l.8-2.1l2.6-12.5l1.7-4.7l3.4-1.8l7.6-6.2l1.7-.3l1.7 1l6.9 7.6l1.7 1.2l5.1-.6l2.5-2.1l13.6-18.3l6.8-3.6l4.3-3.9l5.1-3.6l3.4-1.2l5.1-5l5.1-1.5l4.2-3.1l4.3-1.1l5.9-3.6l4.3-.6l1.7-.8l6.8-4.8l6-6.3l1.7-1.1l5.9-1l6.8-3.2l9.4-2.1l1.7 0l1.7 .8l3.4 3.8l3.4 2l7.6 8.6l4.3 .9l3.4 2.8l1.7 .7l11.9-2.1l4.2 1.2l4.3-1.2l5.1 .6l4.2-1.7l4.3-.1l5.1-1.4l6-3.8l5.9-.2l6.8-3.7l3.4-.3l2.6-1.8l9.3 .3l8.5-2.3l6 .2l3.4 1.5l4.2 .4l6.8 2.1l3.4-.4l5.1 1.1l9.4 5.5l7.7 6.3l5.9 8.9l4.3 3.9l6.8 10.2l4.2 4.8l6 10.3l4.2 5.7l17 26.5l3.4 6l2.6 6.1l1.7 4.7l1.7 9.2l5.1 47.5l5.1 40l3.4 16.5l7.7 29.4l7.6 20.6l7.7 14.9l5.9 8.3l4.3 1l2.5 2.7l1.7 1l11.9 2.5l6.8-1.6l4.3-.4l4.2-3l4.3-4.6l6.8-6.1l5.9-7.8l11.1-17.1l10.2-20l5.1-6.6l5.1-9l12.8-19.2l5.1-9.5l6.8-7.3l9.3-12.7l9.4-9.3l5.1-6.1l5.9-2.8l3.4-3.1l2.6-1.3l3.4-3.3l8.5-3.6l6-3.6l5.1-.4l6.8-4.3l8.5 .1l5.9-1l2.6 .5l4.2-1.6l6-1l4.2 1.7l3.4-.7l3.4 1.1l3.4-.9l4.3-.2l10.2 3.3l5.1 .1l6.8 3.7l4.3 1.2l6.8 4.4l5.1 4.9l5.1 2.5l3.4 4.5l3.4 3.2l7.6 9l4.3 2l5.1 4.6l5.1 3l3.4-.1l3.4 1l5.9-2.6l3.4 .4l2.6-.4l6.8 .1l5.1-1.3l6 0l6.8 2.4l3.4 2.4l3.4 .7l5.9 5l5.1 7.1l6 13.5l3.4 9.4l9.3 28.1l12.8 45.3l9.3 29.8l1.7 6.4l.9 5.8l3.4 36.8l.9 4.2l.8 1.5l1.7-2.2l1.7-4.2l2.6-.3l2.5 1.2l5.1-11.4l.9-.7l5.1 6.5l5.9-10l5.1 5.2l.9-.7l5.1-9.4l5.1 7.8l.8 .3l5.1-9.5l.9-.1l1.7 1.5l3.4 4.6l5.1-9.1l.8-.5l5.1 5l.9-.8l5.1-11.1l5.1 5.4l.8 .2l5.1-12.1l.9-.4l5.1 5.8l6-13.2l5.9 7.2l5.1-13.2l.9-1l5.1 5.8l.8-.6l5.1-11.6l.9-.3l5.1 4.4l2.5-5.3l3.4-9.7l3.4 3.2l2.6 1.1l5.9-13.1l6 5.7l5.9-15.8l6 5.9l5.9-13.7l6 8.2l6-12.8l5.9 8.7l6-14.2l.8 .3l2.6 3.4l2.5 4.3l.9-.1l5.1-11.6l.8-1l6 9.2l5.9-14.4l6 9.9l.8-.4l6-14l3.4 6.7l2.5 7.1l6-14.4l.8 .1l6 14.3l5.9-13.4l.9 .3l6 15.2l5.9-12.3l.9-.4l5.9 16.3l.9-.4l5.9-13.4l6.8 21.4l6-13.2l.8-.4l4.3 14.1l1.7 4.9l.8 .8l6-14l.8 0l6 21.9l.8 1.1l6-14.8l.8-.8l6.8 23.6l4.3-9.5l2.5-7.2l6.8 26.8l.9-1l6-17.8l.8 0l6.8 29.7l6.8-24.2l6.8 31.9l.9 1.7l3.4-12.3l3.4-15.7l6.8 37.8l.8 .6l6.8-34.1l6.8 43.1l.9 1.5l6.8-39l7.6 47l6.8-43.5l.9 1.4l6.8 51.5l7.7-50.5l6.8 55.3l.8 1.8l6.8-54.2l.9 2.4l6.8 60.1l7.6-62.8l7.7 68.9l7.6-67.2l6.8 65.4l.9 3.9l6.8-65.5l.8-3l6.8 68.9l.9 2.8l6.8-72l.9-2.2" stroke="#ff787d"/>
<path d="M176.0 1230.2l5.9 4.6l3.4 4.1l12.8 9.1l4.2 .9l2.6 1.5l1.7 .1l1.7-1.3l9.3-10.9l6.9-4.2l7.6-5.7l5.1-1.4l6.8-4.7l.9-1.3l2.5-25.7l2.6 21.1l.8-.1l4.3-1.7l6.8-5.7l7.6-4.5l2.6-1.2l4.2-.5l6.8-5.2l5.1-.7l2.6-2.1l5.9-3.4l4.3-.9l6.8-5.1l6.8-7.8l3.4-5l9.4-18.9l5.9-13.8l6.8-12.1l3.4-4.7l1.7-1.5l2.6-.9l3.4-2.6l1.7-.7l8.5 1.5l5.1 2.2l3.4-.8l3.4 .9l2.5-.4l3.4-2.3l4.3-4.4l4.2-1.5l3.5-3.3l3.4-1.1l2.5-2.2l5.1-2.8l5.1-.8l10.2-4.3l3.4 .2l8.5 5.7l6 .4l3.4-.7l2.5-1.5l8.5-10.8l6.8-6l6-9l7.6-13.3l4.3-12.1l3.4-14.1l3.4-20.5l3.4-27.8l8.5-110.8l3.4-32.9l3.4-24.1l4.3-26.2l5.1-24.3l5.1-14.7l2.5-4.8l2.6-3l4.2-2.9l2.6-1l5.1 .6l3.4 1.7l3.4 .4l10.2 5.2l3.4 1.1l4.2 3.7l1.7 .8l7.7 2.9l6 .1l6.8 4.5l11 3.8l4.3 .3l3.4 2.8l9.3 3l6.8 .7l4.3-.3l5.9 1.7l14.5 1.6l4.2-1.1l2.6 1.2l3.4-1.7l5.1-.2l6.8-2.2l6.8-3.8l5.1-.2l4.3-1.5l5.1 .7l5.9 0l6-2.3l3.4-2l3.4-1l2.5-2.1l1.7-3.5l2.6-13.4l1.7-5.2l5.1-2.9l5.1-4.7l1.7-.6l1.7 .6l9.4 9.9l1.7 .1l4.2-1.8l2.6-2.3l12.7-16.7l16.2-11.2l3.4-.9l5.1-6.1l5.1-1.5l5.1-3.6l3.4-.4l5.9-3.8l6-1.2l6.8-5.1l5.1-5.2l5.1-2.8l3.4-.7l10.2-4.3l4.3-.3l3.4-.9l1.7 .3l3.4 3.6l3.4 1.8l3.4 4.6l2.5 2.3l2.6 1.5l3.4 .8l5.1 3l10.2-1.8l5.1 .8l4.2-1.4l6 .5l12.8-3l3.4-1.5l4.2-2.8l3.4 .5l1.7-.2l3.4-2.3l6.8-2.4l2.6-1.8l9.3 .1l2.6-.9l3.4 .2l2.5-.8l3.4 .6l2.6-.6l4.2 1.9l3.4-.1l6.8 1.4l2.6-.3l3.4 1.5l4.2 1l6 2.9l8.5 7.3l7.7 9.8l3.4 3.1l6.8 9.6l5.1 5.8l4.2 7.6l3.4 4.1l3.4 5.7l5.1 6.6l13.6 21.5l4.3 9.4l1.7 9.1l5.1 46.4l5.1 38.2l3.4 15.5l7.7 29.5l1.7 5.4l5.9 14l8.5 15.6l5.1 6.6l1.7 .8l2.6 .2l3.4 2.5l9.3 2.5l3.4 1.5l3.4-1.5l8.5-1.8l3.4-2.3l5.1-5.3l6-4.6l17.9-26l9.3-17.6l5.1-6.4l5.1-9.1l4.3-5.4l13.6-21.8l9.3-11.7l3.4-3.1l3.4-4.7l9.4-9.3l4.2-5.1l6.8-3.4l3.4-3.7l2.6-1.1l3.4-3l4.3-1.4l9.3-5.7l6-.2l3.4-2.8l3.4-1.7l7.6 .7l6-1.9l5.9 .2l7.7-2.4l4.2 1.9l3.4-.7l3.4 1l6.8-.1l5.1 .7l6.9 2.1l3.4 .1l11.9 5l3.4 2.5l3.4 1.4l5.9 5.3l4.3 2.1l12.7 14.5l5.1 3l4.3 3.8l3.4 1.8l3.4 3l3.4-.6l2.5 .4l6.8-1.9l3.4 .3l13.7-1.2l7.6 .1l12.8 5.1l5.9 4l4.3 5.3l1.7 3.1l9.3 23.2l11.1 32l10.2 36.4l10.2 30.6l1.7 8.8l3.4 36.2l.9 4.2l.8 1.5l1.7-2l1.7-4.3l2.6-.2l2.5 1.4l5.1-11l.9-.9l5.1 6.3l5.9-9.9l5.1 5.8l.9-.7l5.1-9.4l5.1 7.7l.8 .3l5.1-9.8l.9 .1l5.1 6.1l5.1-9.1l.8-.7l5.1 4.4l.9-.9l5.1-11.5l5.1 6l.8 .3l5.1-11.9l.9-.5l5.1 6.1l6-13.4l5.9 6.8l5.1-13l.9-.9l5.1 5.8l.8-.6l5.1-11.8l.9-.1l5.1 4.3l5.9-14.7l2.6 2.2l3.4 1.6l5.9-12l6 5.6l5.9-15.6l6 5.8l5.9-13.6l6 8.7l6-13.9l5.9 9.8l6-14.1l.8 .4l5.1 8.3l.9-.2l5.9-13l6 9l5.9-14.5l6 10.5l.8-.2l2.6-4.9l3.4-9l2.5 4.5l3.4 9.1l6-15l.8 .3l6 14.7l5.9-13.9l.9 .2l6 16.2l5.9-12.7l.9-.6l5.9 16.3l.9-.3l.8-1.6l5.1-11.4l6.8 20.9l6-13.1l.8-.5l3.4 11.9l2.6 7.5l.8 .9l6-15.3l.8 0l6 22.9l.8 1.1l6-16l.8-.6l6.8 24.1l6.8-16.9l6.8 27l.9-1l6-19l.8-.1l6.8 30.1l6.8-23.8l6.8 31.1l.9 1.5l3.4-12.8l3.4-16l6.8 38.4l.8 .5l6.8-34.7l6.8 43.4l.9 1.4l6.8-39.4l7.6 47l6.8-43.7l.9 1.5l6.8 51.6l7.7-50.9l6.8 55.2l.8 1.8l6.8-54.2l.9 2.2l6.8 60.5l7.6-63.8l7.7 69.2l7.6-67.4l6.8 66.2l.9 4.1l6.8-66.3l.8-3.1l6.8 69.7l.9 2.6l6.8-72.7l.9-2.1" stroke="#ff666f"/>
<path d="M176.0 1229.0l5.1 3.7l4.2 5l5.1 4.4l3.4 1.6l4.3 3.2l3.4 .2l3.4 2l1.7 .1l1.7-1.4l9.3-11.4l11.1-6.7l3.4-3l5.1-1.2l6.8-4.8l.9-1.4l2.5-25.7l2.6 21.2l1.7-.1l2.5-1l6.8-5.8l9.4-5.8l1.7-.7l3.4-.1l5.9-4.8l2.6-1.2l3.4-.6l4.2-3l6-3.1l6-2.3l3.4-2.4l5.1-5.2l5.9-8.9l9.4-19l5.9-13.5l6.8-12l4.3-5.8l4.2-1.4l4.3-2.8l4.2 .6l4.3-.3l4.2 1.7l3.4-.5l3.4 .9l5.1-1.3l2.6-1.6l4.2-4.8l3.4-1.1l3.5-2.8l2.5-.4l3.4-3l6-3.2l13.6-4.8l2.5-.1l4.3 1.7l5.9 4.7l3.4 0l6.8-1.9l1.7-1.1l16.2-17.4l13.6-22.9l4.3-11.6l2.5-11.1l3.4-20.2l3.4-27.2l9.4-115.5l2.5-23.8l4.3-29l5.1-28.8l5.1-20.6l5.1-12.3l1.7-2.8l2.5-2.7l5.1-2.3l6.8 .6l2.6 1.6l3.4 .4l3.4 2.2l3.4 .8l3.4 2.3l3.4 1.1l4.2 3.3l9.4 4.1l6.8 1l5.1 3.7l3.4 .2l6.8 3.4l6 .6l4.2 3.3l6 1l3.4 1.6l5.9 .9l5.1-1.2l4.3 1.1l3.4 .2l4.2 1.7l5.1 .1l2.6 1.2l1.7-.2l2.5-1.4l3.5 1.4l3.4-2l5.9-.8l3.4-1.1l6.8-4l6.8-.1l4.3-2.1l11 .2l11.9-5l2.6-1.9l1.7-2.2l4.2-19.2l.9-1.7l5.9-3.6l5.1-4.6l.9-.3l1.7 .6l8.5 9.7l1.7 .4l4.3-1l2.5-2l13.6-17.2l6.8-4.3l6.8-5.6l6-2.7l5.1-5.4l6.8-3l3.4-2.5l4.2-.8l5.1-3.6l7.7-2.1l4.2-3.2l7.7-8l6.8-1.5l6.8-3.7l4.3-1.5l5.9-.9l1.7 .3l4.3 3.5l3.4 1.5l6.8 8l4.2 .8l6.8 2.5l6-1.3l8.5 .3l3.4-.7l5.9-.1l4.3-1.7l6-.1l3.4-1.4l7.6-4.6l4.3 .2l8.5-3.6l2.5-.5l2.6-1.5l5.9-.4l3.4 .3l2.6-.9l3.4 .1l2.5-.8l2.6 .1l2.5-.6l5.1 2l3.4 .3l6.8 2.3l4.3-.4l11.9 4.2l9.4 7.5l5.9 8.8l4.3 3.7l6.8 9.3l3.4 3.6l5.9 9.3l16.2 22.1l9.3 14.5l4.3 9l1.7 8.9l5.1 46.6l5.1 36l3.4 15.1l7.7 28.4l7.6 19l7.7 14.1l5.9 7.7l.9 .6l3.4 .1l4.2 2.9l5.1 1.5l3.4 .2l3.4 1.5l3.4-1.1l3.4 .1l4.3-1.2l5.1-3.4l4.2-4.3l6-4.6l11.9-16.3l7.7-12.6l7.6-14.5l5.1-6.4l5.1-8.6l4.3-5l13.6-21.2l11.9-13.3l4.2-6.5l13.6-13.6l1.7-1.3l4.3-1.6l3.4-3.4l3.4-1.7l3.4-3.1l7.7-2.8l5.9-4.3l6-.2l5.1-3.5l2.5-1l6.8 .9l5.1-1.3l5.1 .2l9.4-2.7l3.4 1.7l4.2-.6l3.4 1.5l7.7-1.2l6.8 1.9l4.3 1.8l4.2-.1l11.1 4.3l4.2 3.2l2.6 1.2l5.1 4.6l5.1 2.2l13.6 15l5.1 2.6l5.1 4.9l5.1 3.2l1.7 .4l5.1-.4l8.5-2l10.2 .2l11.1-1.3l12.7 5.2l7.7 5.2l3.4 4.2l1.7 3.2l5.9 12.9l6 15.9l8.5 24.4l10.2 35.6l9.3 26.6l1.7 6.2l.9 5.6l3.4 36.1l.9 4.4l.8 1.8l1.7-1.7l1.7-4.5l2.6-.6l2.5 1.2l5.1-11.3l.9-.8l5.1 6.5l5.9-10.5l5.1 6.3l6-10l5.1 8l.8 .1l5.1-10l.9 0l1.7 1.6l3.4 4.5l5.1-9.8l.8-.6l5.1 5.1l.9-.9l5.1-11.2l2.5 2.6l3.4 2.4l5.1-11l.9-.5l5.1 5.5l6-13.3l5.9 6.9l5.1-12.7l.9-.9l5.1 5.8l.8-.5l5.1-12.1l.9-.2l5.1 5.1l5.9-15.2l2.6 2.7l3.4 1.5l5.9-13l3.4 3l2.6 3.2l5.9-16l6 6.4l5.9-13.9l6 9.1l6-13.8l5.9 9.6l6-13.7l.8 .4l5.1 8.4l.9-.2l5.9-13.3l6 9.6l5.9-14.1l6 10l.8-.2l2.6-5l3.4-9l2.5 4.9l3.4 9l6-15l.8 .3l6 14.8l5.9-13.4l.9 .2l6 16.3l5.9-13.1l.9-.3l5.9 15.9l.9-.4l.8-1.7l5.1-11.3l6.8 20.7l6-12.9l.8-.4l4.3 14.4l1.7 5l.8 .7l6-14.8l.8-.1l6 22.8l.8 1l6-16.2l.8-.6l3.4 13.3l3.4 10.7l6.8-17.7l6.8 27.1l.9-1l6-18.8l.8 0l6.8 30.3l6.8-24.8l6.8 32.1l.9 1.4l6.8-29.4l6.8 38l.8 .6l6.8-35.2l6.8 43.9l.9 1.4l6.8-40l7.6 47.5l6.8-43.9l.9 1.5l6.8 51.2l7.7-50.7l6.8 55.2l.8 1.7l6.8-55l.9 2.2l6.8 60.8l7.6-63.6l7.7 69.7l7.6-67.9l6.8 65.5l.9 4.2l6.8-66.1l.8-3.1l6.8 70.1l.9 2.6l6.8-73l.9-2.2" stroke="#ff5b65"/>
<path d="M176.0 1228.1l4.2 3.1l5.1 5l5.1 3.9l3.4 1.7l3.4 2.9l1.7 .8l3.4 .2l3.4 1.8l1.7-.6l8.5-10.7l5.2-5l3.4-1.1l7.6-5.7l4.3-.6l4.2-3.7l2.6-1.3l1.7-1.9l2.5-25.7l2.6 21.5l.8-.1l4.3-2l6.8-6.3l3.4-1.1l5.9-4l4.3-1l8.5-5.8l4.2-.5l3.4-2.7l11.1-5.6l6-4.9l3.4-3.9l5.9-8.6l8.5-16.7l6.8-15l6.8-12l3.4-4.9l1.7-1.5l3.4-1.4l3.4-2.6l1.7-.5l7.7 .2l4.2 2l3.4-1.3l4.3 .3l3.4-1l2.5-1.6l4.3-4.8l4.2-1.5l3.5-2.5l2.5-.9l3.4-3.1l12.8-5.5l8.5-2.4l1.7-.1l3.4 1.7l6.8 5.2l8.5-1.2l2.5-1.7l7.7-9.6l7.6-6.8l5.1-7.6l9.4-16.3l4.3-11.5l3.4-14.4l3.4-19.3l2.5-19.3l8.5-102.5l3.4-31.7l3.4-23.1l5.1-29.2l5.1-21.5l2.6-7.5l3.4-7l1.7-2.8l1.7-1.6l3.4-2.5l2.5-1.2l6 .6l3.4 1.8l3.4 .5l6.8 2.7l3.4 2.3l3.4 1l4.2 3.5l9.4 3.7l6.8 1.2l4.3 3.8l5.1 .4l5.9 3.6l5.1 .2l4.3 3l5.9 .8l4.3 1.9l5.1 1.1l4.2-.9l7.7 1l5.9 1.7l6.8 1l1.7-.1l3.4-1.6l3.5 1.5l3.4-2.2l5.9-.5l6.8-2.3l3.4-2.1l6.8-1.3l4.3-1.8l11-.5l11.9-4.7l1.7-1.2l2.6-3.3l4.2-19.7l.9-1.7l11-7.5l1.7-.2l1.7 1.1l6.9 7.8l1.7 1.3l4.2-.2l1.7-.6l14.5-18.5l8.5-5.4l4.2-3.8l4.3-2.4l3.4-1.1l5.1-5.8l4.2-1.5l6-4.1l2.5-.1l1.7-.6l5.1-3.8l3.4-.3l2.6-1.1l6.8-4.7l6.8-7.3l4.3-1.7l2.5-.4l6.8-3.7l9.4-2.7l3.4 .7l3.4 2.8l3.4 1.6l3.4 4.8l2.5 1.9l2.6 1.1l3.4 .5l5.9 1.8l3.4-.2l7.7-1.8l4.2 1.4l4.3-1.2l5.1 .7l3.4-2.1l5.1-.4l6.8-2.9l4.3-2.7l5.1-.6l13.6-5.7l5.9-.6l3.4 .7l8.5-1.8l2.6 .5l3.4-.4l4.2 1.7l3.4 .3l6.8 2.1l3.4-.4l6 1.5l7.7 3.2l8.5 6.6l5.9 8.4l5.1 4.6l6 8.4l5.1 5.1l5.1 8.3l15.3 19.3l10.2 15.2l2.5 5.3l1.7 5.6l.9 5.2l5.1 44.9l5.1 34.8l3.4 14.7l7.7 26.5l2.5 7.4l5.1 10.9l7.7 14.7l2.5 3.6l3.4 3.4l.9 .5l3.4-.1l2.5 2.1l6 1.7l4.2 .6l3.4 1.6l11.9-3.2l4.3-2.6l5.1-5l3.4-1.5l1.7-1.5l17-24.3l10.2-18.3l5.1-5.7l5.1-8.7l5.1-5.8l12.8-19.7l11.9-13l4.2-6l3.4-2.2l3.4-4.2l6.8-6.6l6.8-4.2l3.4-3l2.6-.9l3.4-3.2l3.4-.6l3.4-1.5l6.8-4.8l6 .3l7.6-4.7l6.8 1l5.1-1.6l6 .2l7.6-2.5l4.3 1.6l4.2-.1l3.4 1.3l3.4-1.1l4.3-.4l5.9 2.1l9.4 1.1l2.6 1.4l5.9 1.7l3.4 1.8l2.6 2.2l3.4 .6l5.9 6.2l4.3 1.2l11 13.3l3.4 2.6l4.3 2l10.2 7.7l6.8-.2l5.1-2.1l11.9 .8l12.8-1.9l5.9 2.3l3.4 2.1l4.3 .8l5.9 4.1l3.4 3.5l9.4 18.7l11 29.4l3.4 10l9.4 32.1l10.2 27.8l1.7 8.1l3.4 35.6l.9 4.6l.8 1.7l1.7-1.8l1.7-4.6l2.6-.5l2.5 1.8l5.1-11.1l.9-.9l5.1 5.8l5.9-9.9l5.1 5.1l.9-.5l5.1-9.2l5.1 8.1l.8 .5l5.1-9.7l.9-.2l1.7 1.3l3.4 4.4l4.2-8.5l1.7-1.8l5.1 5.4l.9-.9l5.1-11.8l5.1 5.9l.8 .3l5.1-12l.9-.5l5.1 5.5l6-12.3l5.9 6.3l5.1-13.2l.9-1l5.1 6.2l.8-.7l5.1-11.8l.9-.3l5.1 4.7l5.9-14.7l3.4 3.2l2.6 1.3l5.9-12.9l3.4 2.7l2.6 3.4l5.9-15.6l6 6.8l5.9-13.8l6 8.5l6-13.2l5.9 9.9l6-14l.8 .5l5.1 8.3l.9-.1l5.9-12.6l6 9.2l5.9-14l6 9.7l.8-.3l1.7-3.1l4.3-10.1l3.4 6.8l2.5 7.3l6-15.1l.8 .2l6 14.8l5.9-13.4l.9 .4l6 15.3l5.9-12.6l.9-.5l5.9 16.8l.9-.5l5.9-13.2l6.8 21.3l6-14.1l.8-.6l6 19.5l.8 .9l6-14.9l.8 .1l6 22.7l.8 1l6-16.3l.8-.6l6.8 23.8l3.4-7.6l3.4-9.8l6.8 26.7l.9-1.1l6-19l.8-.1l6.8 30l6.8-25l6.8 31.5l.9 1.5l3.4-13.1l3.4-16.2l6.8 38.3l.8 .5l6.8-34.8l6.8 42.9l.9 1.2l6.8-40.1l7.6 47.7l6.8-44.8l.9 1.4l6.8 52l7.7-51.7l6.8 56.1l.8 1.7l6.8-55.1l.9 2.3l6.8 60l7.6-63.9l7.7 70.4l7.6-67.9l6.8 65.9l.9 4.3l6.8-67.2l.8-2.9l6.8 70.2l.9 2.7l6.8-73.5l.9-2" stroke="#ff4752"/>
<path d="M176.0 1225.8l4.2 3.3l5.1 5.8l2.6 1.2l9.3 6.9l4.3 .9l3.4 1.7l1.7 0l1.7-1.3l3.4-5l9.4-10.4l7.6-3.9l4.3-3.1l4.2-1.4l6.8-4.3l.9-1.4l2.5-26.4l2.6 21.6l.8-.1l3.4-1.6l7.7-6.9l10.2-5.5l3.4-.2l6.8-5.4l1.7-.7l3.4-.1l3.4-2.9l5.9-3.8l6-2.3l4.3-2.9l5.9-7.3l5.1-7.6l4.3-8.5l3.4-5.5l6.8-15.2l4.2-7.8l4.3-7l4.2-5l3.4-1.6l3.4-2.8l1.7-.6l3.4 .3l3.4-1l5.1 1.6l4.3-1.6l2.5 .8l1.7-.2l4.3-2.8l5.1-4.5l4.2-2l3.5-3.1l3.4-.7l3.4-3l11.9-5.3l5.9-2l2.6-.3l2.5 .4l8.5 5.6l5.1 .3l4.3-1l2.5-1.4l8.5-10.7l6-4.8l14.4-22.6l5.2-12.4l2.5-9.6l4.3-22.1l2.5-17.9l9.4-106.4l2.5-22.5l3.4-22.5l5.1-28.7l4.3-18l2.5-7.6l4.3-9.3l3.4-4.7l3.4-2l2.5-.6l6.8 .2l3.4 1.6l2.6 .2l9.3 5.4l4.3 1l4.2 4.1l9.4 3.1l5.1 .3l6 4.6l1.7 .5l3.4-.4l6.8 3.9l5.1 .3l4.2 3.6l10.2 1.9l4.3 1.5l5.9-1l6.8 1.7l10.2 1.2l2.6 .8l4.2-1.5l3.5 1.4l2.5-1.9l6-.9l5.9-2.3l5.1-2.7l7.7-1.4l3.4-1.8l4.2 .5l6-.2l11-4.9l3.4-2.3l2.6-3.3l4.2-19.4l.9-1.8l8.5-6.6l2.5-1.4l2.6 .6l7.7 8.8l1.7 1.1l2.5 0l2.6-1l2.5-2.3l13.6-17.1l6.8-3.9l8.5-7.1l5.1-1.9l4.3-5.3l5.9-2.1l4.3-3.3l4.2-.4l6-4.6l3.4-.3l2.5-.9l5.1-4.1l5.1-6l2.6-2.1l6.8-1.3l6.8-4.3l11.1-2.8l1.7 .2l3.4 2.8l3.4 1.4l4.2 5.1l2.6 2l1.7 .5l2.5-.1l3.4 2.1l2.6 .7l6.8-2.4l4.2-.7l4.3 .6l4.2-.9l6 .3l4.2-2.3l3.5 0l5.1-1.4l6.8-4.3l5.1-.3l4.2-1.2l4.3-2.6l4.2-1.3l3.4 .1l3.4-.9l3.4 .7l8.5-1.9l6-.1l4.2 1.6l3.4 0l6.8 1.9l3.4-.7l12.8 4.9l7.7 5.3l7.6 9.7l4.3 3.3l6.8 8.8l5.1 4.9l4.2 7l3.4 3.8l4.3 6.5l5.1 5.7l5.9 8.7l6 7.3l4.2 7.1l1.7 4.8l.9 5.1l5.1 44.7l4.2 28.7l4.3 18.2l9.4 31l7.6 15.8l6.8 11.3l3.4 4.2l2.6 1.7l3.4 .2l3.4 2.6l9.3 2.1l2.6 1.2l1.7-.1l2.5-1.6l6.8-.5l5.1-2.2l6-5.8l5.1-3.4l3.4-3.6l14.5-20.3l9.3-17.1l6-6.8l15.3-21.4l6.8-10.6l5.9-5.9l10.2-12.1l15.3-14.3l2.6-1.7l2.5-.9l3.4-3.2l2.6-1.1l3.4-2.8l8.5-3.2l6-3.6l5.1 .4l6.8-4.8l9.3 .6l6-1.6l3.4 .5l8.5-2.4l3.4 1.5l4.2-.2l3.4 1.4l3.4-1.3l3.4-.1l9.4 2.1l3.4 1.4l3.4-.4l6 2.6l4.2 1.1l5.1 3.9l3.4 1.6l5.1 4.4l4.3 1.3l13.6 14.8l6.8 3.8l8.5 6.7l3.4-.8l3.4 .5l5.1-2.1l13.6 .4l3.4-.8l8.5 .1l5.1 1.6l3.4 1.8l4.3 .6l5.9 4l2.6 2.5l2.5 3.5l8.5 17.4l9.4 23.3l13.6 43.4l10.2 26.7l1.7 7.8l3.4 35.1l.9 4.8l.8 1.8l1.7-2.3l1.7-4.9l2.6-.2l2.5 1.4l5.1-10.7l.9-.9l5.1 5.9l5.9-9.7l5.1 5.7l.9-.7l5.1-9.9l5.1 7.9l.8 .5l5.1-10.1l.9-.1l1.7 1.4l3.4 4.7l4.2-8.5l.9-1.4l.8-.4l1.7 2.3l3.4 2.9l6-12.4l5.1 5.8l.8 .3l5.1-11.7l.9-.5l5.1 5.5l6-13l5.9 7l5.1-12.6l.9-1l5.1 5.6l.8-.7l5.1-12.3l.9-.2l5.1 5.3l5.9-15.4l2.6 3.1l3.4 1.3l5.9-12.6l3.4 2.9l2.6 3.3l5.9-16.3l6 7.5l5.9-13.7l6 9l6-13l5.9 9.7l6-13.5l.8 .4l2.6 3.6l2.5 4.6l.9-.1l5.1-11.4l.8-1l6 9.6l5.9-14.6l6 11l.8-.3l6-14.3l3.4 7.2l2.5 7.4l6-15.5l.8 .3l6 14.9l5.9-13.5l.9 .2l6 15.9l5.9-12.9l.9-.4l5.9 16.6l.9-.4l5.9-13.3l6.8 21l6-13.4l.8-.6l6 19.6l.8 .9l6-15.3l.8 .1l4.3 16.8l1.7 5.6l.8 .8l6-16.2l.8-.9l6.8 24.4l3.4-8.1l3.4-10.3l6.8 27.4l.9-1l6-19.8l.8-.2l6.8 30.3l6.8-25.4l6.8 32l.9 1.3l6.8-29.4l6.8 37.6l.8 .7l6.8-35.2l6.8 43.2l.9 1.4l6.8-40.9l7.6 47.6l6.8-45l.9 1.3l6.8 52l7.7-52.1l6.8 56.2l.8 1.7l6.8-55.4l.9 2.4l6.8 60.4l7.6-64.2l7.7 70.6l7.6-68l6.8 65.4l.9 4.1l6.8-66.9l.8-3.1l6.8 70.6l.9 2.8l6.8-74.1l.9-2.1" stroke="#ff3440"/>
<path d="M176.0 1224.4l14.4 12.9l3.4 1.7l3.4 2.7l1.7 .5l3.4-.5l2.6 2l1.7 .3l1.7-1.4l8.5-11.2l4.3-4.2l4.2-2.1l7.7-5.7l5.1-1.4l5.9-4.7l.9-1.5l2.5-26.2l2.6 22.2l.8-.1l3.4-1.2l7.7-7.4l3.4-1.1l5.1-3.6l7.6-3.4l5.1-3.5l4.3-.8l9.3-6.7l5.1-2.2l6-4.4l5.1-6l5.1-7.6l4.3-8.7l3.4-5.5l11-22.7l6-9.7l2.5-2.5l3.4-1.4l4.3-3.5l3.4 .2l4.2-1.4l5.1 .8l3.4-2l4.3 1l6.8-4.2l4.2-4.5l3.4-1.3l3.5-3.1l3.4-.6l4.2-3.7l4.3-2.1l10.2-3l3.4-1.8l3.4 0l1.7 .7l5.1 4.4l2.5 1.5l6.8 0l5.1-2.7l7.7-9.8l7.6-6.7l14.5-23l5.1-12.4l2.6-10.2l3.4-16.6l2.5-16.7l9.4-102.3l2.5-21.6l4.3-26.7l4.2-22.6l4.3-17.7l5.1-13.7l2.5-4.7l2.6-2.7l5.9-3.1l6.8 .8l3.4 1.5l2.6 0l5.9 2.8l4.3 2.8l3.4 .8l4.2 4l9.4 3.5l3.4-.3l2.6 .5l5.9 4.3l4.3 .7l5.9 3.6l5.1 .1l4.3 3.4l6.8 1.4l3.4 2l6.8 .2l3.4-.5l5.1 1.4l11 .7l4.3 1.1l4.2-.9l2.6 1.5l.9-.2l2.5-2.4l6.8-1.1l3.4-2l4.3-1.1l3.4-1.8l5.9-1.2l3.4-1.8l11.9-.5l12.8-6.9l3.4-3.5l.8-2.4l2.6-13.9l1.7-5.7l8.5-6.2l2.5-1.4l1.7 .2l1.7 1.2l7.7 9l1.7 .7l3.4-1l3.4-2.4l13.6-17.5l6-3.2l4.2-4l6-4.2l3.4-1.3l5.9-5.9l4.3-1.3l5.1-3.5l3.4-.6l5.1-4l7.6-1.9l4.3-3.5l7.7-8.2l1.7-1.1l5.9-1.8l5.1-2.9l5.1-1l6.8-3.2l2.6 .5l3.4 3.4l3.4 1.1l4.2 4.6l2.6 1.6l5.1 .9l5.1 1.7l2.5-.3l3.4-1.5l6-1.4l4.2 .8l4.3-1.3l4.2 .2l4.3-2.4l5.1-.2l6.8-2.5l5.1-3.3l5.1-.1l6.8-3.4l3.4-.1l2.6-1.8l9.3 .3l2.6-1.1l3.4-.1l2.5-.9l5.1 .1l5.1 1.9l7.7 .8l2.5 .7l3.4-.4l6.8 2l6.9 2.5l7.6 6.3l7.7 8.8l4.2 3.3l6.8 8.8l4.3 3.7l4.2 7.1l4.3 4.3l4.2 6.4l7.7 8.3l3.4 4.8l5.1 5.8l5.1 8.2l1.7 8l5.1 43.2l4.2 28l4.3 17.4l8.5 27.7l8.5 17.3l6.8 11.2l4.3 4.5l1.7 1.3l3.4 0l3.4 2.3l9.3 1.9l3.4 1.3l4.3-1.5l7.6-.7l3.4-2l5.1-4.7l6-4l17-22.5l10.2-18l6-5.6l4.2-7.3l6.8-8l11.1-16.5l5.9-5.1l6-6.2l4.2-5.7l3.4-2.8l10.2-10.1l3.4-2.4l3.4-1.4l3.4-3.7l2.6-.5l3.4-2.6l3.4-.8l5.1-2.4l5.1-3.5l6 0l7.6-4.5l6.8 1.1l6.8-2.1l4.3 .3l5.1-.7l3.4-1.1l4.2 1.3l3.4 0l2.6 1l4.2-1.6l4.3 .2l10.2 3.3l5.1 .2l11.1 3.6l4.2 3.3l3.4 1.1l4.3 4.4l5.1 1.5l9.3 10.7l5.1 4.7l5.1 2.5l9.4 6.9l7.6-.4l6-2.3l11.9 1.6l4.3-1.3l7.6-.8l8.5 3.5l3.4 .8l7.7 4.9l4.2 4.9l4.3 7.8l5.1 10.4l8.5 20.3l4.2 11.2l9.4 30.9l10.2 25.3l1.7 7.9l3.4 34.7l.9 4.6l.8 1.7l1.7-1.9l1.7-4.4l2.6-.3l2.5 1.3l5.1-11l.9-.9l5.1 5.8l5.9-10.2l5.1 5.6l.9-.8l5.1-9.4l5.1 7.6l.8 .4l5.1-10l.9 0l.8 1l4.3 5.7l4.2-8.8l1.7-2l5.1 5.6l.9-.9l5.1-11.7l5.1 5.2l.8 .2l5.1-11.7l.9-.4l5.1 5.8l6-13.1l5.9 7.1l5.1-13.3l.9-1l5.1 5.9l.8-.6l5.1-11.4l.9-.2l5.1 5l5.9-14.7l2.6 2.8l3.4 1.7l5.9-12.9l3.4 3l2.6 3.1l5.9-15.5l6 6.6l5.9-13.3l6 9.4l6-13l5.9 9.8l6-14.3l.8 .4l5.1 8.6l.9 0l5.9-12.2l6 10.1l5.9-14.2l6 10.4l.8-.3l1.7-3.2l4.3-11l3.4 7l2.5 7.4l6-15l.8 .1l6 15.7l5.9-14.1l.9 .2l6 16l5.9-13.2l.9-.6l5.9 17.1l.9-.4l.8-1.7l5.1-11.7l6.8 21l6-13.5l.8-.5l3.4 12l2.6 7.5l.8 .8l6-15.6l.8-.1l5.1 20l.9 3l.8 .8l6-16.9l.8-.7l3.4 13.2l3.4 10.6l6.8-17.7l6.8 26.4l.9-1.2l6-18.7l.8-.1l6.8 29.6l6.8-25.3l6.8 31.4l.9 1.4l3.4-13.1l3.4-16.6l6.8 37.6l.8 .5l6.8-36.1l6.8 43.7l.9 1.3l6.8-40.9l7.6 47.2l6.8-45l.9 1.4l6.8 52.7l7.7-52.8l6.8 56.3l.8 1.6l6.8-55.8l.9 2.4l6.8 61.3l7.6-64.8l7.7 70l7.6-68.9l6.8 66.5l.9 4.2l6.8-67.6l.8-3.1l6.8 71.1l.9 2.9l6.8-74l.9-2" stroke="#ff212f"/>
<path d="M176.0 1223.7l9.3 8.3l2.6 1.2l2.5 2.4l4.3 2.2l3.4 2.8l4.2 .4l3.4 1.2l1.7-.4l9.4-11.9l3.4-3.3l3.4-1.8l3.4-2.9l2.6-1.1l3.4-3.1l5.1-1l5.9-4.9l.9-1.4l2.5-26.9l2.6 22.7l.8 .1l3.4-1.7l7.7-7.4l9.3-5.3l4.3-1.3l7.6-5.3l5.1-.8l5.1-3.6l3.4-3.3l5.1-2.2l6-5l4.3-4.8l5.9-8.7l20.4-39.1l6.8-9l3.4-1.5l5.1-4.1l3.4-.1l4.3-1.4l4.2 .6l3.4-1.9l3.4 .4l1.7-.5l5.1-3.1l5.1-5.6l3.4-.8l3.5-2.8l3.4-1.3l2.5-2.4l5.1-2.8l5.1-1.4l3.4-2l2.6-.2l3.4-1.3l3.4 .1l7.6 5.8l1.7 .7l9.4-1.8l2.5-1.5l3.4-3.3l6-7.8l5.9-4.9l14.5-22.7l5.1-11.4l2.6-9.7l4.2-20.8l2.6-17.8l9.3-99l6-40l4.2-22.2l4.3-16.9l4.2-11.4l2.6-5.2l2.5-3.1l5.1-3.1l2.6-.8l5.1 .6l3.4 1.7l3.4-.3l3.4 2.5l3.4 1l2.5 1.9l4.3 1.1l4.2 3.6l9.4 3.8l6 .7l5.9 4.6l3.4 .7l6.8 2.8l6 .3l3.4 3.1l1.7 .9l4.2 .7l3.4 1.4l6.8 1.1l5.1-.9l19.6 3.3l4.2-1.4l3.5 1.1l3.4-2.3l5.1-.2l4.2-2.6l3.4-.9l4.3-2.2l5.9-.5l4.3-2.2l9.3-.7l11.1-4.9l4.2-3l2.6-3.1l4.2-20.2l.9-1.9l9.3-6.8l2.6-1l2.5 1.3l6.9 8.8l1.7 1.3l5.1-1.5l2.5-2.2l13.6-17.2l4.3-2.4l5.9-5.2l6-3.6l3.4-.8l5.1-5.6l5.1-1.9l5.1-4.2l3.4-.6l6.8-4.2l6.8-2l3.4-2.5l6.8-8.1l2.6-2.2l5.9-1.2l6.8-4.4l9.4-2.9l3.4 .5l3.4 2.7l3.4 1l4.2 4.6l2.6 1.5l4.2 0l6.8 1.3l10.2-2.1l5.1 .5l4.3-1.2l4.2 .2l4.3-2.6l5.1 .1l11.9-6.3l3.4 .5l1.7-.4l6.8-3.8l3.4-.5l2.6-1.6l9.3 .9l5.1-1.1l3.4-1.8l6 .7l4.2 2.4l3.4-.4l4.3 .5l2.5 1l3.4-.7l1.7 .3l6.8 2.9l4.3 .9l7.7 5.4l3.4 3.5l4.2 5.7l4.3 3.1l7.6 9l4.3 3.7l5.1 7.9l6.8 8.2l4.2 4l6.8 9.1l7.7 8.6l2.5 4l1.7 4.5l.9 4.8l5.1 42l4.2 26.2l4.3 17.3l8.5 27.3l6.8 12.9l7.7 13.2l2.5 3.4l4.3 3.3l3.4 .4l2.5 1.7l9.4 1.7l4.2 1.7l4.3-1.7l5.9-.3l1.7-.6l4.3-2.6l4.2-4.6l5.1-2.1l1.7-1.6l10.2-12.8l6-8.4l11.1-17.9l4.2-4.7l6-8.7l3.4-3.3l5.1-7.4l4.2-4.7l4.3-6.9l5.9-5.3l3.4-4.4l2.6-1.8l4.2-5.8l9.4-7.9l5.1-5.5l5.9-3.1l3.4-3l2.6-1l2.6-2.1l5.1-.8l10.2-6.8l4.2 1.1l7.7-4.2l7.6 .7l6.8-1.5l2.6 .3l3.4-.5l6.8-2.1l4.2 2l3.4-.5l3.4 .6l3.4-1.1l5.1 .3l8.6 2.3l5.9 .3l2.6 1.3l5.9 1.8l6 3.5l3.4 .9l5.9 5.4l4.3 1.7l12.7 13.9l1.7 1.2l4.3 1.7l4.2 3.5l5.1 3.2l2.6 .2l11.9-2l11.9 .5l4.3-.8l3.4 .3l4.2-.6l3.4 1.7l2.6 .5l3.4 2.1l3.4 .7l5.1 2.8l5.1 4l10.2 18.8l10.2 24.4l12.7 38.8l6 12.7l3.4 9l1.7 7.7l3.4 34.4l.9 4.7l.8 1.9l1.7-2l1.7-4.6l2.6-.1l2.5 1.4l5.1-11.5l.9-.8l5.1 6.9l5.9-10.3l5.1 5.2l.9-.7l5.1-10l5.1 8l.8 .4l5.1-10.2l.9-.1l1.7 1.5l3.4 4.7l5.1-9.2l.8-.6l5.1 4.7l.9-.8l5.1-11.3l5.1 5.8l.8 .4l5.1-12.2l.9-.5l5.1 5.7l6-13.2l1.7 1.4l4.2 5.5l5.1-13.2l.9-1l5.1 6.2l.8-.6l5.1-12l.9-.2l5.1 5.3l5.9-14.9l2.6 2.7l3.4 1.7l5.9-12.6l6 6.3l5.9-15.8l6 7.2l5.9-13.8l6 10l6-13.4l5.9 10.5l6-14.1l.8 .5l5.1 9.1l.9-.2l5.9-12.7l6 9.8l5.9-14.2l6 10.8l.8-.4l1.7-3.1l4.3-10.9l3.4 6.7l2.5 7.5l6-15.2l.8 .2l6 15.2l5.9-13.1l.9 .4l6 16l5.9-13l.9-.6l5.9 16.9l.9-.4l5.9-13.7l6.8 21.5l6-14.2l.8-.4l3.4 12.4l2.6 7.5l.8 .8l6-15.8l.8-.1l6 22.8l.8 1l6-16.6l.8-.9l3.4 12.9l3.4 10.2l4.3-9.8l2.5-7.8l6.8 26.2l.9-1.1l6-19.4l.8-.2l6.8 30.3l6.8-26.1l6.8 31.5l.9 1.4l6.8-30.4l6.8 38.2l.8 .6l6.8-36l6.8 43.6l.9 1.3l6.8-41.6l7.6 48l6.8-45.8l.9 1.3l6.8 52.2l7.7-53.1l6.8 56.6l.8 1.7l6.8-55.4l.9 2.3l6.8 61.1l7.6-65.2l7.7 70.4l7.6-69.2l6.8 66.9l.9 4.4l6.8-67.8l.8-3.1l6.8 70.9l.9 2.8l6.8-74.1l.9-2.2" stroke="#ff1522"/>
<path d="M176.0 1222.5l4.2 3l5.1 4.7l5.1 3.5l3.4 1.5l3.4 2.7l4.3 1.2l3.4 2.1l1.7-.3l11-14.1l14.5-10.9l6-2l5.1-4.1l1.7-2l2.5-26.9l2.6 22.5l5.1-2.1l6.8-7.1l2.5-.9l6-4.1l5.1-1.5l7.6-5.8l1.7-.3l2.6 .5l.8-.4l8.5-7.4l4.3-1.5l2.6-1.9l8.5-9.6l5.9-8.6l9.4-17l5.9-12.4l6-9.9l5.1-6.8l7.6-6.1l4.3-.7l4.2-2l5.1-.3l3.4-1.7l4.3-.5l5.9-4.1l5.1-5.2l3.4-.9l3.5-2.7l2.5-.6l3.4-3.2l6-3l13.6-4.4l2.5-.2l1.7 .6l3.4 2.1l3.4 3.3l1.7 .8l2.6 .2l7.6-1.7l6-6.6l4.2-5.8l6-4.7l14.4-21.3l5.2-9.9l2.5-7.7l3.4-13.8l4.3-24.7l9.3-93.1l6-39.3l5.1-24.9l4.2-15.8l2.6-6.4l3.4-6.4l3.4-4.2l8.5-2.2l4.2 .4l6 1.7l3.4 2l3.4 .9l3.4 2.3l3.4 1.1l8.5 5.4l6 1.8l5.9 .6l5.1 4.3l2.6 .4l8.5 3.2l5.1 1.1l3.4 2.2l9.3 3.5l6 .8l4.2-.9l3.4 .3l17.9 3l4.2-1l2.6 1l.9-.2l3.4-2.3l5.1-.6l6.8-2.7l3.4-2.5l5.1-.7l5.9-2.7l3.4 .4l3.4-1l5.1-.3l11.1-6.2l2.5-2l2.6-3.3l4.2-21.3l.9-2l1.7-1.3l6.8-3.7l2.5-1.2l1.7 0l1.7 1.3l3.4 4.7l4.3 4.6l1.7 .6l3.4-1l2.6-2l5.1-6l9.3-12.3l6.8-3.4l3.4-3.7l4.3-2.9l5.1-2.3l5.1-5.6l3.4-.7l6.8-4.6l4.2-1.3l6-3.9l6.8-2.4l12.8-12.9l5.9-1.2l6-4.2l5.1-2.3l5.1-1.2l3.4 .4l3.4 2.5l3.4 .3l3.4 3.4l3.4 2.1l9.3 2l11.9-3.2l5.1 .4l4.3-1.3l5.1-.7l4.2-2.1l5.2-.2l5.1-1.6l5.1-3.7l5.1-.2l8.5-4l2.5 0l2.6-1.6l9.3 .1l8.5-2.3l2.6 .8l3.4-.3l4.2 1.7l10.2 1.6l2.6-.5l1.7 .1l9.3 3.5l3.5 .7l8.5 6.2l5.9 7.3l4.3 2.9l6.8 8.2l5.1 4.5l5.1 7l2.5 2l4.3 5.6l17 17.9l5.1 7l1.7 7.8l5.1 41.3l4.2 24.8l4.3 16l8.5 25.2l6.8 13.5l4.3 5.4l3.4 6.1l2.5 3.3l4.3 3.6l3.4-.5l7.6 3.5l5.1 0l4.3 1.5l9.3-1.6l5.1-2.3l6-5.3l5.1-2.7l11-12.7l3.5-5.4l5.9-7.8l7.7-12.5l4.2-4.2l5.1-7.6l4.3-4.4l12.7-17l9.4-9.1l3.4-2.5l4.2-6.2l9.4-7.4l5.1-5.8l1.7-1l4.2-1.1l3.4-3.4l2.6-.6l3.4-2.8l4.3-.9l9.3-5.7l6 0l7.6-3.9l5.1 .9l5.1-.3l3.4-.9l5.1-.3l6.8-1.9l5.1 1.3l3.4-.2l3.4 1l3.4-1.1l5.1-.2l5.1 2l5.2 .7l3.4-.2l3.4 1.8l8.5 2.5l4.2 2.9l2.6 .8l5.1 4.5l5.1 1.4l14.4 15.2l5.1 2.3l9.4 7l5.9-.5l6.8-2.1l3.4 .7l7.7 .1l5.1-1.2l3.4 .5l5.1-.5l12.8 4.3l5.1 2.5l5.1 3.3l9.3 16.6l9.4 19.9l4.2 11.2l10.2 30.9l9.4 20.2l1.7 7.3l3.4 33.7l.9 4.8l.8 1.9l1.7-1.7l1.7-4.4l2.6-.6l2.5 1.6l5.1-11.8l.9-1l5.1 6.7l5.9-10.3l5.1 6.2l.9-.7l5.1-10.2l5.1 7.9l.8 .4l5.1-10.1l.9 0l1.7 1.6l3.4 4.2l5.1-9.5l.8-.6l5.1 5.7l.9-.8l5.1-12.3l4.2 4.7l1.7 .9l5.1-11.7l.9-.4l5.1 5.7l6-12.7l5.9 7l5.1-13.8l.9-1l5.1 6.1l.8-.5l5.1-11.5l.9-.1l5.1 5l5.9-14.6l3.4 3.3l2.6 1.2l5.9-13l3.4 3l2.6 3.3l5.9-15.4l6 7.3l5.9-13.8l6 10.3l6-13.2l5.9 10.2l6-13.3l.8 .5l5.1 8.8l.9-.1l5.1-12.3l.8-.9l6 10.7l5.9-14.1l6 11l.8-.2l1.7-3.3l4.3-11.3l2.5 5.3l3.4 9.5l6-15.9l.8 .4l6 15.5l5.9-13.8l.9 .3l6 16.5l5.9-13.4l.9-.5l5.9 17.6l.9-.6l5.9-13.4l6.8 21.6l6-14.8l.8-.6l4.3 14.9l1.7 5l.8 .7l6-15.6l.8-.3l6 22.6l.8 1l6-17.3l.8-.8l6.8 24.4l6.8-18.9l6.8 27l.9-1l6-20.3l.8-.1l6.8 30l6.8-26.3l6.8 31.2l.9 1.5l6.8-30.3l6.8 38.3l.8 .4l6.8-36.9l6.8 43.8l.9 1.3l6.8-41.2l7.6 47.1l6.8-46.1l.9 1.2l6.8 52.6l7.7-52.8l6.8 56.9l.8 1.6l6.8-56.4l.9 2.2l6.8 60.9l7.6-65.1l7.7 70.9l7.6-69.8l6.8 66.7l.9 4.2l6.8-68.2l.8-3.2l6.8 72l.9 2.8l6.8-74.6l.9-2.2" stroke="#ff2221"/>
<path d="M176.0 1220.6l5.1 3.8l4.2 4.7l8.5 4.3l4.3 3.3l3.4 .1l3.4 2.2l1.7 0l10.2-13.8l4.3-4l3.4-1.8l8.5-6.4l4.2-.9l3.4-3.1l3.4-2.1l.9-1.4l2.5-28l2.6 22.9l.8-.1l3.4-1.8l8.5-7.5l3.4-1.4l6-4.1l4.2-1.1l6.8-5.1l5.1-1.4l6-4.7l2.5-2.9l6-2.8l6-5.3l9.3-12.8l7.7-13.4l5.9-12.8l7.7-13.9l5.1-6.4l4.2-2.1l4.3-4.1l3.4-.6l4.2-2.1l6-2l2.5-1.6l4.3-.4l5.9-4l5.1-5.8l3.4-.8l3.5-3l3.4-.5l2.5-2.4l6.8-3.6l11.9-3.9l2.6-.2l5.1 1.9l5.1 4.2l1.7 .7l9.3-1.7l1.7-1.4l8.5-11.8l6.8-5.3l8.5-13.4l5.1-6.7l6-10.3l1.7-4.7l4.3-16.4l2.5-12.5l1.7-12.8l9.4-88.4l5.9-34.8l5.1-23.2l4.3-14.2l1.7-4.2l3.4-5.7l3.4-3.9l5.1-2.5l2.5-.7l4.3 .4l4.2 1.7l3.4 .4l5.1 2.3l4.3 3.1l3.4 .9l4.2 3.6l10.3 4.4l5.9 .4l5.1 4l3.4 .4l4.3 2.4l7.6 1.7l4.3 3.2l5.9 1.2l3.4 1.8l6 .7l4.2-1.4l12.8 2.6l5.1 .2l3.4 1.2l1.7-.3l2.5-1.4l3.5 .9l3.4-2.8l5.1-.3l4.2-2.5l7.7-3.3l5.9-1.2l3.4-1.9l4.3 .4l6.8-1.4l7.6-4.1l6.8-4.4l2.6-3.1l4.2-22l.9-2l1.7-1.2l6.8-4.7l3.4-1l2.5 1.9l7.7 9.6l1.7 .7l4.3-1.4l2.5-2.3l12.8-16.5l7.6-4.7l3.4-3.2l9.4-5.3l5.1-6.1l4.2-.9l5.1-4.1l4.3-.9l5.9-4.4l6.8-1.9l5.1-4.1l6-7.4l2.6-2.4l5.9-1.3l6.8-5l3.4-1.3l3.4-.5l3.4-1.6l2.6 .4l3.4 2.5l3.4 .2l3.4 3.6l2.5 1.7l1.7 .4l4.3-.5l4.2 1.6l1.7-.3l5.1-2.3l5.1-1.2l5.1 .8l3.4-1.7l6-.2l3.4-1.9l5.1-.7l11.9-6.5l4.3 .1l7.6-3.3l3.4-.5l2.6-1.6l8.5 .1l3.4-1.2l3.4 .4l2.5-.8l5.1 .2l5.1 1.8l4.3-.2l5.9 1.4l3.4-.9l12.8 3.9l5.1 3.3l4.3 3.4l6.8 7.2l4.2 3l6.8 7.7l4.3 3.2l5.1 7.3l3.4 2.4l4.2 5.4l17.9 17.6l3.4 4.1l1.7 7.5l5.1 39.1l4.2 23.6l4.3 15.5l7.7 22.2l8.5 15.7l6.8 10.2l5.1 5.6l1.7 1l3.4-.7l3.4 2.2l11.9 2.6l5.1-1.2l7.6-.5l8.5-6.3l6-3.2l5.9-6.5l7.7-10.3l5.1-5.8l8.5-13.8l6-5.9l4.2-6.5l4.3-3.7l5.1-7.5l5.1-5.4l3.4-4.9l5.9-4.4l3.4-4.1l2.6-2.1l4.2-5.6l4.3-2.7l10.2-9.4l2.5-1.5l3.4-.9l3.4-3.8l2.6-.8l3.4-2.3l3.4-.5l6-2.5l4.2-2.9l6 .1l6.8-3.8l9.3 .2l5.1-.9l3.4 .2l5.1-1l4.3-1.8l3.4 2l4.2-.3l3.4 1.2l3.4-1.2l5.1-.7l6.8 2.2l7.7 .3l6.8 3.1l4.3 .1l4.2 3.7l3.4 1.7l5.1 4.2l4.3 .9l13.6 13.9l4.2 1.7l6 4.9l5.1 2.6l6.8-.5l5.9-1.6l12 .7l5.1-1l3.4 .5l4.2-.3l8.5 3.2l4.3 .9l5.9 2.8l4.3 3l10.2 16.7l7.6 15.2l5.1 12.5l8.5 24.8l8.5 17.2l3.4 8.2l4.3 38.8l.9 5l.8 1.8l1.7-2.3l1.7-5l2.6-.3l2.5 1.9l5.1-11.6l.9-.9l5.1 6.3l5.9-10.5l5.1 6.4l.9-.7l5.1-10.5l5.1 8.3l.8 .4l5.1-10.1l.9 .1l2.5 2.4l2.6 3.7l5.1-10.3l.8-.7l5.1 5.4l.9-.9l5.1-11.5l5.9 6.1l5.1-11.8l.9-.4l5.1 5.2l6-13.3l5.9 7.2l5.1-12.9l.9-.9l5.1 6.5l.8-.6l5.1-12.7l.9 .1l5.1 4.9l5.9-14.6l2.6 3.2l3.4 1.7l5.9-13.6l6 7l5.9-15.1l6 7.3l5.9-13.3l6 10l6-13.2l5.9 10.9l6-13.8l3.4 4.7l2.5 5l.9 .1l5.1-11.8l.8-.9l6 10.6l5.9-14.4l6 11.5l.8-.2l1.7-3.1l4.3-11.8l3.4 7.3l2.5 7.5l6-15.7l.8 .2l6 15.8l5.9-13.8l.9 .4l6 16.7l5.9-13.3l.9-.4l5.9 16.7l.9-.4l5.9-13.5l6.8 21.7l6-14.1l.8-.6l6 19.8l.8 .9l6-16.8l.8-.1l4.3 16.7l1.7 5.8l.8 .8l6-17.4l.8-.6l3.4 13.7l3.4 10.4l4.3-10.3l2.5-8.4l6.8 26.8l.9-1.1l6-20.1l.8-.1l6.8 29.4l6.8-26.4l6.8 31l.9 1.4l6.8-30.8l6.8 38.4l.8 .5l6.8-37.1l6.8 43.4l.9 1.2l6.8-41.7l7.6 47.4l6.8-45.9l.9 1.4l6.8 52.2l7.7-53.9l6.8 56.9l.8 1.6l6.8-56.2l.9 2.3l6.8 61l7.6-65.5l7.7 71l7.6-69.7l6.8 66.9l.9 4.3l6.8-68.9l.8-3.1l6.8 72.4l.9 2.6l6.8-75.2l.9-2.1" stroke="#ff2f21"/>
<path d="M176.0 1219.8l14.4 11.9l3.4 1.1l3.4 2.7l4.3 .2l3.4 1.7l1.7-.3l14.5-17.3l4.2-2l7.7-6.6l4.2-.4l6.8-5.2l.9-1.4l2.5-27.5l2.6 22.4l4.2-1.8l6-5.7l5.9-4.1l5.1-2.9l4.3-1.2l7.6-5.9l5.1-1.5l5.1-3.5l3.4-3.2l4.3-2l6.8-6l11.1-15.5l3.4-6.9l5.1-8l5.1-10.6l7.6-12.8l3.4-4.4l5.1-3.3l4.3-5.1l5.1-1.2l3.4-1.9l5.1-1.4l2.5-1.9l4.3-.6l6.8-5.1l4.2-5.1l4.3-1.1l2.6-2.2l3.4-1.3l2.5-2.5l2.6-.6l7.6-3.7l6-1.2l5.1-2.1l1.7 .3l2.5 1.4l6.8 5.8l5.1-.6l5.1-2l1.7-1.3l8.5-10.6l6.8-6.1l9.4-13.9l4.2-5.4l5.2-9.1l2.5-6.2l4.3-14.3l2.5-11.9l1.7-12.3l9.4-85.9l5.9-35.2l5.1-22.3l3.4-11.9l2.6-6.1l5.9-9.5l8.5-3.6l5.1 .6l3.4 2.2l3.4 0l6 2.3l3.4 2.5l3.4 .9l4.2 4l4.3 2.2l5.1 1.6l3.4 0l2.6 .6l1.7 .8l4.2 3.7l3.4 .2l6.8 3.8l5.1 .4l4.3 3.1l5.9 1.5l3.4 1.7l6.8 .7l5.1-1.3l5.1 1.4l11.1 .6l3.4 1.3l4.2-1.4l3.5 1.1l3.4-2.8l5.1 .1l6.8-2.8l4.2-3l4.3-.8l5.1-2.9l6.8-.1l5.1-1.3l13.6-7.9l2.5-2.6l1.7-4l2.6-15l1.7-6.1l8.5-6.2l2.5-.9l2.6 1.3l2.5 2.7l5.2 7.1l1.7 1.4l5.1-1.4l1.7-1.3l3.4-4.9l11-13.7l6-3.5l4.2-3.7l3.4-1.5l3.4-3l2.6-.7l5.1-5.7l5.1-2.1l5.1-3.5l4.2-1.5l6-4.5l5.9-1.1l4.3-3.6l3.4-4.4l5.1-5.3l4.3-2.1l3.4-.5l5.9-4.3l10.2-3.7l1.7 0l4.3 2.3l3.4 1l3.4 3.7l2.5 1.5l11.9 0l11.1-2.8l4.2 .1l4.3-1.5l4.2 .2l5.1-2.6l3.5 .2l7.6-3.5l5.1-3.2l4.3 .1l7.6-3.1l3.4-.6l2.6-1.6l3.4 0l2.5-1l4.3 .5l4.2-.7l3.4-1.2l2.6 1l4.2-.6l4.3 2l9.3 1.8l3.4-.9l2.6 .9l3.4 .4l6.8 2.2l3.4 2.6l4.3 2.1l8.5 8.6l4.2 3.2l6 6.9l5.1 3.5l5.1 6.6l6.8 7.2l17.8 17l4.3 4.9l1.7 7.2l5.1 39.8l4.2 21.9l4.3 14.9l8.5 23.3l6.8 12.1l4.3 5.5l3.4 6.1l4.2 4.3l2.6 1.5l2.5-.2l3.4 2l6 1.4l4.2-.1l3.4 1.5l4.3-1.3l5.9-.2l2.6-.9l3.4-2l5.1-4.9l5.1-1.9l14.5-17.2l3.4-3.4l10.2-16.4l5.1-4.3l4.2-6.2l4.3-4.2l5.1-7.1l5.1-5.3l3.4-4.9l5.9-4.2l3.4-3.8l2.6-1.4l4.2-6.4l6-5.1l3.4-2l5.1-4.6l5.9-3l3.4-3.2l3.5-1.2l3.4-2.3l2.5-.3l5.1-2.2l5.1-3.4l1.7-.2l2.6 .9l1.7 0l6.8-4.7l7.6 1.2l6.8-1.7l3.4 .4l8.5-2.3l5.1 1.8l3.4-.8l3.4 1.4l2.6-.9l5.1-.7l7.6 2.2l6.9 .4l3.4 1.5l8.5 2l4.2 2.9l2.6 .7l5.9 5.5l3.4 .6l1.7 1l12.8 13.1l5.1 1.7l4.2 3.7l6 3.3l6.8-.3l5.1-1.5l4.2 .6l3.4-.7l6 .9l4.3-1l7.6-.4l17.9 6.4l5.9 4.1l8.5 13.4l10.2 21.1l3.4 7.8l9.4 27l6.8 13l4.2 9.5l1.7 11.7l2.6 25.9l.9 5l.8 1.8l1.7-2.2l1.7-4.6l2.6-.2l2.5 1.6l5.1-11.4l.9-.8l5.1 6.1l5.9-10.5l2.6 3.7l2.5 2.4l.9-.7l5.1-10.4l5.1 8.3l.8 .4l5.1-9.9l.9-.1l1.7 1.5l3.4 4.9l5.1-10.4l.8-.7l5.1 5.9l.9-.9l5.1-12.1l3.4 4.5l1.7 1.8l.8 .2l5.1-12.7l.9-.5l5.1 6l6-13.3l2.5 2.7l3.4 5.1l5.1-13.6l.9-.8l5.1 6.6l.8-.7l5.1-12.5l.9 .1l2.5 3.2l2.6 2l5.9-15.7l3.4 3.6l2.6 1.8l5.9-13.2l3.4 3.2l2.6 3.6l5.9-15.5l6 7.8l5.9-13.3l6 10.3l6-13.3l5.9 11.2l6-13.7l.8 .5l2.6 4l2.5 5.2l.9 0l5.9-13l6 10.9l5.9-14.8l6 11.4l.8-.3l1.7-3.2l4.3-11l3.4 6.7l2.5 8.3l6-15.5l.8 .2l6 15.7l5.9-14.1l.9 .3l6 16.7l5.9-13.4l.9-.5l5.9 18l.9-.4l.8-1.8l5.1-12.8l6.8 22l6-15l.8-.6l4.3 15.1l1.7 5.1l.8 .8l6-16.2l.8-.2l5.1 19.6l.9 2.9l.8 .9l6-17.2l.8-.7l3.4 12.9l3.4 10.3l4.3-10.6l2.5-8l6.8 27l.9-1.2l6-20.5l.8-.2l6.8 29.9l6.8-27.3l6.8 31.8l.9 1.4l6.8-31.3l6.8 38.1l.8 .5l6.8-36.7l6.8 43.3l.9 1.3l6.8-42.5l7.6 48.2l6.8-47.2l.9 1.2l6.8 53.5l7.7-53.8l6.8 56.8l.8 1.8l6.8-56.9l.9 2.3l6.8 61.3l7.6-65.2l7.7 70.7l7.6-70.6l6.8 67.4l.9 4.3l6.8-69l.8-3l6.8 72l.9 2.9l6.8-75l.9-2.2" stroke="#ff3520"/>
<path d="M176.0 1218.1l5.1 3.5l5.1 5.3l6.8 3.2l4.2 2.9l1.7 .6l3.4-.5l3.4 1.4l1.7-.4l9.4-12.5l4.3-4.4l3.4-1.7l8.5-6.9l5.1-1.5l5.9-4.7l.9-1.4l2.5-28.6l2.6 23l.8 0l3.4-1.4l7.7-7.8l3.4-1.2l5.9-4.1l3.4-.9l7.7-5.7l5.1-.9l9.3-7.9l5.1-2.4l6.9-7.2l9.3-13l4.3-8.2l4.2-6.3l6-12.3l8.5-13.6l3.4-4.1l4.2-2.6l5.1-5.6l3.4-1.3l4.3-2.9l4.2-.9l3.4-3.3l4.3-.3l6.8-5.3l5.1-5l2.5-.9l3.5-2.6l3.4-.5l3.4-3.4l12.7-5.2l6-1.5l3.4 0l3.4 1.9l4.2 4.3l1.7 .8l9.4-2.4l2.5-1.8l9.4-11.2l5.1-4.3l9.3-13.8l11.1-14.9l1.7-3.6l5.1-16.2l3.4-18.2l9.4-80.7l5.9-33.3l5.1-21.1l4.3-13.7l2.5-5.6l5.1-7l6.8-3.6l6.8 .2l3.4 1.6l2.6 .1l3.4 2.3l2.5 .5l4.3 3.4l3.4 .8l4.2 3.4l8.6 3.8l4.2-.1l2.6 .5l5.9 5l3.4 .5l6.8 3.5l5.1 .3l4.3 3.6l5.9 1l9.4 2.7l5.1-1.3l11.9 2.1l5.1-.3l3.4 1.3l4.2-1.7l2.6 1.6l.9-.1l2.5-2.2l6-1.2l4.2-2.6l3.4-1l3.4-2.2l6.8-2.1l3.4-2.1l6.8-.2l4.3-1.1l14.4-8.7l2.6-3.6l.8-2.7l2.6-14.9l1.7-6.3l8.5-6.3l3.4-1l1.7 1l7.7 10.3l1.7 1.4l1.7-.1l3.4-1.4l1.7-1.4l5.9-7.2l8.5-11.3l2.6-1.8l3.4-1l5.1-4.7l5.9-3.8l2.6-.8l5.1-6.1l4.2-1.1l5.1-3.9l4.3-1.3l5.9-4.9l4.3-.4l2.5-1.2l5.1-4.7l7.7-8.7l6.8-2.1l6.8-4.9l11.1-4.7l1.7 .3l3.4 2.6l3.4-.2l5.9 5l1.7 .2l3.4-.7l6.8 .5l10.2-4.3l4.3 1l4.2-1.7l6-.5l3.4-2.2l6-1.3l10.2-5.1l5.1-.3l8.5-4.3l2.5-.3l2.6-1.3l3.4 .5l2.5-.4l3.4 .6l2.6-.9l3.4-.3l2.5-1.4l2.6 .7l3.4-.3l4.2 1.9l3.4-.2l6 1.8l4.2-.8l2.6 1.1l11.1 2.6l6.8 4.4l3.4 2.7l4.2 5l5.1 2.9l6 6.9l5.1 3l4.2 6l6.8 6.7l6.8 5.5l5.1 5.3l6.8 4.2l4.3 4.4l1.7 7.2l5.1 38l3.4 16.9l5.1 17.5l8.5 21.8l7.7 12.2l3.4 3.8l5.9 8.7l3.4 2.5l4.3-.5l3.4 2.3l9.3 1.5l3.4 1.4l4.3-1.7l6.8 0l7.6-5.3l6.8-3.3l2.6-1.8l17-19.8l9.4-14.8l5.1-3.9l5.1-7.1l4.2-3l8.5-9.8l4.3-5.9l5.9-4.1l9.4-9.9l16.1-13.2l5.1-1.8l3.4-3.3l2.6-.9l3.4-2.3l3.4-.1l6-2.4l4.2-3.1l6 .6l6.8-4.5l2.5-.3l5.1 1.1l6.8-1.1l3.4 .1l9.4-2.5l4.2 1.6l3.4-.4l3.4 .7l2.6-.9l4.2-.3l12 2.6l4.2-.3l11.1 4l4.2 3.4l3.4 .7l5.1 4.1l4.3 .9l12.7 13.2l5.1 2.3l10.2 6.7l1.7 .2l5.1-.9l6-1.7l13.6 1.5l11.9-2l7.7 3.5l5.9 1l9.4 5.3l11 15.2l7.7 14.6l4.2 9.4l9.4 25.8l1.7 3.6l5.1 7.6l4.2 9.4l1.7 11.4l2.6 25.5l.9 5.1l.8 1.9l1.7-2.2l1.7-4.9l2.6-.4l2.5 1.8l5.1-12.1l.9-.9l5.1 7.1l5.9-9.9l5.1 5.9l.9-.8l5.1-10.8l5.1 7.8l.8 .4l5.1-9.8l.9 .2l2.5 2.7l2.6 3.7l5.1-10.2l.8-.6l5.1 5.1l.9-.8l5.1-11.4l4.2 4.9l1.7 1l5.1-12.1l.9-.4l5.1 5.9l6-14.1l1.7 1.7l4.2 6.7l5.1-14.2l.9-1.2l5.1 6.6l.8-.6l5.1-11.3l.9-.1l5.1 4.8l5.9-15.3l2.6 3.1l3.4 1.5l5.9-12.9l3.4 3.5l2.6 3.6l5.9-15l6 7.4l5.9-13l6 11.1l6-12.9l5.9 10.7l6-13.7l.8 .6l5.1 9.1l.9-.2l5.1-11.3l.8-.9l6 10.8l5.9-14.1l6 11.6l.8-.2l1.7-3.2l4.3-11.6l2.5 5.3l3.4 10l6-15.9l.8 .1l6 16.2l5.9-14.3l.9 .5l6 17.1l5.9-13.5l.9-.5l5.9 17.3l.9-.4l.8-1.8l5.1-12.5l6.8 21.9l6-14.6l.8-.5l4.3 15.1l1.7 5l.8 .7l6-16.9l.8-.2l6 22.7l.8 .9l6-17.6l.8-.9l3.4 13.3l3.4 10.6l3.4-8.5l3.4-10.8l6.8 27l.9-1.1l6-21.8l.8-.2l6.8 30.8l6.8-27.5l1.7 6.2l5.1 25l.9 1.4l6.8-31.6l6.8 38.2l.8 .4l6.8-37.9l6.8 43.4l.9 1.3l6.8-42.2l7.6 47.8l6.8-47.3l.9 1.4l6.8 52.7l7.7-53.8l6.8 56.9l.8 1.8l6.8-57.2l.9 2.3l6.8 62.2l7.6-66.9l7.7 71.4l7.6-70.8l6.8 67.7l.9 4.3l6.8-69.3l.8-3.2l6.8 73l.9 2.8l6.8-76.7l.9-2.2" stroke="#ff4d29"/>
<path d="M176.0 1217.3l4.2 2.6l5.1 5.2l5.1 2.9l3.4 1l3.4 2.3l4.3 .4l3.4 2.1l1.7-.3l1.7-1.7l7.6-11.4l5.2-5l3.4-1.9l8.5-6.7l3.4-.6l1.7-.8l5.9-5l.9-1.4l2.5-28.6l2.6 23.2l.8 0l3.4-1.7l9.4-9.2l7.6-4.3l4.3-.6l8.5-6.6l3.4-.1l.8-.5l8.5-7.4l5.1-3.1l6-6l10.2-13.9l10.2-17.6l5.1-10.4l7.7-12.4l3.4-4.1l4.2-2.8l4.3-4.3l4.2-2l4.3-3.4l4.2-1.7l3.4-2.8l4.3-.8l6.8-5.9l4.2-5l3.4-.9l3.5-2.8l3.4-.9l2.5-2.5l2.6-.6l3.4-2.2l5.9-2.2l10.2-2.2l4.3 1.7l5.9 5.3l2.6 0l7.6-2l2.6-2.4l6.8-9.1l7.6-6.7l10.2-14.8l9.4-12.1l6.8-17.4l2.6-11.1l1.7-11.6l8.5-70.9l5.9-31.7l4.3-18.4l4.2-13.8l2.6-6l4.2-6.8l2.6-2.8l6.8-2.4l5.9 .3l3.4 1.7l2.6 0l3.4 2.2l3.4 .7l3.4 2.9l3.4 .6l3.4 3.2l4.3 2.6l3.4 .6l3.4 1.5l5.1 .4l5.9 4.9l3.4 0l7.7 4l5.1-.1l4.2 3.3l6 1.1l8.5 2.7l4.2-1l4.3-.2l8.5 2.4l4.2 .1l4.3 .9l4.2-1.7l2.6 1.3l.9-.1l3.4-3l5.1-.2l11-5.8l6.8-2l3.4-1.9l3.4-.2l7.7-2.1l8.5-4.9l5.1-3.6l3.4-4.1l.8-2.6l2.6-15.2l1.7-6.3l3.4-3.1l5.1-3.4l2.5-1.1l1.7 .4l9.4 12l1.7 .3l5.1-1.6l15.3-19.4l7.7-3.9l6.8-6.1l5.1-2.1l3.4-4.3l2.5-2l4.3-1.5l4.2-3.5l4.3-1.4l5.1-3.8l8.5-3l12.8-13.8l6.8-2.6l6.8-5l10.2-3.8l1.7 .2l3.4 2.5l3.4-.3l.8 .4l3.4 3.3l2.6 1.3l4.2-1l5.1 .9l6.8-3.2l6-1.8l4.2 .4l4.3-1.5l4.2-.3l5.1-3l4.3 .5l7.7-3.9l4.2-3.1l4.3 .5l7.6-3.7l3.4-.1l2.6-1.9l9.3 .2l2.6-.9l3.4 .3l3.4-1.4l5.9 .2l4.3 2.1l2.5-.2l6.8 1.6l3.4-.9l11.1 2.4l8.5 4.6l2.6 2l5.9 6.6l5.1 2l6 6.5l5.1 3.1l5.1 6.4l3.4 2.3l3.4 3.9l11.9 10.6l2.5 1.8l3.4 1.4l4.3 3.9l1.7 6.9l5.1 36.6l4.2 18.9l4.3 13.9l8.5 20.5l6 9.6l5.1 6.1l3.4 5.5l5.9 5.5l1.7 .5l2.6-.7l3.4 1.5l9.3 1.4l3.4 1.1l4.3-1.1l6.8-.5l4.2-1.6l6-4.8l5.1-1.2l10.2-11l3.4-4.8l3.4-3.4l10.2-15.3l6-4.6l4.2-6.2l4.3-3l4.2-5.6l6-6l3.4-4.8l11.9-8.4l4.2-5.8l3.4-2.2l10.2-8.7l3.4-1.9l3.4-.9l3.4-3.3l2.6-.5l3.4-2.6l8.5-2.1l5.1-3.4l6 .4l7.6-4.1l2.6-.2l3.4 .7l4.2-.8l7.7 .1l8.5-2.6l4.2 1.1l3.4-.1l2.6 1.6l4.2-1.5l3.4-.4l5.1 1.8l6.9 .6l3.4-.4l3.4 1.4l7.6 1.9l5.1 3.6l3.4 1.1l5.1 4.8l4.3 .1l13.6 13.5l5.9 2.2l9.4 6.7l3.4-.8l3.4 0l5.9-1.8l12.8 .8l11.1-1.4l9.3 3.6l4.3 .4l11 5.7l9.4 12.7l8.5 14.6l4.2 9.1l5.1 14.7l4.3 10.1l7.6 12.7l3.4 7l1.7 11.1l2.6 25.2l.9 5.2l.8 1.9l1.7-2.1l1.7-4.9l2.6-.3l2.5 2l5.1-12.1l.9-.8l5.1 6.8l5.9-11.1l5.1 6.2l.9-.8l5.1-10.4l5.1 8.6l.8 .4l5.1-10.4l.9 0l1.7 1.7l3.4 4.5l5.1-9.6l.8-.6l5.1 5l6-12.7l4.2 5l1.7 1l5.1-12.3l.9-.5l5.1 6l6-13.4l2.5 2.3l3.4 4.8l5.1-13.4l.9-1l5.1 7.1l.8-.7l5.1-12.5l.9 0l5.1 5.5l2.5-5.5l3.4-9.5l6 5.1l5.9-13.3l6 7.4l5.9-15.9l6 8.1l5.9-13.3l6 10.8l6-12.6l5.9 11l6-13.8l.8 .7l5.1 10.2l.9 .1l5.1-12l.8-.9l6 10.6l5.9-13.8l6 11.5l.8-.2l1.7-3.2l3.4-9.8l.9-1.2l3.4 7.2l2.5 7.6l6-15.7l.8 .3l6 16.2l5.9-14.2l.9 .3l6 16.9l5.9-13.1l.9-.4l5.9 17.2l.9-.5l5.9-14.5l6.8 21.6l6-14.5l.8-.6l4.3 14.7l1.7 5l.8 .7l6-16.6l.8-.3l6 23.5l.8 .8l6-18.4l.8-.9l3.4 13.5l3.4 10.6l4.3-11l2.5-8.6l6.8 26.7l.9-1.1l6-21l.8-.2l6.8 29.9l6.8-28l6.8 31.7l.9 1.4l6.8-32.7l6.8 38.3l.8 .5l6.8-37.8l6.8 44l.9 1.3l6.8-43.1l7.6 47.8l6.8-47.6l.9 1.1l6.8 53.5l7.7-54.6l6.8 57.5l.8 1.7l6.8-57.5l.9 2.4l6.8 61.9l7.6-66.7l7.7 71.7l7.6-71.5l6.8 67.7l.9 4.3l6.8-69.4l.8-3.2l6.8 72.3l.9 2.9l6.8-75.6l.9-2.3" stroke="#ff6233"/>
<path d="M176.0 1215.6l8.5 7.6l5.9 3.8l3.4 .9l5.1 3l3.4 .1l2.6 1.1l1.7-.3l10.2-13.7l3.4-3.4l4.3-2.5l2.5-2.7l5.1-3.9l5.1-1.8l6.8-5.7l.9-1.4l2.5-28.7l2.6 23.7l3.4-1.6l7.6-7.4l4.3-2.3l4.2-3.4l6-2.2l8.5-5.9l3.4 .1l.8-.4l2.6-2.6l3.4-2.2l3.4-3.9l3.4-1.9l7.7-7.7l10.2-14.4l9.3-15.9l4.3-8.5l7.6-12.5l4.3-4.9l4.2-3.1l4.3-5.8l5.1-2.2l4.2-3.3l4.3-2.2l2.5-2.8l4.3-1.4l5.1-3.3l5.9-6.9l4.3-1.4l2.6-2l2.5-.7l3.4-3.3l4.3-2.2l17.8-5.1l2.6 1l7.6 6.2l9.4-1.7l3.4-2.7l7.6-9.9l6-4.6l11-16.4l4.3-4.5l6-8l5.9-13.5l2.6-9.8l1.7-10.3l9.3-73.7l6-29.2l5.1-19.7l3.4-9.8l1.7-3.5l4.2-6.4l2.6-2.7l6.8-3l5.9 .4l3.4 1.6l3.4 .1l3.4 2.2l2.6 .8l3.4 2.5l3.4 1.2l4.2 3.5l9.4 3.9l6 1l5.1 4l5.1 .8l5.1 3.1l5.9 .4l4.3 3.2l9.3 3.4l6.8 .7l4.3-1.1l5.9 1.3l11.1 .8l3.4 .8l4.2-1.6l3.5 1.2l2.5-2.4l5.1-.2l4.3-2.9l4.2-1.2l4.3-3l5.9-1.1l3.4-1.8l3.4-.4l8.5-2.4l4.3-3.6l9.3-5.8l2.6-3.4l.8-2.6l3.4-19.9l.9-2.2l4.2-3.8l5.1-3.1l2.6-.4l2.5 2.1l6.9 9.9l2.5 1.1l3.4-.7l3.4-2.8l13.6-17.5l6-3l4.2-4.2l6-4.2l3.4-1.1l5.1-5.7l5.1-2l5.1-4.2l3.4-1l5.9-4.9l4.3-.5l3.4-1.7l4.2-4l7.7-9.3l6.8-2.3l5.1-3.5l11.9-6.3l2.6 .3l3.4 2l3.4-.2l5.1 4.2l1.7 .7l1.7-.1l3.4-1.6l4.2 .5l7.7-3.3l4.2-1.2l5.1 .3l4.3-2l4.2 .3l5.1-3.2l4.3-.2l1.7-.7l5.1-2.5l5.1-3.6l4.3 .2l7.6-3.2l3.4-.8l2.6-1.7l9.3 1l2.6-.8l2.5 0l3.4-1.7l2.6 .8l4.2 0l3.4 1.4l6.8 .3l3.4 1.1l3.4-.8l13.7 3.2l4.2 3.2l4.3 2.2l5.9 6.1l5.1 2.4l6 6.5l5.1 1.9l5.1 6.9l7.6 6.9l10.2 8l7.7 4l3.4 2.5l1.7 6.4l5.1 36.6l3.4 14.9l5.1 16.2l8.5 19.6l15.3 20.7l4.3 4l1.7 .6l3.4-1l3.4 1.8l12.7 2.4l3.4-1.1l7.7 .1l4.2-2l6.8-4.9l3.4-.6l1.7-1.1l7.7-9l8.5-8.7l11.1-15.9l5.1-3.9l5.1-6.3l4.2-2.9l12.8-14.8l3.4-2.9l8.5-5.5l4.2-5.9l3.4-1.8l6-4.5l4.2-4l7.7-3.3l2.5-2.2l2.6-.8l2.6-1.9l4.2-.5l10.2-5.5l6 .5l7.6-4.2l1.7 0l4.3 1.2l6.8-1.6l5.1 .2l5.1-1.1l3.4-1.5l4.2 2.1l3.4-1l3.4 1.1l4.3-1.3l3.4-.3l11.1 2.7l3.4 0l6.8 1.6l3.4 .2l2.5 1.3l3.4 3.3l2.6 .1l1.7 .7l4.2 4.2l4.3 .8l12.7 12.7l2.6 1.4l3.4 .5l4.2 3.6l6 3.3l6.8-.5l5.9-1.9l6 .3l6.8 1.1l3.4-.9l7.7-.7l6.8 1.7l3.4 1.5l4.2 .6l10.2 4.8l9.4 11.6l8.5 14l4.2 8.8l5.1 14.4l3.4 7.8l11.9 19.7l1.7 11.1l2.6 25.5l.9 5.3l.8 2.1l1.7-2.2l1.7-5.2l2.6-.4l2.5 1.7l5.1-11.7l.9-.9l5.1 6.6l5.9-10.8l5.1 5.9l.9-.7l5.1-10l5.1 7.8l.8 .6l5.1-10.1l.9 0l1.7 1.6l3.4 4.8l4.2-9l1.7-2.1l5.1 5.6l.9-.9l5.1-12.3l5.1 5.9l.8 .3l5.1-11.9l.9-.5l5.1 5.6l6-13.6l5.9 7.7l5.1-13l.9-.9l5.1 6.9l.8-.5l5.1-12.8l.9-.2l5.1 5.5l2.5-5.5l3.4-9.7l3.4 3.7l2.6 1.6l5.9-13.1l3.4 3.6l2.6 3.8l5.9-16.4l6 9.4l5.9-13.8l6 11.6l6-13.3l5.9 11.5l6-14.5l1.7 2.2l4.2 9.1l.9 .1l5.1-11.6l.8-1l6 11l5.9-13.8l6 11.7l.8-.2l1.7-3.4l3.4-10.4l.9-1.2l3.4 7.6l2.5 7.9l6-16.4l.8 .4l6 16.6l5.9-14.1l.9 .3l6 17.1l5.9-13.8l.9-.4l5.9 17.4l.9-.3l.8-1.8l5.1-12.5l6.8 21.5l6-14.7l.8-.5l4.3 14.8l1.7 5.2l.8 .8l6-17l.8-.2l6 22.9l.8 1l6-17.8l.8-1l3.4 13l3.4 10.4l4.3-10.9l2.5-8.4l6.8 25.8l.9-1.2l6-20.8l.8-.3l6.8 30.2l6.8-28.2l6.8 31.4l.9 1.3l6.8-32.5l6.8 38.2l.8 .6l6.8-38.6l6.8 44.4l.9 1.1l6.8-43.8l7.6 48.4l6.8-47.6l.9 1.3l6.8 52.9l7.7-54.7l6.8 57.3l.8 1.6l6.8-57.3l.9 2.1l6.8 62.4l7.6-67.4l7.7 71.9l7.6-72l6.8 68.3l.9 4.3l6.8-69.8l.8-3.1l6.8 72.6l.9 3.1l6.8-76.3l.9-2.3" stroke="#ff763e"/>
<path d="M176.0 1213.6l9.3 8.2l5.1 3.3l3.4 .8l4.3 2.7l3.4-.7l3.4 1.9l1.7-.2l11-15.1l6.9-5.1l3.4-3.9l5.1-3.6l4.2-1.2l6-4.6l1.7-2.2l2.5-28.9l2.6 24l2.5-.8l1.7-1.3l7.7-8.8l3.4-1.3l5.9-4.7l4.3-1.1l7.6-5.4l5.1-1.2l8.5-7.9l5.1-3.2l11.1-13.1l15.3-24.3l5.1-9.6l10.2-15.5l5.1-3.4l4.3-5.8l12.7-8.9l3.4-4l4.3-1.5l5.9-4.8l5.1-5.9l4.3-1.5l2.6-1.9l3.4-.8l2.5-2.6l2.6-.6l4.2-2.9l6-2.3l3.4 0l5.9-1.8l2.6 .9l7.6 6.6l1.7 0l7.7-2.3l2.5-2l7.7-9.9l6.8-5.6l10.2-14.7l11.1-11l5.9-11.4l1.7-4.5l3.4-17.2l8.5-62.9l6-28l5.1-18.8l3.4-9.4l5.9-9.5l2.6-2.4l6.8-2.6l5.1-.2l4.2 2.1l3.4 0l8.5 4.7l4.3 1.6l5.1 4.2l6 2l3.4 1.9l5.9 1l5.1 4.1l4.3 .7l5.9 3l4.3 .5l5.1 3.6l5.9 1l4.3 1.7l5.9 .7l3.4-1.2l2.6 0l4.2 1.3l3.4 0l3.4 1l6.8 .7l5.1-1.9l3.5 1.6l3.4-2.5l5.1-.5l11.9-7.4l6.8-1.6l2.5-1.4l3.4-.4l7.7-2.7l14.4-10l2.6-3.6l.8-2.8l3.4-20.3l.9-2.2l3.4-3.1l5.1-3.1l1.7-.5l1.7 .3l3.4 3.1l6.8 9.4l1.7 .6l3.4-1.2l2.6-1.9l5.9-6.9l4.3-5.4l3.4-5.3l1.7-1.7l5.9-3l4.3-3.9l4.2-2.5l4.3-1.2l5.1-6.5l4.2-1.3l6-5.2l3.4-.9l5.9-4.6l4.3-1.2l4.2-2.3l3.4-3.2l7.7-9.5l6-2.4l4.2-3.2l7.7-4.7l5.9-2.4l1.7-.2l4.3 2.3l3.4-.7l4.2 3.8l1.7 .9l1.7-.2l3.4-1.5l6.8-.1l5.1-2.9l6-2.3l4.2 .1l4.3-1.7l4.2-.5l5.1-2.6l4.3 0l11.9-6.7l6-.7l3.4-1.4l2.5-1.7l3.4-.5l2.6-1.6l5.9 0l3.4 .9l2.6-.8l2.5 .2l3.4-1.7l2.6 .5l2.5-.4l5.1 2.2l3.4-.5l2.6 .9l4.2 .5l3.4-1.2l5.1 1.5l7.7 1.3l3.4 2.7l5.1 1.9l6.8 6.8l4.3 2.1l6.8 6l4.2 1.6l5.1 6.2l3.4 2.1l3.4 3.4l4.3 2.5l6.8 5.8l5.1 2.1l3.4 .7l3.4 2l1.7 6.5l3.4 25.3l2.5 13.7l6.8 21.5l8.6 18.9l7.6 10.7l4.3 4.3l4.2 6.1l2.6 2.5l2.5 1.4l3.4-1l4.3 2.4l2.5-.2l6.8 .7l3.4 1.5l4.3-1.4l5.1 .4l2.5-.6l3.4-1.8l6-4.6l1.7-.7l2.5 0l1.7-1l4.3-3.7l9.4-10.4l3.4-2.9l6.8-10.3l3.4-3.8l5.1-4l4.2-5.8l4.3-2.6l14.4-15l2.6-1.8l2.5-.7l3.4-3l2.6-1.4l4.2-5.7l9.4-6.2l5.9-5.3l5.1-1.5l3.4-2.7l2.6-.5l3.4-2.4l4.3-.4l4.2-1.5l4.3-2.9l1.7-.2l4.2 .9l7.7-4.4l1.7-.4l5.1 1.2l3.4-.7l7.6-.2l5.1-1.5l3.4-1.8l1.7 .4l2.6 1.6l4.2-.4l3.4 1.7l7.7-2.6l6.8 2.1l5.1 .5l3.4-.5l9.4 3.3l5.1 2.9l3.4 .3l5.1 4.7l1.7 .6l2.5-.3l.9 .3l13.6 13.6l5.9 1.8l3.4 2.9l6 3.4l3.4-.8l3.4 .1l5.1-1.7l4.2 .8l9.4 .1l6.8-.6l3.4-1.4l1.7-.1l9.4 3.9l3.4 .1l5.1 1.5l5.9 2.8l9.4 10.2l8.5 12.9l4.2 8.5l9.4 22.5l6.8 9l4.2 7.3l1.7 10.3l2.6 25l.9 5.3l.8 2.1l1.7-2.1l1.7-5.1l2.6-.6l2.5 1.7l5.1-11.3l.9-.8l5.1 6.1l5.9-10.7l5.1 6.3l.9-.6l5.1-11l5.1 8.2l.8 .5l5.1-10.5l.9-.1l1.7 1.7l3.4 5.2l5.1-10.5l.8-.6l5.1 5l.9-.9l5.1-11.6l4.2 5.7l1.7 1.2l5.1-13.4l.9-.5l5.1 6.4l6-13.5l5.9 7.7l5.1-13.8l.9-1l5.1 6.8l.8-.5l5.1-12l.9 0l5.1 5.4l5.9-15.4l2.6 3.6l3.4 2.1l5.9-13.6l6 7.8l5.9-15.5l6 8.6l5.9-13.4l6 11.1l6-12.4l5.9 11.5l6-13.5l.8 .6l5.1 9.8l.9 .2l5.9-12.3l6 11.6l5.9-14.8l6 12.2l.8-.1l2.6-4.9l3.4-9.5l3.4 7.1l2.5 7.8l6-15.7l.8 .2l6 16.3l5.9-13.9l.9 .3l6 17l5.9-13.6l.9-.7l5.9 18l.9-.5l1.7-3.6l4.2-11l6.8 22.2l6-15.6l.8-.7l4.3 15.5l1.7 5.2l.8 .6l6-17l.8-.2l6 22.9l.8 .8l6-18.9l.8-.8l3.4 13.7l3.4 10.4l6.8-19.8l6.8 26l.9-1.3l6-21.3l.8-.4l6.8 29.9l6.8-28.3l6.8 31.4l.9 1.4l6.8-33.3l6.8 38.6l.8 .4l6.8-38.8l6.8 44.2l.9 1.2l6.8-44.2l7.6 48.4l6.8-48.5l.9 1.2l6.8 53.3l7.7-55.5l6.8 57.6l.8 1.8l6.8-57.9l.9 2.3l6.8 63.7l7.6-68.6l7.7 72.3l7.6-72.8l6.8 68.6l.9 4.2l6.8-70l.8-3.4l6.8 74l.9 2.9l6.8-77.3l.9-2.1" stroke="#ff9051"/>
<path d="M176.0 1213.0l5.1 3.3l5.1 5.1l4.2 1.9l3.4 .7l4.3 2.7l3.4-.4l4.2 2.1l1.7-.7l8.5-12.5l5.2-5.8l3.4-2.1l7.6-6.4l1.7-1l3.4-.8l6.8-5.4l.9-1.6l2.5-29.8l2.6 24.1l3.4-.9l7.6-7.9l8.5-6l2.6-1.5l3.4-.6l7.6-6.4l4.3-.4l.8-.5l8.5-8.2l3.4-1.9l5.2-5.1l12.7-16.9l4.3-7.8l5.9-9l5.1-9.4l11.1-16.4l4.2-3l4.3-5.5l4.2-2.6l4.3-4.4l4.2-2.4l3.4-4.2l3.4-.9l6.8-5.7l5.1-6.3l4.3-1.5l2.6-2.3l3.4-.7l2.5-2.2l5.1-2.9l16.2-4.7l1.7 .1l3.4 2l5.9 5.5l1.7 .1l4.3-1.2l5.9-3.2l8.5-11.3l6-4l11-15.9l10.3-8.3l5.9-9.7l1.7-3.9l3.4-15.4l8.5-61.1l5.1-23.7l4.3-16l3.4-10.5l2.5-5.7l6.8-10.3l9.4-2.6l3.4 .2l3.4 1.9l3.4-.5l3.4 2.3l3.4 1l2.5 2.3l4.3 1.1l3.4 3.2l5.1 2.8l5.1 2.2l3.4-.3l2.6 .9l5.9 5l4.3 .6l5.9 3l3.4-.3l1.7 .4l4.3 3.7l5.9 1.6l3.4 1.4l3.4-.5l4.3 1.1l3.4-1.3l2.5-.2l4.3 1.3l6.8 .9l7.6 .4l3.4-1.4l3.5 1.2l3.4-2.7l5.9-.8l3.4-2.3l6.8-3.6l6.8-2.2l3.4-2.3l11.9-2.8l8.5-6.7l5.1-3.1l2.6-3.7l.8-2.7l3.4-20.8l.9-2.2l3.4-3.1l5.1-3.3l3.4-.5l2.5 2.3l6 9.1l1.7 1.8l1.7 .2l5.1-1.8l6-6.9l9.3-12.5l6.8-3.8l4.3-3.9l5.1-3.3l3.4-.7l4.2-5.2l4.3-2.1l6.8-5.3l3.4-1l5.1-4.1l5.1-1.5l2.5-1.4l6-5.5l6.8-8.6l3.4-1.9l4.3-1.3l5.1-4.4l5.9-2.8l4.3-3l2.5-.2l4.3 2.5l3.4-.5l4.2 2.9l3.4 1l3.4-1.4l6-1.2l11.9-4.9l4.2 .3l4.3-2l5.1-.3l4.2-2.4l4.3-1l4.3-1.8l7.6-4.9l5.1 .1l4.3-1.5l3.4-2l2.5-.4l2.6-1.5l5.9 .2l3.4 1l2.6-1.1l3.4-.1l2.5-1.6l9.4 1.8l4.2-.2l6.8 2l3.4-1.2l9.4 2.2l4.3 .1l3.4 2.5l4.2 2l6.8 6.9l4.3 1.6l3.4 2.4l4.2 4.2l4.3 1.5l4.2 4.7l3.4 2.1l10.2 8.5l8.5 4.4l7.7 2.4l1.7 6l5.1 34.8l3.4 11.7l5.1 13.8l6.8 14.3l2.6 4.3l5.9 7.5l4.3 4l4.2 6.2l5.1 3.9l1.7-.1l2.6-1.2l3.4 1.6l9.3 1.3l3.4 1.1l3.4-1.3l7.7 0l4.2-1.4l6-4.9l5.1-.5l3.4-3.1l5.1-5.8l8.5-7.7l11.1-15l5.1-3.7l4.2-5.3l5.1-3.5l8.5-8.1l3.4-4.5l6.8-3.9l6-4.3l4.2-5.2l3.4-1.8l2.6-2.3l3.4-2.1l4.2-4.1l6.8-1.9l3.4-2.6l2.6-.4l3.4-3.1l8.5-2l6-2.7l5.1 .6l7.6-4.1l7.7 1.1l5.9-1.5l4.3 .2l8.5-2.6l4.2 2l3.4-.7l3.4 1.6l4.3-1.9l3.4-.8l6.8 2.5l4.3 .6l3.4-.6l3.4 1.1l5.9 .5l2.6 .9l4.2 3.2l3.4 1l5.1 4.2l4.3 .9l3.4 3.4l3.4 2.2l6.8 7.1l5.1 1.3l10.2 6.6l3.4-.9l3.4 .1l5.1-1.9l5.1 .8l5.1-.2l3.4 .9l3.4-1.3l4.3 .4l4.2-.5l23.8 6.4l8.5 9l8.5 11.4l5.1 9.5l6 14.9l3.4 7l5.9 7.1l5.1 7.9l1.7 10.1l2.6 24.4l.9 5.4l.8 2l1.7-2l1.7-4.8l2.6-.1l2.5 1.8l5.1-12.1l.9-.9l5.1 6.7l5.9-11.1l5.1 6.1l.9-.7l5.1-10.5l5.1 8.9l.8 .4l5.1-11.5l.9 0l1.7 1.9l3.4 5l5.1-11l.8-.7l5.1 6.7l.9-.7l5.1-12.9l5.1 6.2l.8 .3l5.1-12.6l.9-.5l5.1 6.6l6-13.9l5.9 8l5.1-14.2l.9-1l5.1 7.2l.8-.6l5.1-12.3l.9-.2l5.1 5.8l5.9-15.4l3.4 3.9l2.6 1.7l5.9-12.6l3.4 3.7l2.6 3.7l5.9-16.4l6 9l5.9-12.9l6 11.8l6-13.1l5.9 12.1l6-13.7l.8 .7l5.1 9.9l.9 .1l2.5-4.9l2.6-6.8l.8-.8l6 11.6l5.9-14l6 11.8l.8-.2l1.7-3.1l4.3-11.5l3.4 7.6l2.5 7.7l6-16.1l.8 .2l6 16.6l5.9-13.8l.9 .3l6 17.2l5.9-13.6l.9-.6l5.9 17.7l.9-.6l3.4-7.2l2.5-6.7l6.8 21.4l6-14.9l.8-.8l6 20.3l.8 .9l6-17.3l.8-.2l6 22.7l.8 .8l6-19.1l.8-.8l3.4 13.6l3.4 10.1l6.8-20.3l6.8 26.8l.9-1.2l6-21.9l.8-.3l6.8 30.1l6.8-28.6l6.8 31.1l.9 1.4l6.8-32.9l6.8 38l.8 .2l6.8-39.1l6.8 44.3l.9 1.3l6.8-44.2l7.6 48.3l6.8-49l.9 1.3l6.8 53.8l7.7-56.1l6.8 58.1l.8 1.6l6.8-58.5l.9 2.3l6.8 63.2l7.6-68.3l7.7 72.2l7.6-72.6l6.8 68.6l.9 4.4l6.8-70.6l.8-3.1l6.8 73.7l.9 2.8l6.8-77l.9-2" stroke="#ff9e5c"/>
<path d="M176.0 1211.9l4.2 2.5l5.1 5.1l5.1 3.1l3.4 .5l4.3 2.6l4.2-.6l2.6 1.3l1.7 .2l1.7-1.7l7.6-11.3l5.2-6l11.9-9.5l5.1-1.5l5.1-4.5l1.7-2.3l2.5-29.4l2.6 23.8l3.4-1.3l7.6-7.5l8.5-6.4l6-1.5l4.2-4.4l3.4-2.2l1.7-.5l2.6 .4l.8-.6l2.6-3.1l5.9-5.5l5.1-3.3l7.7-8.9l8.5-12.4l5.1-9l5.1-6.8l9.4-16.1l5.9-8.3l5.1-4.2l4.3-6.3l5.1-3.4l3.4-4.1l4.2-3.1l3.4-4.1l4.3-1.6l5.9-5.7l5.1-5.8l3.4-1l3.5-3l2.5-.2l3.4-3.1l5.1-2.3l11.1-2.7l4.2-1.9l3.4 .3l8.5 7.1l7.7-1.6l3.4-1.7l10.2-12.7l5.9-5.1l9.4-13.1l6.8-6l4.3-2.6l3.4-4.8l2.5-2.2l1.7-3.2l2.6-9.4l1.7-9.5l7.6-52.7l6.8-30.3l4.3-14.5l3.4-9l1.7-3l6.8-7.6l7.6-2.6l5.1 .4l3.4 1.5l2.6-.2l3.4 2.1l3.4 .7l3.4 2.9l3.4 1.3l3.4 2.9l5.1 3l5.1 1.8l3.4 0l3.4 .9l5.1 3.9l3.4 .3l5.1 3.2l2.6 .8l4.2 .5l4.3 3l6.8 1.5l3.4 1.7l5.9 .7l3.4-1l3.4 0l11.9 1.5l3.4-.1l2.6 .7l4.2-1.4l2.6 1.3l.9 0l2.5-2.3l6-.9l10.2-6.1l7.6-2.5l3.4-2.4l3.4-.6l7.7-2.4l14.4-10.7l2.6-3.4l.8-2.8l3.4-20.9l.9-2.5l3.4-3.5l5.1-2.6l3.4-.4l2.5 2l7.7 12l1.7 0l4.3-2l2.5-2l13.6-17.6l6.8-3.7l8.5-6.9l4.3-1.4l5.1-6.2l5.1-2l5.1-4.5l3.4-.5l5.9-5l4.3-1.1l2.5-1.3l6-5.2l6.8-8.9l7.7-3.7l5.9-4.6l4.3-2.5l7.6-3.2l4.3 1.8l4.2 .2l2.6 2l1.7 .7l1.7-.2l4.2-1.7l6-.2l11-5.9l5.1 .4l3.4-1.6l5.1-.1l4.3-2.9l5.1-1l11.1-6.5l1.7-.3l2.5 .9l1.7-.2l6.8-4l3.4-.5l2.6-1.1l2.5 .4l3.4-.8l2.6 .4l3.4-1.2l3.4 .2l2.5-.7l2.6 .7l3.4-.7l4.2 2l3.4-.3l6.8 1.4l3.4-1.5l8.5 2.4l4.3 .3l5.1 3.8l5.1 1.7l5.1 5.1l5.1 1.8l6 5.5l5.1 1.9l5.1 5.2l2.5 1.3l5.1 4.4l10.2 6.7l4.3 1.3l6.8 .9l1.7 5.8l5.1 33.9l3.4 10.9l4.2 10.9l10.3 19.9l10.2 10.4l5.1 6.8l1.7 1.5l2.5 1.1l4.3-1.1l4.2 1.8l5.1 .6l3.4-.4l3.4 1.3l4.3-1l5.9 .6l4.3-1.5l5.9-4.2l6-1.2l11.9-10.9l8.5-9.6l7.7-10.2l5.1-3.4l5.1-5.6l3.4-1.8l5.1-5.3l4.2-3.2l4.3-4.7l5.9-3.2l2.6-2.6l3.4-1.9l4.2-5.2l3.4-1.4l6-4l6.8-5.6l1.7-.8l2.5 .1l3.4-2.9l2.6-.4l3.4-2.9l3.4-.1l5.1-1.1l6-3.3l5.1 .7l6.8-3.7l3.4-.1l5.1 .9l5.1-1.3l4.2 .4l9.4-2.8l4.2 1.8l3.4-.6l3.4 1l3.4-1.5l3.4-.1l12 2.3l3.4-.3l3.4 1.2l6.8 .4l1.7 .6l3.4 2.9l4.2 1.5l5.1 3.6l4.3 .5l11.9 11.7l1.7 1.1l4.2 1.1l4.3 3l3.4 1.5l3.4 2.6l3.4-1l3.4-.4l5.9-2.1l12 2.4l12.7-2.1l8.5 3.1l3.4-.4l5.1 2.6l6.8 1.4l3.4 3.7l6 5.1l8.5 10.7l3.4 6.2l5.1 12.8l5.1 10.4l1.7 2.1l3.4 2.7l5.9 8.8l1.7 9.4l2.6 24.8l.9 5.6l.8 2l1.7-2.4l1.7-5l2.6-.1l2.5 1.6l6-12.8l5.1 6.5l5.9-11.1l1.7 2.5l3.4 3.3l.9-.8l5.1-9.6l5.1 7.4l.8 .6l5.1-10.2l.9 0l5.1 6.4l4.2-8.7l1.7-2.1l5.1 5.7l.9-1l5.1-12.2l2.5 3.4l2.6 2.6l.8 .2l5.1-12.9l.9-.3l5.1 6.8l6-13.9l2.5 2.8l3.4 5.5l5.1-14.3l.9-.9l5.1 7.2l.8-.6l5.1-11.9l.9-.2l5.1 5l5.9-15l2.6 3l3.4 2.1l5.9-13l3.4 3.7l2.6 3.9l2.5-5.5l3.4-9.8l6 8.7l5.9-13.2l6 12.3l6-12.8l5.9 11.7l6-13.4l.8 .7l2.6 4.5l2.5 5.7l.9 .2l2.5-4.8l2.6-6.6l.8-.7l6 12l5.9-15.2l6 12.9l.8-.3l1.7-3.4l4.3-11.4l3.4 7.4l2.5 8.4l6-16.7l.8 .1l6 16.3l5.9-13.7l.9 .3l6 17.6l5.9-13.1l.9-.6l5.9 17.5l.9-.5l5.9-14.7l6.8 21.7l6-15.3l.8-.7l6 20.5l.8 .8l6-17.4l.8-.3l6 22.8l.8 1l6-19.1l.8-1.1l3.4 13.2l3.4 10.3l3.4-8.8l3.4-11.3l6.8 26.6l.9-1.2l6-22l.8-.2l6.8 29.7l6.8-29.3l6.8 31.6l.9 1.2l6.8-33.4l6.8 38.6l.8 .4l6.8-39.8l6.8 44.5l.9 1.1l6.8-44.1l7.6 47.9l6.8-49.1l.9 1.1l6.8 53.5l7.7-55.8l6.8 58.4l.8 1.9l6.8-58.8l.9 2.2l6.8 62.9l7.6-69l7.7 73.3l7.6-73l6.8 68.3l.9 4.3l6.8-70.2l.8-3.4l6.8 74l.9 3l6.8-77.5l.9-2.1" stroke="#ffae68"/>
<path d="M176.0 1249.2l4.2 5.3l5.1 2.3l3.4-1.9l3.4 .6l3.4-1.3l3.4 .7l5.1-.4l1.7-1l2.6-3.2l2.5-1l1.7-2.9l4.3-3l2.6-4l3.4-1.8l3.4-5.9l5.1-5.6l3.4-6.2l5.9-7.7l3.4-6.9l4.3-1.4l4.2-4.1l1.7-.2l2.6-1.3l5.1-4.3l4.2-2.7l2.6-.3l4.2-3.8l5.1-2.9l1.7-.3l3.4-4.6l1.7-1.5l2.6-1.7l2.5-.5l2.6-3.1l4.2-1.5l2.6-2.8l2.5-.9l4.3-7.4l.9-.3l1.7 .7l.8-.3l4.3-2.1l2.5-2.7l7.7-10.5l3.4-5.9l5.1-5.7l6.8-10.5l2.5-1.2l.9-1.2l9.3-15.6l4.3-9l5.9-5.4l1.7-2.2l5.1-12.8l6-10.4l3.4-7.5l5.1-6l2.5-2.1l2.6-4.2l1.7-1.1l3.4-5l3.4-1.1l3.4-3.4l2.6-1.2l5.9-4.3l4.3-.6l4.2-1.5l2.6 .3l2.5-2.3l1.7-.3l2.6-2.9l1.7-.9l2.5 .9l6.8-1.6l2.6 1.4l2.5-3.1l3.4-1.2l3.4-3.8l1.7-.7l3.4 .1l.9-.6l2.5-4.4l4.3-3.3l2.5-3.1l5.1-2.7l2.6-2.5l3.4-2.2l.9-.3l1.7 .3l.8-.4l5.1-7.2l2.6-4.5l6.8-7.7l1.7-.7l2.5-2.8l2.6-1.7l5.1-1.9l3.4-3.2l.8-.3l5.1 2.2l.9-.1l2.5-2.9l1.7-.6l1.7 .9l2.6 2.8l4.2-.6l1.7 .7l2.6 1.9l2.5-1.6l.9 .3l1.7 2.5l5.1 1.1l3.4 3.2l1.7 0l2.5 1.3l2.6-1.3l.8 .3l7.7 6.7l2.6 0l4.2 1.8l3.4 3.3l2.6 1.4l3.4 .4l3.4 2.7l4.2 0l2.6 1.4l2.5 .1l6 2.6l2.5-.1l1.7 .7l2.6 .1l4.2 3l2.6 2.4l.8-.1l4.3-3.1l4.2 .8l2.6-.3l3.4 1.6l2.5-1.1l2.6 .4l3.4-1l2.5 .6l3.4-2.7l.9 0l3.4 1.8l.9-.2l4.2-1.3l3.4-2.1l3.4-1.5l3.4 1l.9-.2l7.6-5l4.3-3.8l3.4-.9l2.5-2.6l2.6-.7l4.2-4.4l1.7-.9l3.4-.9l6-7.9l2.5-2.7l4.3-6.1l1.7-3.8l2.5-8l.9-1l1.7-.7l2.5-.1l4.3 2.6l2.5-.2l5.1 1.1l5.2-1.2l1.7-1.7l3.4-1.4l1.7-1.6l5.1-7.6l5.9-6.3l2.6-1.3l2.5-2.6l5.1-3.8l2.6-.9l3.4-4.5l5.1-2.8l3.4-4.6l3.4-.3l3.4-3.1l1.7 .1l.8-.5l2.6-3.4l3.4-3l1.7-.7l1.7 .1l.8-.6l2.6-3l1.7-.6l3.4-2.7l2.5-3.1l2.6-.2l2.5-2l2.6-1.2l3.4-3.9l2.6 .1l.8-.5l7.7-6.6l1.7-.9l2.5-2.9l2.6 .2l.8-.4l3.4-3.3l3.4-1.1l3.4-2.6l3.4-3.6l6-1.8l6.8-6.5l2.5-.3l1.7-1.2l3.4-1.1l2.6-.1l3.4-1.7l.8-.7l2.6-4.1l5.1-2.4l2.5-1.9l.9-.1l1.7 1.4l.8 0l3.4-3.7l1.7-1l2.6 .3l2.5-.9l2.6 1.3l.9 0l5.9-4.3l1.7-.2l1.7 .6l.9-.3l1.7-2.1l.8-.2l1.7 .7l3.4-.8l3.4 1.4l3.4-2.6l.9 0l2.5 1.7l4.3-.3l2.5-2.7l1.7-.7l1.7 .4l2.6-.8l1.7 .7l5.9 .7l3.4-1.9l2.6-2.6l2.5 1.2l7.7-.5l2.5 .6l4.3-2.4l3.4 1.8l2.5-1.8l2.6 .9l2.5-1.3l1.8 1.1l4.2 1l2.6-.4l2.5-2.1l6 1.5l4.2-.4l3.4 1.6l3.4-2.1l3.4 .3l2.6-.8l2.5 1.5l1.7 .1l3.4-.9l2.6-1.7l3.4 1.1l2.5 1.9l2.6-.9l2.5 .4l1.7-1l.9 0l2.5 1.4l4.3-.6l2.5 .8l1.7-.7l.9 .3l2.5 3l.9 .4l2.5-.6l2.6-1.7l3.4 1.4l1.7-1l1.7 .3l.8-.4l1.8-1.9l.8 0l1.7 1.1l2.6-1l2.5 0l2.6-.9l5.1-3.6l2.5-.1l4.3-1.3l3.4-2.7l2.5 .4l2.6-.2l2.5 .6l3.4-1.5l3.4 1.8l2.6-.6l2.5 .7l8.5-1.7l3.4-1.6l2.6 1.1l3.4 .2l3.4-.7l2.5 .7l2.6 1.3l2.5-1.7l2.6 .5l1.7-.6l2.5 .9l2.6-2.3l1.7-.5l4.3 .8l3.4 2.9l.8 .1l3.4-.5l3.4-1.8l2.6 .7l5.1-1l3.4 .2l5.1-2.1l3.4 .6l2.5 1.3l2.6-1.2l5.9 .5l2.6 .8l2.5-1.1l3.4 .4l3.4-2.3l3.4 2l4.3 .3l6.8-1.6l2.5-1.4l2.6 2.4l.8 .1l2.6-2.2l4.3 .3l2.5 1.2l1.7-1.1l2.6 .1l4.2-.9l2.6 .2l1.7-.5l2.5 1.1l2.6-1.6l2.5 1.4l3.4 .7l4.3-1.7l3.4 .4l1.7-.2l2.5-1.4l4.3 .5l2.5 1.2l2.6-1.4l.8 .1l2.6 1.5l.8-.1l2.6-2.8l.8-.1l2.6 1l5.9-.6l6.8 1.8l4.3-2.5l1.7 .4l3.4-.2l2.5-.8l4.3 1.7l3.4-.9l1.7 .4l5.1-2.1l.9 0l2.5 2.5l.9 0l2.5-1.8l4.3 .7l2.5-1l2.6 1.2l1.7 .1l1.7 1.5l.8 .1l1.7-.9l3.4-3.3l2.6 1.2l1.7-.5l3.4 .6l3.4-.5l3.4 .5l3.4-1.8l1.7 .3l2.5 1.6l2.6-1.1l2.5 1.4l3.4-1.6l3.4 1.8l2.6-.4l2.5-1.8l2.6 2.4l2.5-.1l2.6 .9l3.4-2l2.6-.2l2.5-.7l2.6 1l2.5-.9l2.6 .1l1.7-.5l2.5 .9l4.3-.1l1.7-.7l2.5 .3l6-2.3l3.4 .7l.8-.2l2.6-1.9l2.5-.3l4.3-2.9l2.5-2.8l3.4-.2l2.6-2.2l1.7-2.3l3.4-3.1l.8-.3l.9 .6l4.2 6.6l2.6 3l2.5-.6l2.6 1.4l5.9 1.8l.9 .8l3.4 8.3l2.6 4.2l.8 .7l2.6 .1l3.4-1.2l3.4-2.6l1.7-.2l5.9-5.3l2.6-.4l5.1-8.2l1.7-1.1l4.2-.8l4.3 1.1l4.2-2.5l2.6 .3l1.7-.5l3.4 2.3l5.1-3.3l1.7 1.2l.8 0l2.6-1.9l5.1 1l2.5-1.1l4.3-.1l2.5-2.3l3.4-.4l3.4 .8l5.2-4.2l2.5 .2l1.7-.7l3.4-3.2l2.6 .9l.8-.4l3.4-4.3l3.4-1.6l2.6 .2l5.1-4.3l5.1 .9l5.9-4.4l2.6 .3l2.5-2.2l1.7 0l2.6 1.3l2.5-1l3.4-2.1l2.6 .4l2.5-1.1l2.6 .6l2.5-2.3l2.6-.3l3.4-3l3.4 1.3l4.2-1.9l3.4 .3l4.3-1.9l2.6-2.5l2.5-.7l2.6-1.6l5.1 .8l3.4-.5l4.2-3.3l3.4 .7l2.6-1.1l3.4 .9l4.2 2.8l2.6-.5l3.4 .3l3.4 2.5l2.5 2.7l3.4 .2l2.6 2l.8 .2l2.6-.6l3.4 3.6l5.1 .9l2.5 2.7l2.6 .9l4.2 3.6l6 2.3l2.5 3.3l.9 .4l17.9-1.4l4.2 .7l3.4-2.8l1.7 .2l3.4 2.7l.9 .2l2.5-1.2l2.6-2.2l2.5-.7l3.4 2.5l3.4-1.3l2.6 0l3.4 .9l1.7-.4l2.5-2.2l.9 0l2.5 2l.9 .2l2.5-.9l2.6 .5l2.5 2.1l.9 .1l1.7-.8l.8 .3l1.7 1.8l2.6-.2l3.4 1.3l3.4-2l2.5 .1l2.6-1.1l2.6 1.3l4.2-2.4l3.4-2.9l2.6 .8l2.5-1.6l4.3-1.7l4.2-.6l3.4-3.4l3.4-1.1l3.4-2.9l1.7-.7l3.4-.2l2.6-1.8l2.5-1l1.7 .6l2.6 2.4l2.5-.7l6 .9l4.2-1.1l3.4 1.4l2.6-.7l2.5 1.5l2.6-.1l1.7 .8l1.7-.8l3.4 .6l4.2-1.1l9.4 1l3.4-1.6l2.6 .5l2.5 1.4l4.3-.1l5.9 1.8l4.3 .3l4.2-.6l1.7 .3l2.6-1.3l.8 0l2.6 2.1l4.2 .8l4.3-1.7l3.4 2.1l2.5-1.2l2.6 .1l2.5-2.4l1.7 .3l2.6 1.7l2.5 0l1.7 1l2.6-1.3l1.7 .2l1.7-.6l1.7 .3l2.5-2l1.7 1.1l1.8 .3" stroke="#000" stroke-width="7"/>
</g>
<g fill="none" stroke="#1c1c1c">
<rect x="176.0" y="77.0" width="1829.0" height="1458.5" stroke-width="4.6"/>
</g>
<g font-size="56" fill="#1c1c1c">
<text x="218.5" y="1603" text-anchor="middle">400</text>
<text x="388.6" y="1603" text-anchor="middle">600</text>
<text x="558.7" y="1603" text-anchor="middle">800</text>
<text x="728.8" y="1603" text-anchor="middle">1000</text>
<text x="898.9" y="1603" text-anchor="middle">1200</text>
<text x="1069.0" y="1603" text-anchor="middle">1400</text>
<text x="1239.1" y="1603" text-anchor="middle">1600</text>
<text x="1409.2" y="1603" text-anchor="middle">1800</text>
<text x="1579.3" y="1603" text-anchor="middle">2000</text>
<text x="1749.4" y="1603" text-anchor="middle">2200</text>
<text x="1919.5" y="1603" text-anchor="middle">2400</text>
<text x="159" y="1554.5" text-anchor="end">0</text>
<text x="159" y="1311.5" text-anchor="end">10</text>
<text x="159" y="1068.5" text-anchor="end">20</text>
<text x="159" y="825.5" text-anchor="end">30</text>
<text x="159" y="582.5" text-anchor="end">40</text>
<text x="159" y="339.5" text-anchor="end">50</text>
<text x="159" y="96.5" text-anchor="end">60</text>
</g>
<text x="1090" y="1668" text-anchor="middle" font-size="56" font-weight="bold" fill="#1c1c1c">Wavelength / nm</text>
<text transform="translate(83 806.5) rotate(-90)" text-anchor="middle" font-size="56" font-weight="bold" fill="#1c1c1c">Spectral Reflectance / %</text>
<g>
<rect x="1178" y="112.5" width="797.5" height="265.5" fill="#fff" stroke="#1c1c1c" stroke-width="4.6"/>
<path d="M1189 149.3H1273.6" stroke="#008a1a" stroke-width="8"/>
<path d="M1189 213.4H1273.6" stroke="#000" stroke-width="8"/>
<defs><linearGradient id="lg" x1="0" x2="1" y1="0" y2="0">
<stop offset="0" stop-color="#3a86c8"/><stop offset="0.06" stop-color="#0a78c4"/>
<stop offset="0.17" stop-color="#0070b8"/><stop offset="0.22" stop-color="#3a96a0"/>
<stop offset="0.30" stop-color="#a4dc90"/><stop offset="0.38" stop-color="#40b040"/>
<stop offset="0.44" stop-color="#00a028"/><stop offset="0.51" stop-color="#6a9a50"/>
<stop offset="0.56" stop-color="#d09080"/><stop offset="0.62" stop-color="#ff9898"/>
<stop offset="0.70" stop-color="#ff5050"/><stop offset="0.77" stop-color="#f01c14"/>
<stop offset="0.83" stop-color="#ff5030"/><stop offset="0.90" stop-color="#ffb868"/>
<stop offset="0.96" stop-color="#ffaa40"/><stop offset="1" stop-color="#ff9020"/>
</linearGradient></defs>
<rect x="1190" y="306.9" width="84" height="6" fill="url(#lg)"/>
<g font-size="56" fill="#000">
<text x="1282" y="168.4">Dust-free leaves</text>
<text x="1282" y="232.2">Infinitely thick dust</text>
<text x="1282" y="296.3">Leaves with different amounts</text>
<text x="1282" y="360">of dustfall</text>
</g>
</g>
</svg>
</body></html>
